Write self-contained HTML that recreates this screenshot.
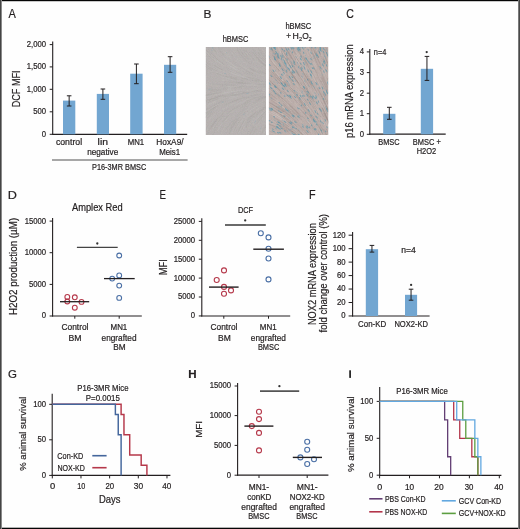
<!DOCTYPE html>
<html><head><meta charset="utf-8"><style>
html,body{margin:0;padding:0;background:#fff;}
body{width:520px;height:529px;overflow:hidden;position:relative;}
svg{position:absolute;left:0;top:0;will-change:transform;}
text{font-family:"Liberation Sans",sans-serif;stroke:#231f20;stroke-width:0.2px;}
</style></head><body>
<svg width="520" height="529" viewBox="0 0 520 529">
<defs><filter id="nz" x="0" y="0" width="100%" height="100%"><feTurbulence type="fractalNoise" baseFrequency="0.8" numOctaves="2" seed="4"/><feColorMatrix type="matrix" values="0.6 0.2 0.2 0 0.05  0.2 0.6 0.2 0 0.05  0.2 0.2 0.6 0 0.05  0 0 0 0 1"/></filter></defs>
<rect x="0" y="0" width="520" height="529" fill="#fefefe"/>
<text x="8.48" y="17.70" font-size="12.3" textLength="7.34" lengthAdjust="spacingAndGlyphs" fill="#231f20">A</text>
<line x1="52.7" y1="41.5" x2="52.7" y2="134.8" stroke="#231f20" stroke-width="1.1"/>
<line x1="49.7" y1="44.6" x2="52.7" y2="44.6" stroke="#231f20" stroke-width="1.0"/>
<text x="26.81" y="47.00" font-size="8.2" textLength="19.29" lengthAdjust="spacingAndGlyphs" fill="#231f20">2,000</text>
<line x1="49.7" y1="66.9" x2="52.7" y2="66.9" stroke="#231f20" stroke-width="1.0"/>
<text x="26.81" y="69.30" font-size="8.2" textLength="19.29" lengthAdjust="spacingAndGlyphs" fill="#231f20">1,500</text>
<line x1="49.7" y1="89.3" x2="52.7" y2="89.3" stroke="#231f20" stroke-width="1.0"/>
<text x="26.81" y="91.70" font-size="8.2" textLength="19.29" lengthAdjust="spacingAndGlyphs" fill="#231f20">1,000</text>
<line x1="49.7" y1="111.8" x2="52.7" y2="111.8" stroke="#231f20" stroke-width="1.0"/>
<text x="33.24" y="114.20" font-size="8.2" textLength="12.86" lengthAdjust="spacingAndGlyphs" fill="#231f20">500</text>
<line x1="49.7" y1="134.3" x2="52.7" y2="134.3" stroke="#231f20" stroke-width="1.0"/>
<text x="41.81" y="136.70" font-size="8.2" textLength="4.29" lengthAdjust="spacingAndGlyphs" fill="#231f20">0</text>
<line x1="52.2" y1="134.3" x2="187.2" y2="134.3" stroke="#231f20" stroke-width="1.2"/>
<rect x="63" y="100.6" width="12.299999999999997" height="33.70000000000002" fill="#72a6d1"/>
<line x1="69.15" y1="95.8" x2="69.15" y2="106" stroke="#231f20" stroke-width="1.0"/>
<line x1="66.85000000000001" y1="95.8" x2="71.45" y2="95.8" stroke="#231f20" stroke-width="1.0"/>
<line x1="66.85000000000001" y1="106" x2="71.45" y2="106" stroke="#231f20" stroke-width="1.0"/>
<rect x="96.8" y="93.9" width="12.200000000000003" height="40.400000000000006" fill="#72a6d1"/>
<line x1="102.9" y1="89" x2="102.9" y2="99.3" stroke="#231f20" stroke-width="1.0"/>
<line x1="100.60000000000001" y1="89" x2="105.2" y2="89" stroke="#231f20" stroke-width="1.0"/>
<line x1="100.60000000000001" y1="99.3" x2="105.2" y2="99.3" stroke="#231f20" stroke-width="1.0"/>
<rect x="130.2" y="73.7" width="12.400000000000006" height="60.60000000000001" fill="#72a6d1"/>
<line x1="136.39999999999998" y1="64" x2="136.39999999999998" y2="83.7" stroke="#231f20" stroke-width="1.0"/>
<line x1="134.09999999999997" y1="64" x2="138.7" y2="64" stroke="#231f20" stroke-width="1.0"/>
<line x1="134.09999999999997" y1="83.7" x2="138.7" y2="83.7" stroke="#231f20" stroke-width="1.0"/>
<rect x="164.0" y="64.8" width="12.199999999999989" height="69.50000000000001" fill="#72a6d1"/>
<line x1="170.1" y1="56.7" x2="170.1" y2="72.3" stroke="#231f20" stroke-width="1.0"/>
<line x1="167.79999999999998" y1="56.7" x2="172.4" y2="56.7" stroke="#231f20" stroke-width="1.0"/>
<line x1="167.79999999999998" y1="72.3" x2="172.4" y2="72.3" stroke="#231f20" stroke-width="1.0"/>
<text x="55.93" y="144.90" font-size="8.2" textLength="26.15" lengthAdjust="spacingAndGlyphs" fill="#231f20">control</text>
<text x="97.60" y="144.90" font-size="8.2" textLength="10.37" lengthAdjust="spacingAndGlyphs" fill="#231f20">lin</text>
<text x="87.15" y="155.10" font-size="8.2" textLength="31.11" lengthAdjust="spacingAndGlyphs" fill="#231f20">negative</text>
<text x="127.76" y="144.90" font-size="8.2" textLength="16.42" lengthAdjust="spacingAndGlyphs" fill="#231f20">MN1</text>
<text x="156.32" y="145.10" font-size="8.2" textLength="27.28" lengthAdjust="spacingAndGlyphs" fill="#231f20">HoxA9/</text>
<text x="159.15" y="155.10" font-size="8.2" textLength="21.03" lengthAdjust="spacingAndGlyphs" fill="#231f20">Meis1</text>
<line x1="52" y1="160" x2="187.6" y2="160" stroke="#8a8a8a" stroke-width="1.6"/>
<text x="92.10" y="170.10" font-size="8.2" textLength="54.08" lengthAdjust="spacingAndGlyphs" fill="#231f20">P16-3MR BMSC</text>
<text transform="translate(19.60,107.24) rotate(-90)" font-size="11" textLength="36.78" lengthAdjust="spacingAndGlyphs" fill="#231f20">DCF MFI</text>
<text x="203.53" y="17.60" font-size="11.6" textLength="7.90" lengthAdjust="spacingAndGlyphs" fill="#231f20">B</text>
<text x="222.68" y="42.40" font-size="8.2" textLength="25.60" lengthAdjust="spacingAndGlyphs" fill="#231f20">hBMSC</text>
<text x="285.38" y="29.20" font-size="8.2" textLength="25.91" lengthAdjust="spacingAndGlyphs" fill="#231f20">hBMSC</text>
<rect x="205.8" y="47" width="60.2" height="88" fill="#b4afad"/>
<clipPath id="cp205"><rect x="205.8" y="47" width="60.2" height="88"/></clipPath><g clip-path="url(#cp205)">
<path d="M223.9,57.5 L225.3,58.9 L226.8,60.2 L228.3,61.5 L229.9,62.7 L231.5,63.9 L233.2,65.1 L234.8,66.1 L236.5,67.2" fill="none" stroke="#c9c5c3" stroke-width="0.6" opacity="0.4"/>
<path d="M257.8,52.0 L258.9,53.7 L260.1,55.3 L261.4,56.8 L262.7,58.3 L264.1,59.8 L265.6,61.2 L267.0,62.5 L268.6,63.8" fill="none" stroke="#9e9896" stroke-width="0.6" opacity="0.4"/>
<path d="M204.4,84.6 L206.4,84.7 L208.4,84.8 L210.4,84.9 L212.3,85.0" fill="none" stroke="#c9c5c3" stroke-width="0.6" opacity="0.4"/>
<path d="M239.4,48.7 L240.4,50.4 L241.5,52.1 L242.7,53.7 L243.9,55.2 L245.3,56.7 L246.6,58.2 L248.0,59.6" fill="none" stroke="#9e9896" stroke-width="0.6" opacity="0.4"/>
<path d="M244.8,99.0 L246.7,98.3 L248.6,97.7 L250.5,97.1 L252.4,96.6" fill="none" stroke="#a7a2a0" stroke-width="0.6" opacity="0.4"/>
<path d="M205.2,64.2 L206.9,65.3 L208.6,66.3 L210.3,67.3 L212.1,68.3 L213.9,69.2 L215.7,70.0 L217.5,70.9" fill="none" stroke="#9e9896" stroke-width="0.6" opacity="0.4"/>
<path d="M221.6,56.8 L223.0,58.3 L224.4,59.6 L226.0,60.9 L227.5,62.2" fill="none" stroke="#c2bebc" stroke-width="0.6" opacity="0.4"/>
<path d="M240.0,108.5 L241.7,107.4 L243.4,106.3 L245.1,105.3 L246.9,104.4" fill="none" stroke="#9e9896" stroke-width="0.6" opacity="0.4"/>
<path d="M227.2,95.6 L229.1,95.1 L231.1,94.7 L233.1,94.3 L235.0,93.9" fill="none" stroke="#c9c5c3" stroke-width="0.6" opacity="0.4"/>
<path d="M244.0,90.7 L246.0,90.5 L248.0,90.3 L250.0,90.1 L252.0,89.9 L254.0,89.7 L256.0,89.6 L258.0,89.4" fill="none" stroke="#c2bebc" stroke-width="0.6" opacity="0.4"/>
<path d="M233.6,131.7 L234.4,129.8 L235.2,128.0 L236.2,126.2 L237.1,124.5 L238.2,122.8 L239.3,121.2" fill="none" stroke="#9e9896" stroke-width="0.6" opacity="0.4"/>
<path d="M256.0,110.1 L257.6,108.9 L259.2,107.8 L260.9,106.7 L262.6,105.6 L264.3,104.6" fill="none" stroke="#c2bebc" stroke-width="0.6" opacity="0.4"/>
<path d="M237.6,127.0 L238.6,125.3 L239.6,123.5 L240.7,121.9 L241.9,120.2 L243.1,118.7 L244.4,117.2 L245.8,115.7 L247.2,114.3 L248.7,112.9" fill="none" stroke="#c2bebc" stroke-width="0.6" opacity="0.4"/>
<path d="M243.3,50.0 L244.4,51.7 L245.6,53.3 L246.8,54.9 L248.1,56.5 L249.4,57.9 L250.8,59.4 L252.3,60.7" fill="none" stroke="#9e9896" stroke-width="0.6" opacity="0.4"/>
<path d="M253.4,57.6 L254.8,59.0 L256.2,60.4 L257.7,61.8 L259.3,63.1 L260.8,64.3 L262.4,65.5 L264.1,66.6" fill="none" stroke="#c9c5c3" stroke-width="0.6" opacity="0.4"/>
<path d="M267.4,50.5 L268.4,52.2 L269.5,53.8 L270.7,55.5 L271.9,57.0 L273.3,58.5 L274.6,60.0 L276.0,61.4" fill="none" stroke="#c2bebc" stroke-width="0.6" opacity="0.4"/>
<path d="M225.0,76.6 L226.9,77.1 L228.9,77.6 L230.8,78.1 L232.8,78.6 L234.7,79.0 L236.7,79.4 L238.6,79.8" fill="none" stroke="#a7a2a0" stroke-width="0.6" opacity="0.4"/>
<path d="M206.5,52.0 L207.8,53.5 L209.1,55.0 L210.5,56.4 L211.9,57.8 L213.4,59.2" fill="none" stroke="#c9c5c3" stroke-width="0.6" opacity="0.4"/>
<path d="M205.9,110.3 L207.6,109.2 L209.3,108.1 L211.0,107.1 L212.7,106.1 L214.5,105.1 L216.3,104.2 L218.0,103.4 L219.9,102.5" fill="none" stroke="#a7a2a0" stroke-width="0.6" opacity="0.4"/>
<path d="M221.2,80.0 L223.2,80.4 L225.2,80.7 L227.1,81.0 L229.1,81.3 L231.1,81.6 L233.1,81.9 L235.0,82.2 L237.0,82.4" fill="none" stroke="#c9c5c3" stroke-width="0.6" opacity="0.4"/>
<path d="M266.0,77.1 L267.9,77.7 L269.8,78.2 L271.7,78.7 L273.7,79.2 L275.6,79.6 L277.6,80.1 L279.5,80.5 L281.5,80.8" fill="none" stroke="#a7a2a0" stroke-width="0.6" opacity="0.4"/>
<path d="M205.8,116.8 L207.3,115.4 L208.8,114.0 L210.3,112.8 L211.9,111.5" fill="none" stroke="#9e9896" stroke-width="0.6" opacity="0.4"/>
<path d="M228.9,131.0 L229.8,129.2 L230.7,127.4 L231.6,125.6 L232.6,123.9 L233.7,122.3 L234.9,120.6 L236.2,119.1" fill="none" stroke="#9e9896" stroke-width="0.6" opacity="0.4"/>
<path d="M232.4,95.7 L234.4,95.3 L236.3,94.8 L238.3,94.4 L240.2,94.0 L242.2,93.6 L244.2,93.3 L246.1,92.9 L248.1,92.6 L250.1,92.3 L252.1,92.0" fill="none" stroke="#a7a2a0" stroke-width="0.6" opacity="0.4"/>
<path d="M260.7,69.7 L262.5,70.7 L264.3,71.5 L266.1,72.4 L267.9,73.2 L269.8,74.0 L271.6,74.7" fill="none" stroke="#c2bebc" stroke-width="0.6" opacity="0.4"/>
<path d="M248.4,79.5 L250.3,79.9 L252.3,80.3 L254.3,80.7 L256.2,81.0 L258.2,81.4" fill="none" stroke="#c9c5c3" stroke-width="0.6" opacity="0.4"/>
<path d="M213.8,65.3 L215.5,66.3 L217.3,67.3 L219.0,68.3 L220.8,69.2 L222.6,70.1" fill="none" stroke="#a7a2a0" stroke-width="0.6" opacity="0.4"/>
<path d="M258.5,60.5 L260.0,61.9 L261.5,63.1 L263.1,64.4 L264.7,65.6 L266.3,66.7" fill="none" stroke="#9e9896" stroke-width="0.6" opacity="0.4"/>
<path d="M230.4,78.4 L232.3,78.9 L234.3,79.3 L236.2,79.7 L238.2,80.1 L240.2,80.4 L242.1,80.8 L244.1,81.1" fill="none" stroke="#9e9896" stroke-width="0.6" opacity="0.4"/>
<path d="M248.9,92.5 L250.9,92.2 L252.8,91.9 L254.8,91.6 L256.8,91.4 L258.8,91.1 L260.8,90.9 L262.8,90.7 L264.8,90.5" fill="none" stroke="#c9c5c3" stroke-width="0.6" opacity="0.4"/>
<path d="M232.9,126.6 L233.9,124.9 L235.0,123.2 L236.1,121.5 L237.3,119.9 L238.6,118.4 L239.9,116.9 L241.3,115.4 L242.7,114.0 L244.2,112.7 L245.7,111.4" fill="none" stroke="#a7a2a0" stroke-width="0.6" opacity="0.4"/>
<path d="M228.9,80.8 L230.9,81.1 L232.9,81.4 L234.9,81.7 L236.9,82.0 L238.8,82.3 L240.8,82.5 L242.8,82.7" fill="none" stroke="#a7a2a0" stroke-width="0.6" opacity="0.4"/>
<path d="M206.0,49.5 L207.2,51.1 L208.5,52.6 L209.8,54.2 L211.1,55.6 L212.5,57.1" fill="none" stroke="#9e9896" stroke-width="0.6" opacity="0.4"/>
<path d="M209.3,100.7 L211.2,100.0 L213.1,99.3 L215.0,98.7 L216.9,98.1" fill="none" stroke="#9e9896" stroke-width="0.6" opacity="0.4"/>
<path d="M238.4,134.1 L239.2,132.3 L240.1,130.5 L240.9,128.7 L241.8,126.9 L242.7,125.1 L243.8,123.4 L244.9,121.7 L246.0,120.1" fill="none" stroke="#c9c5c3" stroke-width="0.6" opacity="0.4"/>
<path d="M261.4,102.0 L263.3,101.1 L265.1,100.4 L267.0,99.6 L268.8,98.9 L270.7,98.3" fill="none" stroke="#c2bebc" stroke-width="0.6" opacity="0.4"/>
<path d="M267.0,100.8 L268.8,100.1 L270.7,99.3 L272.6,98.7 L274.5,98.0 L276.4,97.4 L278.3,96.8 L280.2,96.3" fill="none" stroke="#c9c5c3" stroke-width="0.6" opacity="0.4"/>
<path d="M259.7,138.3 L260.5,136.5 L261.4,134.7 L262.2,132.9 L263.1,131.1 L263.9,129.3 L264.8,127.5 L265.6,125.6" fill="none" stroke="#a7a2a0" stroke-width="0.6" opacity="0.4"/>
<path d="M223.1,56.8 L224.5,58.2 L226.0,59.6 L227.5,60.9 L229.0,62.2 L230.6,63.4 L232.2,64.5 L233.9,65.7 L235.6,66.7 L237.3,67.7" fill="none" stroke="#c2bebc" stroke-width="0.6" opacity="0.4"/>
<path d="M234.4,109.4 L236.1,108.3 L237.8,107.2 L239.5,106.2 L241.2,105.2 L243.0,104.2 L244.8,103.3 L246.6,102.5" fill="none" stroke="#9e9896" stroke-width="0.6" opacity="0.4"/>
<path d="M266.7,93.7 L268.6,93.3 L270.6,93.0 L272.6,92.7 L274.5,92.3 L276.5,92.0" fill="none" stroke="#c9c5c3" stroke-width="0.6" opacity="0.4"/>
<path d="M253.5,71.6 L255.3,72.4 L257.2,73.2 L259.0,74.0 L260.9,74.7 L262.8,75.4 L264.7,76.0 L266.6,76.6 L268.5,77.2" fill="none" stroke="#c9c5c3" stroke-width="0.6" opacity="0.4"/>
<path d="M249.3,68.1 L251.0,69.1 L252.8,70.0 L254.6,70.9 L256.4,71.8 L258.2,72.6 L260.0,73.4" fill="none" stroke="#9e9896" stroke-width="0.6" opacity="0.4"/>
<path d="M226.1,64.4 L227.7,65.5 L229.4,66.6 L231.1,67.6 L232.9,68.6 L234.7,69.5 L236.4,70.4 L238.3,71.2" fill="none" stroke="#c2bebc" stroke-width="0.6" opacity="0.4"/>
<path d="M245.2,101.9 L247.0,101.1 L248.9,100.3 L250.8,99.6 L252.6,98.9 L254.5,98.3 L256.4,97.7 L258.4,97.1 L260.3,96.5 L262.2,96.0" fill="none" stroke="#9e9896" stroke-width="0.6" opacity="0.4"/>
<path d="M256.8,121.6 L257.9,119.9 L259.1,118.3 L260.4,116.8 L261.8,115.3 L263.2,113.9 L264.6,112.5 L266.1,111.2 L267.7,110.0 L269.3,108.8" fill="none" stroke="#9e9896" stroke-width="0.6" opacity="0.4"/>
<path d="M215.4,90.3 L217.4,90.1 L219.4,89.9 L221.4,89.8 L223.4,89.6 L225.4,89.5 L227.4,89.3 L229.4,89.2 L231.4,89.1 L233.4,88.9" fill="none" stroke="#c9c5c3" stroke-width="0.6" opacity="0.4"/>
<path d="M255.7,88.3 L257.7,88.3 L259.7,88.2 L261.7,88.1 L263.7,88.1 L265.7,88.0" fill="none" stroke="#c2bebc" stroke-width="0.6" opacity="0.4"/>
<path d="M232.3,133.0 L233.1,131.1 L234.0,129.3 L234.8,127.5 L235.8,125.7 L236.8,124.0 L237.9,122.3 L239.0,120.7 L240.3,119.1 L241.6,117.6 L242.9,116.1" fill="none" stroke="#c2bebc" stroke-width="0.6" opacity="0.4"/>
<path d="M207.3,52.8 L208.6,54.3 L210.0,55.8 L211.4,57.2 L212.8,58.6 L214.3,59.9 L215.9,61.1 L217.5,62.4" fill="none" stroke="#c2bebc" stroke-width="0.6" opacity="0.4"/>
<path d="M215.7,102.9 L217.6,102.1 L219.4,101.3 L221.3,100.6 L223.1,99.9 L225.0,99.2 L226.9,98.6 L228.8,98.0 L230.7,97.4 L232.7,96.8 L234.6,96.3" fill="none" stroke="#c9c5c3" stroke-width="0.6" opacity="0.4"/>
<path d="M234.5,105.7 L236.3,104.7 L238.0,103.8 L239.8,102.9 L241.6,102.1 L243.5,101.3 L245.3,100.5 L247.2,99.8 L249.1,99.1 L251.0,98.5" fill="none" stroke="#c9c5c3" stroke-width="0.6" opacity="0.4"/>
<path d="M258.7,54.5 L260.0,56.1 L261.3,57.6 L262.6,59.1 L264.0,60.5 L265.5,61.8 L267.0,63.1" fill="none" stroke="#9e9896" stroke-width="0.6" opacity="0.4"/>
<path d="M234.4,60.1 L235.9,61.4 L237.5,62.7 L239.1,63.9 L240.7,65.1 L242.4,66.2 L244.1,67.2 L245.8,68.3 L247.5,69.2 L249.3,70.2" fill="none" stroke="#c2bebc" stroke-width="0.6" opacity="0.4"/>
<path d="M207.7,133.8 L208.6,132.0 L209.4,130.2 L210.3,128.4 L211.3,126.7 L212.3,125.0 L213.4,123.3 L214.6,121.7 L215.9,120.1 L217.2,118.6" fill="none" stroke="#a7a2a0" stroke-width="0.6" opacity="0.4"/>
<path d="M229.2,133.9 L230.0,132.1 L230.9,130.3 L231.7,128.5 L232.6,126.7 L233.6,124.9 L234.6,123.2 L235.8,121.6 L237.0,120.0 L238.2,118.4" fill="none" stroke="#9e9896" stroke-width="0.6" opacity="0.4"/>
<path d="M269.5,45.6 L270.4,47.5 L271.2,49.3 L272.2,51.0 L273.2,52.7 L274.3,54.4 L275.5,56.0 L276.8,57.6 L278.1,59.1" fill="none" stroke="#a7a2a0" stroke-width="0.6" opacity="0.4"/>
<path d="M256.8,57.0 L258.2,58.5 L259.6,59.9 L261.0,61.3 L262.5,62.6 L264.1,63.9 L265.7,65.1 L267.3,66.3 L268.9,67.4 L270.6,68.4" fill="none" stroke="#a7a2a0" stroke-width="0.6" opacity="0.4"/>
<path d="M246.6,76.6 L248.5,77.2 L250.5,77.7 L252.4,78.2 L254.4,78.7 L256.3,79.2 L258.3,79.6 L260.2,80.0" fill="none" stroke="#9e9896" stroke-width="0.6" opacity="0.4"/>
<path d="M203.3,119.7 L204.6,118.3 L206.0,116.8 L207.4,115.4 L208.9,114.1 L210.5,112.8 L212.0,111.6 L213.6,110.4 L215.3,109.3 L217.0,108.2" fill="none" stroke="#c9c5c3" stroke-width="0.6" opacity="0.4"/>
<path d="M237.7,132.6 L238.6,130.8 L239.4,129.0 L240.3,127.2 L241.2,125.4 L242.2,123.7 L243.3,122.0 L244.4,120.4" fill="none" stroke="#9e9896" stroke-width="0.6" opacity="0.4"/>
<path d="M258.1,63.3 L259.7,64.5 L261.3,65.7 L263.0,66.8 L264.7,67.9 L266.4,68.9" fill="none" stroke="#c2bebc" stroke-width="0.6" opacity="0.4"/>
<path d="M236.0,116.3 L237.4,114.9 L238.9,113.5 L240.4,112.2 L241.9,111.0 L243.5,109.7 L245.1,108.6" fill="none" stroke="#a7a2a0" stroke-width="0.6" opacity="0.4"/>
<path d="M258.7,48.8 L259.7,50.6 L260.7,52.3 L261.8,53.9 L263.0,55.5 L264.3,57.1 L265.6,58.6 L267.0,60.0 L268.5,61.4 L270.0,62.7" fill="none" stroke="#a7a2a0" stroke-width="0.6" opacity="0.4"/>
<path d="M247.0,121.2 L248.2,119.6 L249.4,118.1 L250.7,116.6 L252.1,115.1 L253.5,113.7 L255.0,112.4 L256.5,111.1" fill="none" stroke="#9e9896" stroke-width="0.6" opacity="0.4"/>
<path d="M238.1,93.3 L240.0,92.9 L242.0,92.6 L244.0,92.3 L246.0,92.0" fill="none" stroke="#a7a2a0" stroke-width="0.6" opacity="0.4"/>
<path d="M254.8,101.4 L256.6,100.6 L258.5,99.9 L260.3,99.2 L262.2,98.5 L264.1,97.9 L266.0,97.3 L267.9,96.7 L269.9,96.2 L271.8,95.7" fill="none" stroke="#9e9896" stroke-width="0.6" opacity="0.4"/>
<path d="M213.6,88.5 L215.6,88.4 L217.6,88.3 L219.5,88.2 L221.5,88.1 L223.5,88.0 L225.5,88.0 L227.5,87.9 L229.5,87.9 L231.5,87.8" fill="none" stroke="#c9c5c3" stroke-width="0.6" opacity="0.4"/>
<path d="M224.0,92.8 L226.0,92.4 L228.0,92.2 L230.0,91.9 L231.9,91.6 L233.9,91.3 L235.9,91.1 L237.9,90.9" fill="none" stroke="#c9c5c3" stroke-width="0.6" opacity="0.4"/>
<path d="M262.0,48.5 L263.0,50.2 L264.0,51.9 L265.1,53.6 L266.3,55.2 L267.5,56.8" fill="none" stroke="#c9c5c3" stroke-width="0.6" opacity="0.4"/>
<path d="M254.5,91.7 L256.5,91.5 L258.4,91.2 L260.4,91.0 L262.4,90.8 L264.4,90.6 L266.4,90.4 L268.4,90.2" fill="none" stroke="#c9c5c3" stroke-width="0.6" opacity="0.4"/>
<path d="M232.0,101.8 L233.9,101.0 L235.7,100.3 L237.6,99.6 L239.5,98.9 L241.4,98.3 L243.3,97.7 L245.2,97.1" fill="none" stroke="#9e9896" stroke-width="0.6" opacity="0.4"/>
<path d="M249.0,86.4 L251.0,86.5 L253.0,86.5 L255.0,86.5 L257.0,86.5 L259.0,86.6 L261.0,86.6 L263.0,86.6" fill="none" stroke="#a7a2a0" stroke-width="0.6" opacity="0.4"/>
<path d="M236.4,66.8 L238.1,67.8 L239.9,68.8 L241.7,69.7 L243.4,70.6 L245.3,71.5 L247.1,72.3 L248.9,73.1" fill="none" stroke="#c2bebc" stroke-width="0.6" opacity="0.4"/>
<path d="M264.7,128.7 L265.6,126.9 L266.4,125.1 L267.4,123.3 L268.4,121.6 L269.6,120.0" fill="none" stroke="#a7a2a0" stroke-width="0.6" opacity="0.4"/>
<path d="M211.2,54.7 L212.5,56.1 L213.9,57.5 L215.4,58.9 L216.9,60.2 L218.5,61.5 L220.1,62.7 L221.7,63.9" fill="none" stroke="#c9c5c3" stroke-width="0.6" opacity="0.4"/>
<path d="M247.6,84.1 L249.6,84.3 L251.6,84.4 L253.6,84.6 L255.6,84.7 L257.5,84.8" fill="none" stroke="#c2bebc" stroke-width="0.6" opacity="0.4"/>
<path d="M255.3,129.1 L256.1,127.3 L257.0,125.5 L257.9,123.8 L259.0,122.0 L260.1,120.4" fill="none" stroke="#c2bebc" stroke-width="0.6" opacity="0.4"/>
<path d="M211.6,127.8 L212.5,126.0 L213.6,124.3 L214.8,122.7 L216.0,121.1 L217.2,119.5 L218.5,118.0 L219.9,116.6 L221.4,115.2 L222.8,113.8 L224.4,112.5" fill="none" stroke="#9e9896" stroke-width="0.6" opacity="0.4"/>
<path d="M252.7,52.0 L253.9,53.7 L255.1,55.3 L256.4,56.8 L257.7,58.3 L259.1,59.7 L260.5,61.1 L262.0,62.4 L263.6,63.7 L265.2,64.9 L266.8,66.1" fill="none" stroke="#9e9896" stroke-width="0.6" opacity="0.4"/>
<path d="M269.3,122.9 L270.4,121.2 L271.5,119.6 L272.7,118.0 L274.0,116.4 L275.3,114.9" fill="none" stroke="#a7a2a0" stroke-width="0.6" opacity="0.4"/>
<path d="M269.6,81.8 L271.6,82.1 L273.6,82.4 L275.5,82.6 L277.5,82.9 L279.5,83.1 L281.5,83.4" fill="none" stroke="#c2bebc" stroke-width="0.6" opacity="0.4"/>
<path d="M223.5,112.3 L225.1,111.1 L226.7,109.9 L228.3,108.8 L230.0,107.7" fill="none" stroke="#a7a2a0" stroke-width="0.6" opacity="0.4"/>
<path d="M231.8,44.7 L232.7,46.5 L233.7,48.3 L234.7,50.0 L235.8,51.7 L237.0,53.3 L238.2,54.8" fill="none" stroke="#c2bebc" stroke-width="0.6" opacity="0.4"/>
<path d="M236.7,49.2 L237.8,50.9 L238.9,52.5 L240.1,54.1 L241.4,55.6 L242.7,57.1 L244.1,58.6 L245.6,60.0 L247.1,61.3 L248.6,62.6 L250.2,63.8" fill="none" stroke="#9e9896" stroke-width="0.6" opacity="0.4"/>
<path d="M268.1,53.1 L269.2,54.7 L270.4,56.3 L271.7,57.8 L273.0,59.3 L274.5,60.7" fill="none" stroke="#c9c5c3" stroke-width="0.6" opacity="0.4"/>
<path d="M263.6,60.4 L265.0,61.8 L266.6,63.1 L268.1,64.3 L269.7,65.5 L271.4,66.7 L273.0,67.8 L274.7,68.8 L276.5,69.8 L278.2,70.8" fill="none" stroke="#a7a2a0" stroke-width="0.6" opacity="0.4"/>
<path d="M259.7,107.9 L261.4,106.8 L263.1,105.7 L264.8,104.7 L266.6,103.8 L268.4,102.9 L270.2,102.0 L272.0,101.2 L273.8,100.4 L275.7,99.7 L277.6,99.0" fill="none" stroke="#a7a2a0" stroke-width="0.6" opacity="0.4"/>
<path d="M212.0,131.2 L212.8,129.4 L213.7,127.7 L214.7,125.9 L215.8,124.2 L216.9,122.6 L218.2,121.0 L219.4,119.4" fill="none" stroke="#c2bebc" stroke-width="0.6" opacity="0.4"/>
<path d="M207.9,48.5 L209.0,50.2 L210.2,51.8 L211.5,53.3 L212.8,54.8 L214.2,56.3 L215.6,57.7 L217.1,59.0 L218.6,60.3" fill="none" stroke="#a7a2a0" stroke-width="0.6" opacity="0.4"/>
<path d="M262.9,68.8 L264.6,69.8 L266.4,70.7 L268.2,71.6 L270.0,72.5" fill="none" stroke="#c9c5c3" stroke-width="0.6" opacity="0.4"/>
<path d="M256.5,51.0 L257.6,52.7 L258.7,54.4 L259.9,55.9 L261.2,57.5 L262.6,58.9 L264.0,60.3 L265.5,61.7 L267.0,63.0 L268.5,64.3" fill="none" stroke="#c9c5c3" stroke-width="0.6" opacity="0.4"/>
<path d="M219.8,54.7 L221.2,56.2 L222.6,57.6 L224.0,59.0 L225.5,60.3" fill="none" stroke="#a7a2a0" stroke-width="0.6" opacity="0.4"/>
<path d="M265.0,68.7 L266.7,69.7 L268.5,70.6 L270.3,71.5 L272.1,72.4" fill="none" stroke="#9e9896" stroke-width="0.6" opacity="0.4"/>
<path d="M265.8,136.0 L266.6,134.2 L267.5,132.4 L268.3,130.6 L269.2,128.8 L270.0,127.0" fill="none" stroke="#9e9896" stroke-width="0.6" opacity="0.4"/>
<path d="M215.6,73.0 L217.4,73.6 L219.3,74.3 L221.2,74.9 L223.1,75.5 L225.0,76.1 L227.0,76.7" fill="none" stroke="#9e9896" stroke-width="0.6" opacity="0.4"/>
<path d="M221.6,91.0 L223.6,90.8 L225.6,90.6 L227.5,90.4 L229.5,90.2 L231.5,90.0" fill="none" stroke="#c2bebc" stroke-width="0.6" opacity="0.4"/>
<path d="M256.6,138.5 L257.5,136.7 L258.3,134.8 L259.1,133.0 L260.0,131.2" fill="none" stroke="#c9c5c3" stroke-width="0.6" opacity="0.4"/>
<path d="M251.8,95.9 L253.7,95.4 L255.7,95.0 L257.6,94.5 L259.6,94.1 L261.6,93.7" fill="none" stroke="#a7a2a0" stroke-width="0.6" opacity="0.4"/>
<path d="M218.6,85.9 L220.6,86.0 L222.6,86.0 L224.6,86.0 L226.6,86.1 L228.6,86.1 L230.6,86.1 L232.6,86.2 L234.6,86.2" fill="none" stroke="#a7a2a0" stroke-width="0.6" opacity="0.4"/>
<path d="M246.6,95.4 L248.5,94.9 L250.5,94.5 L252.4,94.1 L254.4,93.7 L256.4,93.3 L258.3,93.0 L260.3,92.7 L262.3,92.3 L264.3,92.0 L266.2,91.8" fill="none" stroke="#c2bebc" stroke-width="0.6" opacity="0.4"/>
<path d="M248.7,137.3 L249.5,135.5 L250.4,133.7 L251.2,131.9 L252.1,130.1 L252.9,128.3 L253.8,126.4" fill="none" stroke="#9e9896" stroke-width="0.6" opacity="0.4"/>
<path d="M229.4,76.4 L231.3,76.9 L233.3,77.4 L235.2,77.9 L237.1,78.4" fill="none" stroke="#9e9896" stroke-width="0.6" opacity="0.4"/>
<path d="M202.8,103.0 L204.6,102.2 L206.5,101.5 L208.3,100.7 L210.2,100.0 L212.1,99.4 L214.0,98.7 L215.9,98.1 L217.8,97.5 L219.7,97.0 L221.6,96.5" fill="none" stroke="#a7a2a0" stroke-width="0.6" opacity="0.4"/>
<path d="M212.9,51.1 L214.2,52.7 L215.4,54.2 L216.8,55.7 L218.2,57.1 L219.6,58.5 L221.1,59.9 L222.6,61.1 L224.2,62.4 L225.8,63.6" fill="none" stroke="#c2bebc" stroke-width="0.6" opacity="0.4"/>
<path d="M242.6,109.5 L244.3,108.3 L245.9,107.2 L247.6,106.2 L249.4,105.2" fill="none" stroke="#9e9896" stroke-width="0.6" opacity="0.4"/>
<path d="M212.5,85.8 L214.5,85.8 L216.5,85.9 L218.5,85.9 L220.5,86.0 L222.5,86.0" fill="none" stroke="#c2bebc" stroke-width="0.6" opacity="0.4"/>
<path d="M268.1,95.5 L270.1,95.0 L272.0,94.6 L274.0,94.2 L275.9,93.8 L277.9,93.4" fill="none" stroke="#c2bebc" stroke-width="0.6" opacity="0.4"/>
<path d="M216.7,60.6 L218.2,61.8 L219.8,63.0 L221.5,64.2 L223.1,65.3 L224.8,66.3 L226.5,67.4" fill="none" stroke="#c9c5c3" stroke-width="0.6" opacity="0.4"/>
<path d="M234.2,91.3 L236.2,91.0 L238.1,90.8 L240.1,90.6 L242.1,90.4 L244.1,90.2" fill="none" stroke="#c9c5c3" stroke-width="0.6" opacity="0.4"/>
<path d="M208.0,121.4 L209.3,119.9 L210.6,118.4 L212.0,116.9 L213.4,115.5 L214.9,114.2" fill="none" stroke="#c9c5c3" stroke-width="0.6" opacity="0.4"/>
<path d="M228.7,71.8 L230.5,72.5 L232.4,73.3 L234.2,74.0 L236.1,74.7 L238.0,75.3 L239.9,75.9 L241.8,76.5 L243.8,77.0" fill="none" stroke="#c9c5c3" stroke-width="0.6" opacity="0.4"/>
<path d="M241.7,93.8 L243.7,93.4 L245.7,93.1 L247.6,92.7 L249.6,92.4 L251.6,92.1 L253.6,91.8 L255.6,91.6 L257.5,91.3 L259.5,91.1" fill="none" stroke="#a7a2a0" stroke-width="0.6" opacity="0.4"/>
<path d="M253.9,112.2 L255.5,110.9 L257.0,109.7 L258.7,108.5 L260.3,107.4 L262.0,106.3 L263.7,105.3 L265.5,104.3" fill="none" stroke="#c2bebc" stroke-width="0.6" opacity="0.4"/>
<path d="M251.2,104.7 L253.0,103.8 L254.7,102.9 L256.6,102.1 L258.4,101.2" fill="none" stroke="#a7a2a0" stroke-width="0.6" opacity="0.4"/>
<path d="M251.8,121.0 L253.0,119.4 L254.3,117.8 L255.6,116.3 L257.0,114.8" fill="none" stroke="#c9c5c3" stroke-width="0.6" opacity="0.4"/>
<path d="M258.2,99.1 L260.0,98.4 L261.9,97.8 L263.9,97.2 L265.8,96.6 L267.7,96.1 L269.6,95.6 L271.6,95.1 L273.5,94.7 L275.5,94.2 L277.4,93.8" fill="none" stroke="#9e9896" stroke-width="0.6" opacity="0.4"/>
<path d="M207.6,47.0 L208.7,48.7 L209.8,50.3 L211.0,51.9 L212.3,53.5 L213.6,55.0 L215.0,56.4 L216.4,57.8 L217.9,59.2" fill="none" stroke="#c9c5c3" stroke-width="0.6" opacity="0.4"/>
<path d="M227.5,86.3 L229.5,86.4 L231.5,86.4 L233.5,86.4 L235.5,86.4" fill="none" stroke="#c9c5c3" stroke-width="0.6" opacity="0.4"/>
<path d="M244.5,108.3 L246.2,107.2 L247.9,106.2 L249.6,105.2 L251.4,104.2 L253.1,103.3 L254.9,102.4 L256.8,101.6" fill="none" stroke="#c9c5c3" stroke-width="0.6" opacity="0.4"/>
<path d="M233.0,49.7 L234.1,51.4 L235.2,53.0 L236.5,54.6 L237.8,56.1 L239.1,57.6 L240.5,59.0 L242.0,60.4 L243.5,61.7 L245.1,62.9 L246.7,64.2" fill="none" stroke="#c9c5c3" stroke-width="0.6" opacity="0.4"/>
<path d="M246.8,49.3 L247.8,51.1 L248.9,52.7 L250.1,54.3 L251.4,55.9 L252.7,57.4 L254.0,58.8 L255.5,60.3 L256.9,61.6 L258.5,62.9" fill="none" stroke="#c2bebc" stroke-width="0.6" opacity="0.4"/>
<path d="M257.0,124.2 L258.0,122.5 L259.1,120.8 L260.3,119.2 L261.5,117.7 L262.8,116.1" fill="none" stroke="#9e9896" stroke-width="0.6" opacity="0.4"/>
<path d="M217.5,105.4 L219.3,104.5 L221.1,103.6 L222.9,102.7 L224.7,101.9 L226.6,101.1 L228.4,100.4 L230.3,99.7" fill="none" stroke="#a7a2a0" stroke-width="0.6" opacity="0.4"/>
<path d="M207.0,130.4 L207.9,128.6 L208.9,126.9 L209.9,125.2 L211.1,123.5 L212.2,121.9 L213.5,120.3" fill="none" stroke="#c9c5c3" stroke-width="0.6" opacity="0.4"/>
<path d="M243.9,104.7 L245.6,103.8 L247.4,102.9 L249.3,102.0 L251.1,101.2" fill="none" stroke="#9e9896" stroke-width="0.6" opacity="0.4"/>
<path d="M224.4,105.5 L226.2,104.6 L228.0,103.7 L229.8,102.8 L231.6,102.0 L233.4,101.2 L235.3,100.5 L237.2,99.8 L239.0,99.1" fill="none" stroke="#9e9896" stroke-width="0.6" opacity="0.4"/>
<path d="M202.7,48.8 L203.8,50.4 L205.0,52.0 L206.3,53.6 L207.7,55.0 L209.1,56.5" fill="none" stroke="#c9c5c3" stroke-width="0.6" opacity="0.4"/>
<path d="M249.0,107.9 L250.7,106.8 L252.4,105.7 L254.1,104.8 L255.9,103.8 L257.7,102.9 L259.5,102.1" fill="none" stroke="#c2bebc" stroke-width="0.6" opacity="0.4"/>
<path d="M233.5,87.8 L235.5,87.7 L237.5,87.7 L239.5,87.6 L241.5,87.6" fill="none" stroke="#9e9896" stroke-width="0.6" opacity="0.4"/>
<path d="M223.1,51.2 L224.3,52.8 L225.5,54.4 L226.8,55.9 L228.2,57.3 L229.6,58.7 L231.1,60.1 L232.6,61.4" fill="none" stroke="#c2bebc" stroke-width="0.6" opacity="0.4"/>
<path d="M233.1,121.7 L234.3,120.1 L235.6,118.6 L236.9,117.1 L238.3,115.6 L239.7,114.2 L241.2,112.9 L242.7,111.6 L244.3,110.3 L245.9,109.2 L247.5,108.0" fill="none" stroke="#a7a2a0" stroke-width="0.6" opacity="0.4"/>
<path d="M269.6,80.1 L271.5,80.5 L273.5,80.9 L275.5,81.3 L277.5,81.6 L279.4,81.9 L281.4,82.2 L283.4,82.5 L285.4,82.8 L287.4,83.0 L289.3,83.3" fill="none" stroke="#9e9896" stroke-width="0.6" opacity="0.4"/>
<path d="M206.9,51.7 L208.2,53.2 L209.5,54.7 L210.9,56.2 L212.3,57.6 L213.8,58.9 L215.3,60.2 L216.8,61.5 L218.4,62.7 L220.0,63.9" fill="none" stroke="#c2bebc" stroke-width="0.6" opacity="0.4"/>
<path d="M266.8,55.7 L268.0,57.3 L269.4,58.8 L270.8,60.2 L272.2,61.6 L273.7,62.9 L275.2,64.2 L276.8,65.4 L278.4,66.6 L280.1,67.7" fill="none" stroke="#c2bebc" stroke-width="0.6" opacity="0.4"/>
<path d="M262.3,110.5 L263.9,109.3 L265.5,108.1 L267.1,107.0 L268.8,105.9 L270.6,104.9" fill="none" stroke="#a7a2a0" stroke-width="0.6" opacity="0.4"/>
<path d="M228.7,58.3 L230.1,59.6 L231.6,61.0 L233.2,62.2 L234.8,63.4 L236.4,64.6 L238.1,65.7 L239.7,66.8 L241.5,67.8 L243.2,68.8 L245.0,69.8" fill="none" stroke="#a7a2a0" stroke-width="0.6" opacity="0.4"/>
<path d="M229.4,112.8 L231.0,111.5 L232.6,110.3 L234.2,109.2 L235.9,108.0 L237.5,107.0 L239.3,105.9" fill="none" stroke="#a7a2a0" stroke-width="0.6" opacity="0.4"/>
<path d="M223.4,123.7 L224.5,122.0 L225.7,120.4 L227.0,118.9 L228.3,117.4" fill="none" stroke="#c2bebc" stroke-width="0.6" opacity="0.4"/>
<path d="M259.0,54.5 L260.3,56.1 L261.6,57.6 L262.9,59.1 L264.3,60.5 L265.8,61.9 L267.3,63.2 L268.9,64.4 L270.5,65.6 L272.1,66.8 L273.8,67.9" fill="none" stroke="#c9c5c3" stroke-width="0.6" opacity="0.4"/>
<path d="M263.3,70.8 L265.1,71.7 L266.9,72.5 L268.7,73.3 L270.6,74.1 L272.4,74.8 L274.3,75.5" fill="none" stroke="#a7a2a0" stroke-width="0.6" opacity="0.4"/>
<path d="M228.4,126.5 L229.4,124.8 L230.5,123.1 L231.6,121.5 L232.8,119.9" fill="none" stroke="#a7a2a0" stroke-width="0.6" opacity="0.4"/>
<path d="M253.3,125.0 L254.3,123.3 L255.4,121.6 L256.6,120.0 L257.8,118.4 L259.1,116.8" fill="none" stroke="#c9c5c3" stroke-width="0.6" opacity="0.4"/>
<path d="M258.7,70.4 L260.5,71.3 L262.3,72.2 L264.2,73.0 L266.0,73.7 L267.9,74.5 L269.7,75.2 L271.6,75.8 L273.5,76.5 L275.4,77.1 L277.3,77.6" fill="none" stroke="#9e9896" stroke-width="0.6" opacity="0.4"/>
<path d="M268.0,84.9 L270.0,85.0 L272.0,85.1 L274.0,85.2 L276.0,85.3 L278.0,85.4 L280.0,85.5" fill="none" stroke="#c2bebc" stroke-width="0.6" opacity="0.4"/>
<path d="M255.3,84.1 L257.3,84.2 L259.3,84.4 L261.3,84.5 L263.3,84.7" fill="none" stroke="#a7a2a0" stroke-width="0.6" opacity="0.4"/>
<path d="M264.1,133.3 L264.9,131.5 L265.8,129.7 L266.6,127.9 L267.5,126.1 L268.4,124.3 L269.4,122.5 L270.4,120.8" fill="none" stroke="#c9c5c3" stroke-width="0.6" opacity="0.4"/>
<path d="M205.2,113.3 L206.7,112.1 L208.3,110.9 L210.0,109.7 L211.6,108.6 L213.3,107.5 L215.1,106.5 L216.8,105.5" fill="none" stroke="#9e9896" stroke-width="0.6" opacity="0.4"/>
<path d="M245.8,70.5 L247.6,71.3 L249.4,72.2 L251.2,73.0 L253.1,73.7" fill="none" stroke="#9e9896" stroke-width="0.6" opacity="0.4"/>
<path d="M213.4,82.8 L215.4,83.0 L217.4,83.2 L219.4,83.4 L221.4,83.6 L223.4,83.7" fill="none" stroke="#c2bebc" stroke-width="0.6" opacity="0.4"/>
<path d="M252.2,136.7 L253.0,134.9 L253.9,133.1 L254.7,131.3 L255.6,129.5 L256.4,127.7" fill="none" stroke="#9e9896" stroke-width="0.6" opacity="0.4"/>
<path d="M222.3,96.5 L224.3,96.0 L226.2,95.5 L228.1,95.1 L230.1,94.6 L232.1,94.2 L234.0,93.8" fill="none" stroke="#9e9896" stroke-width="0.6" opacity="0.4"/>
<path d="M245.7,50.2 L246.7,51.9 L247.9,53.5 L249.1,55.1 L250.4,56.6 L251.8,58.1 L253.2,59.5 L254.6,60.9" fill="none" stroke="#a7a2a0" stroke-width="0.6" opacity="0.4"/>
<path d="M239.3,86.5 L241.3,86.5 L243.3,86.5 L245.3,86.5 L247.3,86.6 L249.3,86.6 L251.3,86.6" fill="none" stroke="#a7a2a0" stroke-width="0.6" opacity="0.4"/>
<path d="M231.0,95.6 L232.9,95.1 L234.8,94.7 L236.8,94.3 L238.8,93.9 L240.7,93.5" fill="none" stroke="#9e9896" stroke-width="0.6" opacity="0.4"/>
<path d="M225.1,51.7 L226.3,53.3 L227.6,54.9 L228.9,56.4 L230.3,57.8 L231.8,59.2" fill="none" stroke="#c2bebc" stroke-width="0.6" opacity="0.4"/>
<path d="M257.0,62.4 L258.5,63.7 L260.1,64.9 L261.8,66.0 L263.4,67.1" fill="none" stroke="#a7a2a0" stroke-width="0.6" opacity="0.4"/>
<path d="M227.9,114.6 L229.4,113.3 L230.9,112.0 L232.5,110.7 L234.1,109.6 L235.8,108.4" fill="none" stroke="#c2bebc" stroke-width="0.6" opacity="0.4"/>
<path d="M224.9,49.0 L226.0,50.6 L227.1,52.3 L228.4,53.8 L229.7,55.4 L231.0,56.8" fill="none" stroke="#c2bebc" stroke-width="0.6" opacity="0.4"/>
<path d="M210.4,91.3 L212.4,91.1 L214.4,90.9 L216.3,90.6 L218.3,90.4 L220.3,90.3 L222.3,90.1 L224.3,89.9 L226.3,89.7" fill="none" stroke="#9e9896" stroke-width="0.6" opacity="0.4"/>
<path d="M208.1,129.1 L209.1,127.3 L210.1,125.6 L211.2,123.9 L212.3,122.3 L213.6,120.7 L214.9,119.2" fill="none" stroke="#a7a2a0" stroke-width="0.6" opacity="0.4"/>
<path d="M231.3,73.0 L233.1,73.7 L235.0,74.4 L236.9,75.0 L238.8,75.6 L240.7,76.2 L242.6,76.8 L244.5,77.3 L246.5,77.8 L248.4,78.3" fill="none" stroke="#c9c5c3" stroke-width="0.6" opacity="0.4"/>
<path d="M210.5,83.8 L212.5,84.0 L214.5,84.1 L216.5,84.2 L218.5,84.4 L220.5,84.5 L222.5,84.6 L224.4,84.7 L226.4,84.8 L228.4,84.9" fill="none" stroke="#a7a2a0" stroke-width="0.6" opacity="0.4"/>
<path d="M267.8,90.0 L269.8,89.9 L271.8,89.7 L273.8,89.6 L275.8,89.4" fill="none" stroke="#a7a2a0" stroke-width="0.6" opacity="0.4"/>
<path d="M268.1,66.9 L269.8,67.9 L271.5,69.0 L273.2,70.0 L275.0,70.9" fill="none" stroke="#9e9896" stroke-width="0.6" opacity="0.4"/>
<path d="M212.2,136.3 L213.0,134.5 L213.9,132.7 L214.7,130.9 L215.6,129.1" fill="none" stroke="#a7a2a0" stroke-width="0.6" opacity="0.4"/>
<path d="M207.6,117.6 L209.0,116.2 L210.5,114.8 L212.0,113.5 L213.5,112.2" fill="none" stroke="#9e9896" stroke-width="0.6" opacity="0.4"/>
<path d="M217.7,131.3 L218.5,129.5 L219.4,127.7 L220.4,126.0 L221.4,124.3 L222.5,122.6 L223.7,121.0 L225.0,119.4 L226.3,117.9" fill="none" stroke="#c2bebc" stroke-width="0.6" opacity="0.4"/>
<path d="M267.4,103.1 L269.2,102.3 L271.1,101.4 L272.9,100.6 L274.7,99.9 L276.6,99.2 L278.5,98.5 L280.4,97.8" fill="none" stroke="#a7a2a0" stroke-width="0.6" opacity="0.4"/>
<path d="M249.4,53.8 L250.7,55.3 L252.0,56.9 L253.3,58.3 L254.7,59.8" fill="none" stroke="#9e9896" stroke-width="0.6" opacity="0.4"/>
<path d="M228.3,64.5 L229.9,65.6 L231.6,66.6 L233.3,67.7 L235.1,68.6 L236.9,69.6 L238.6,70.5 L240.5,71.3 L242.3,72.1" fill="none" stroke="#c9c5c3" stroke-width="0.6" opacity="0.4"/>
<path d="M238.5,138.7 L239.3,136.8 L240.1,135.0 L241.0,133.2 L241.8,131.4 L242.7,129.6" fill="none" stroke="#c2bebc" stroke-width="0.6" opacity="0.4"/>
<path d="M245.8,127.8 L246.6,126.0 L247.6,124.3 L248.7,122.6 L249.8,120.9 L251.0,119.3 L252.2,117.8 L253.6,116.3" fill="none" stroke="#9e9896" stroke-width="0.6" opacity="0.4"/>
<path d="M239.1,45.8 L240.0,47.6 L241.0,49.3 L242.0,51.0 L243.2,52.7 L244.4,54.3 L245.6,55.8" fill="none" stroke="#c2bebc" stroke-width="0.6" opacity="0.4"/>
<path d="M205.6,61.6 L207.2,62.8 L208.8,63.9 L210.5,65.0 L212.2,66.1 L213.9,67.1 L215.7,68.0 L217.5,69.0 L219.3,69.9 L221.1,70.7 L222.9,71.5" fill="none" stroke="#a7a2a0" stroke-width="0.6" opacity="0.4"/>
<path d="M207.3,64.9 L209.0,65.9 L210.8,66.9 L212.5,67.9 L214.3,68.8 L216.1,69.7 L217.9,70.5" fill="none" stroke="#c2bebc" stroke-width="0.6" opacity="0.4"/>
<path d="M217.3,46.3 L218.3,48.0 L219.4,49.7 L220.5,51.3 L221.7,52.9 L223.0,54.5 L224.3,55.9" fill="none" stroke="#a7a2a0" stroke-width="0.6" opacity="0.4"/>
<path d="M226.5,81.1 L228.5,81.3 L230.5,81.6 L232.4,81.9 L234.4,82.2" fill="none" stroke="#c2bebc" stroke-width="0.6" opacity="0.4"/>
<path d="M252.2,91.5 L254.2,91.2 L256.2,91.0 L258.2,90.8 L260.2,90.6 L262.1,90.4" fill="none" stroke="#9e9896" stroke-width="0.6" opacity="0.4"/>
<path d="M223.1,121.7 L224.3,120.1 L225.6,118.6 L226.9,117.1 L228.3,115.7 L229.8,114.3" fill="none" stroke="#9e9896" stroke-width="0.6" opacity="0.4"/>
<path d="M219.9,128.4 L220.8,126.6 L221.8,124.9 L222.9,123.2 L224.1,121.6" fill="none" stroke="#a7a2a0" stroke-width="0.6" opacity="0.4"/>
<path d="M243.4,129.1 L244.3,127.2 L245.2,125.5 L246.2,123.7 L247.2,122.1 L248.4,120.4 L249.6,118.8 L250.9,117.3" fill="none" stroke="#c9c5c3" stroke-width="0.6" opacity="0.4"/>
<path d="M266.5,57.1 L267.8,58.6 L269.2,60.0 L270.6,61.4 L272.1,62.7 L273.7,64.0 L275.3,65.2" fill="none" stroke="#9e9896" stroke-width="0.6" opacity="0.4"/>
<path d="M203.4,100.2 L205.3,99.6 L207.2,98.9 L209.1,98.3 L211.0,97.7 L212.9,97.2 L214.9,96.6" fill="none" stroke="#c9c5c3" stroke-width="0.6" opacity="0.4"/>
<path d="M214.4,86.2 L216.4,86.2 L218.4,86.2 L220.4,86.2 L222.4,86.3 L224.4,86.3 L226.4,86.3 L228.4,86.3 L230.4,86.4" fill="none" stroke="#c2bebc" stroke-width="0.6" opacity="0.4"/>
<path d="M251.8,138.8 L252.6,137.0 L253.5,135.1 L254.3,133.3 L255.2,131.5 L256.0,129.7 L256.8,127.9 L257.7,126.1 L258.6,124.3 L259.6,122.6 L260.7,120.9" fill="none" stroke="#c2bebc" stroke-width="0.6" opacity="0.4"/>
<path d="M214.8,105.6 L216.6,104.7 L218.4,103.8 L220.2,102.9 L222.0,102.1 L223.8,101.4 L225.7,100.6 L227.6,99.9" fill="none" stroke="#a7a2a0" stroke-width="0.6" opacity="0.4"/>
<path d="M204.0,106.8 L205.7,105.8 L207.5,104.9 L209.3,104.0 L211.1,103.1 L212.9,102.3 L214.8,101.5" fill="none" stroke="#c2bebc" stroke-width="0.6" opacity="0.4"/>
<path d="M269.0,85.5 L271.0,85.6 L273.0,85.7 L275.0,85.7 L277.0,85.8" fill="none" stroke="#c9c5c3" stroke-width="0.6" opacity="0.4"/>
<path d="M220.9,76.7 L222.8,77.3 L224.8,77.7 L226.7,78.2 L228.6,78.7 L230.6,79.1 L232.6,79.5 L234.5,79.9 L236.5,80.2 L238.5,80.6 L240.4,80.9" fill="none" stroke="#c9c5c3" stroke-width="0.6" opacity="0.4"/>
<path d="M240.1,115.8 L241.5,114.4 L243.0,113.1 L244.5,111.8 L246.0,110.5 L247.6,109.3 L249.3,108.2" fill="none" stroke="#c2bebc" stroke-width="0.6" opacity="0.4"/>
<path d="M257.9,84.5 L259.9,84.7 L261.9,84.8 L263.8,84.9 L265.8,85.0" fill="none" stroke="#a7a2a0" stroke-width="0.6" opacity="0.4"/>
<path d="M215.1,95.0 L217.1,94.6 L219.1,94.2 L221.0,93.8 L223.0,93.4 L225.0,93.1 L226.9,92.7 L228.9,92.4" fill="none" stroke="#c2bebc" stroke-width="0.6" opacity="0.4"/>
<path d="M226.6,129.1 L227.5,127.3 L228.5,125.6 L229.5,123.9 L230.7,122.2" fill="none" stroke="#a7a2a0" stroke-width="0.6" opacity="0.4"/>
<path d="M218.7,103.0 L220.5,102.2 L222.4,101.4 L224.2,100.7 L226.1,100.0 L228.0,99.3 L229.9,98.6" fill="none" stroke="#a7a2a0" stroke-width="0.6" opacity="0.4"/>
<path d="M204.2,49.0 L205.3,50.6 L206.6,52.2 L207.9,53.7 L209.2,55.2 L210.6,56.6 L212.1,58.0 L213.5,59.4 L215.1,60.7 L216.6,61.9 L218.2,63.1" fill="none" stroke="#c2bebc" stroke-width="0.6" opacity="0.4"/>
<path d="M215.1,49.0 L216.2,50.7 L217.4,52.3 L218.7,53.8 L220.0,55.3 L221.4,56.8 L222.8,58.2 L224.3,59.6 L225.8,60.9" fill="none" stroke="#c2bebc" stroke-width="0.6" opacity="0.4"/>
<path d="M220.4,134.9 L221.2,133.1 L222.1,131.3 L222.9,129.5 L223.8,127.7 L224.7,125.9 L225.8,124.2 L226.9,122.6 L228.1,121.0" fill="none" stroke="#c2bebc" stroke-width="0.6" opacity="0.4"/>
<path d="M252.7,109.2 L254.3,108.0 L256.0,106.9 L257.7,105.9 L259.4,104.9 L261.2,103.9 L263.0,103.0 L264.8,102.2 L266.6,101.3 L268.4,100.6 L270.3,99.8" fill="none" stroke="#c2bebc" stroke-width="0.6" opacity="0.4"/>
<path d="M202.1,115.5 L203.6,114.2 L205.1,112.9 L206.7,111.7 L208.3,110.5 L209.9,109.4 L211.6,108.3 L213.3,107.2 L215.0,106.2 L216.8,105.3 L218.6,104.3" fill="none" stroke="#c9c5c3" stroke-width="0.6" opacity="0.4"/>
<path d="M203.5,65.5 L205.2,66.5 L206.9,67.4 L208.7,68.4 L210.5,69.3 L212.3,70.1 L214.1,70.9 L216.0,71.7" fill="none" stroke="#a7a2a0" stroke-width="0.6" opacity="0.4"/>
<path d="M266.9,80.1 L268.8,80.5 L270.8,80.9 L272.8,81.2 L274.7,81.6 L276.7,81.9" fill="none" stroke="#a7a2a0" stroke-width="0.6" opacity="0.4"/>
<path d="M257.4,55.7 L258.7,57.3 L260.0,58.7 L261.4,60.2 L262.9,61.5 L264.4,62.8 L265.9,64.1 L267.5,65.3" fill="none" stroke="#c9c5c3" stroke-width="0.6" opacity="0.4"/>
<path d="M256.5,113.9 L258.0,112.5 L259.5,111.2 L261.1,110.0 L262.7,108.8 L264.3,107.6 L266.0,106.5 L267.7,105.5 L269.4,104.5 L271.2,103.6" fill="none" stroke="#9e9896" stroke-width="0.6" opacity="0.4"/>
<path d="M243.2,74.5 L245.1,75.1 L247.0,75.8 L248.9,76.4 L250.8,76.9 L252.7,77.5 L254.7,78.0" fill="none" stroke="#c2bebc" stroke-width="0.6" opacity="0.4"/>
<path d="M255.3,100.2 L257.1,99.5 L259.0,98.8 L260.9,98.1 L262.8,97.5 L264.7,97.0 L266.6,96.4 L268.6,95.9" fill="none" stroke="#a7a2a0" stroke-width="0.6" opacity="0.4"/>
<path d="M253.1,66.7 L254.8,67.8 L256.6,68.8 L258.3,69.8 L260.1,70.7" fill="none" stroke="#c9c5c3" stroke-width="0.6" opacity="0.4"/>
<path d="M234.7,95.3 L236.6,94.8 L238.6,94.4 L240.5,94.0 L242.5,93.6 L244.4,93.3" fill="none" stroke="#a7a2a0" stroke-width="0.6" opacity="0.4"/>
<path d="M262.1,137.8 L262.9,136.0 L263.7,134.2 L264.6,132.4 L265.4,130.6 L266.3,128.8" fill="none" stroke="#c9c5c3" stroke-width="0.6" opacity="0.4"/>
<path d="M216.0,83.4 L218.0,83.6 L220.0,83.8 L222.0,83.9 L224.0,84.1 L226.0,84.2 L228.0,84.3 L230.0,84.5 L232.0,84.6 L234.0,84.7 L236.0,84.8" fill="none" stroke="#a7a2a0" stroke-width="0.6" opacity="0.4"/>
<path d="M213.6,55.8 L215.0,57.2 L216.5,58.6 L218.0,59.9 L219.5,61.2 L221.1,62.4 L222.7,63.6 L224.3,64.7" fill="none" stroke="#9e9896" stroke-width="0.6" opacity="0.4"/>
<path d="M252.8,124.3 L253.8,122.6 L255.0,120.9 L256.1,119.3 L257.4,117.8 L258.7,116.2 L260.1,114.8 L261.5,113.4 L263.0,112.0" fill="none" stroke="#c9c5c3" stroke-width="0.6" opacity="0.4"/>
<path d="M255.0,71.2 L256.8,72.1 L258.6,72.9 L260.5,73.6 L262.3,74.4 L264.2,75.1" fill="none" stroke="#c2bebc" stroke-width="0.6" opacity="0.4"/>
<path d="M227.2,113.9 L228.8,112.5 L230.3,111.3 L231.9,110.1 L233.5,108.9 L235.2,107.8" fill="none" stroke="#9e9896" stroke-width="0.6" opacity="0.4"/>
<path d="M214.5,65.6 L216.2,66.6 L217.9,67.6 L219.7,68.6 L221.5,69.5 L223.3,70.3" fill="none" stroke="#9e9896" stroke-width="0.6" opacity="0.4"/>
<path d="M224.1,81.0 L226.0,81.3 L228.0,81.6 L230.0,81.9 L232.0,82.1 L234.0,82.4 L235.9,82.6 L237.9,82.8 L239.9,83.1 L241.9,83.3 L243.9,83.5" fill="none" stroke="#9e9896" stroke-width="0.6" opacity="0.4"/>
<path d="M246.1,52.7 L247.3,54.3 L248.6,55.8 L249.9,57.3 L251.2,58.8 L252.7,60.2 L254.2,61.5 L255.7,62.8" fill="none" stroke="#c9c5c3" stroke-width="0.6" opacity="0.4"/>
<path d="M208.8,88.6 L210.8,88.5 L212.8,88.4 L214.8,88.3 L216.8,88.2 L218.8,88.1 L220.8,88.1 L222.8,88.0 L224.8,87.9 L226.8,87.9" fill="none" stroke="#a7a2a0" stroke-width="0.6" opacity="0.4"/>
<path d="M264.2,46.9 L265.0,48.7 L266.0,50.4 L267.0,52.2 L268.1,53.8 L269.3,55.5 L270.5,57.0" fill="none" stroke="#c9c5c3" stroke-width="0.6" opacity="0.4"/>
<path d="M205.2,100.6 L207.1,100.0 L209.0,99.3 L210.9,98.7 L212.8,98.1 L214.7,97.5 L216.6,96.9 L218.6,96.4 L220.5,95.9 L222.5,95.4" fill="none" stroke="#9e9896" stroke-width="0.6" opacity="0.4"/>
<path d="M265.2,78.7 L267.2,79.2 L269.1,79.6 L271.1,80.1 L273.0,80.5 L275.0,80.8 L277.0,81.2 L279.0,81.5 L280.9,81.9 L282.9,82.2 L284.9,82.5" fill="none" stroke="#a7a2a0" stroke-width="0.6" opacity="0.4"/>
<path d="M242.9,117.4 L244.3,115.9 L245.7,114.5 L247.2,113.1 L248.7,111.8 L250.2,110.6 L251.8,109.4 L253.4,108.2 L255.1,107.1" fill="none" stroke="#c9c5c3" stroke-width="0.6" opacity="0.4"/>
<path d="M209.0,100.2 L210.9,99.6 L212.8,98.9 L214.7,98.3 L216.6,97.7 L218.5,97.1 L220.5,96.6 L222.4,96.1 L224.3,95.6" fill="none" stroke="#9e9896" stroke-width="0.6" opacity="0.4"/>
<path d="M204.4,75.6 L206.3,76.2 L208.2,76.7 L210.1,77.2 L212.1,77.7" fill="none" stroke="#c2bebc" stroke-width="0.6" opacity="0.4"/>
<path d="M204.4,113.3 L206.0,112.0 L207.6,110.8 L209.2,109.7 L210.9,108.6 L212.6,107.5 L214.3,106.5 L216.0,105.5 L217.8,104.6 L219.6,103.7 L221.4,102.9" fill="none" stroke="#c9c5c3" stroke-width="0.6" opacity="0.4"/>
<path d="M257.6,82.3 L259.6,82.5 L261.6,82.8 L263.6,83.0 L265.6,83.2 L267.6,83.5 L269.6,83.7" fill="none" stroke="#c2bebc" stroke-width="0.6" opacity="0.4"/>
<path d="M207.1,46.0 L208.1,47.7 L209.3,49.4 L210.4,51.0 L211.7,52.6 L212.9,54.1 L214.3,55.6 L215.7,57.0" fill="none" stroke="#a7a2a0" stroke-width="0.6" opacity="0.4"/>
<path d="M206.1,52.7 L207.4,54.2 L208.8,55.7 L210.2,57.1 L211.7,58.5 L213.2,59.8 L214.7,61.1" fill="none" stroke="#9e9896" stroke-width="0.6" opacity="0.4"/>
<path d="M245.4,51.8 L246.5,53.4 L247.8,55.0 L249.1,56.5 L250.4,58.0 L251.8,59.4" fill="none" stroke="#c2bebc" stroke-width="0.6" opacity="0.4"/>
<path d="M229.7,70.2 L231.6,71.0 L233.4,71.9 L235.2,72.6 L237.1,73.4 L239.0,74.1 L240.8,74.8" fill="none" stroke="#c9c5c3" stroke-width="0.6" opacity="0.4"/>
<path d="M223.1,97.4 L225.0,96.8 L227.0,96.3 L228.9,95.8 L230.8,95.3 L232.8,94.9 L234.7,94.5" fill="none" stroke="#a7a2a0" stroke-width="0.6" opacity="0.4"/>
<path d="M203.0,116.6 L204.5,115.2 L206.0,113.9 L207.5,112.6 L209.1,111.4 L210.7,110.2 L212.4,109.1 L214.1,108.0 L215.8,107.0 L217.5,106.0" fill="none" stroke="#9e9896" stroke-width="0.6" opacity="0.4"/>
<path d="M228.4,81.9 L230.4,82.1 L232.4,82.4 L234.4,82.6 L236.4,82.8 L238.4,83.1 L240.4,83.3 L242.4,83.5 L244.3,83.6 L246.3,83.8 L248.3,84.0" fill="none" stroke="#a7a2a0" stroke-width="0.6" opacity="0.4"/>
<path d="M263.3,83.7 L265.3,83.9 L267.3,84.0 L269.3,84.2 L271.3,84.4 L273.3,84.5 L275.2,84.7 L277.2,84.8 L279.2,85.0 L281.2,85.1" fill="none" stroke="#a7a2a0" stroke-width="0.6" opacity="0.4"/>
<path d="M241.2,78.0 L243.1,78.5 L245.1,78.9 L247.1,79.4 L249.0,79.8 L251.0,80.2 L252.9,80.5 L254.9,80.9 L256.9,81.2 L258.8,81.5" fill="none" stroke="#9e9896" stroke-width="0.6" opacity="0.4"/>
<path d="M202.8,95.9 L204.8,95.5 L206.7,95.0 L208.7,94.6 L210.6,94.2 L212.6,93.8 L214.5,93.5 L216.5,93.1 L218.5,92.8" fill="none" stroke="#a7a2a0" stroke-width="0.6" opacity="0.4"/>
<path d="M207.9,102.7 L209.7,101.9 L211.6,101.2 L213.4,100.5 L215.3,99.8 L217.2,99.1 L219.1,98.5" fill="none" stroke="#9e9896" stroke-width="0.6" opacity="0.4"/>
<path d="M211.7,70.2 L213.6,71.0 L215.4,71.8 L217.3,72.5 L219.1,73.3 L221.0,73.9 L222.9,74.6 L224.8,75.2" fill="none" stroke="#c9c5c3" stroke-width="0.6" opacity="0.4"/>
<path d="M209.2,90.1 L211.2,89.9 L213.2,89.7 L215.2,89.6 L217.2,89.4 L219.2,89.3 L221.2,89.2 L223.2,89.0 L225.2,88.9 L227.2,88.8" fill="none" stroke="#9e9896" stroke-width="0.6" opacity="0.4"/>
<path d="M222.4,123.4 L223.5,121.7 L224.7,120.2 L226.0,118.6 L227.4,117.1" fill="none" stroke="#a7a2a0" stroke-width="0.6" opacity="0.4"/>
<path d="M223.3,101.3 L225.1,100.6 L227.0,99.9 L228.9,99.2 L230.8,98.6 L232.7,98.0 L234.6,97.4 L236.5,96.8 L238.4,96.3" fill="none" stroke="#c9c5c3" stroke-width="0.6" opacity="0.4"/>
<path d="M263.5,102.6 L265.3,101.7 L267.1,100.9 L269.0,100.1 L270.8,99.4 L272.7,98.7 L274.6,98.1 L276.5,97.5 L278.4,96.9 L280.3,96.3" fill="none" stroke="#9e9896" stroke-width="0.6" opacity="0.4"/>
<path d="M245.5,125.2 L246.5,123.5 L247.6,121.8 L248.7,120.2 L250.0,118.6 L251.2,117.1 L252.6,115.6 L254.0,114.2 L255.5,112.8" fill="none" stroke="#9e9896" stroke-width="0.6" opacity="0.4"/>
<path d="M258.4,60.6 L259.8,61.9 L261.4,63.2 L262.9,64.4 L264.5,65.6 L266.2,66.8" fill="none" stroke="#a7a2a0" stroke-width="0.6" opacity="0.4"/>
<path d="M265.8,58.0 L267.2,59.5 L268.6,60.9 L270.1,62.2 L271.6,63.5 L273.2,64.8 L274.8,66.0" fill="none" stroke="#9e9896" stroke-width="0.6" opacity="0.4"/>
<path d="M218.6,112.6 L220.2,111.3 L221.8,110.2 L223.5,109.0 L225.1,107.9 L226.8,106.9 L228.6,105.9 L230.3,104.9 L232.1,104.0 L233.9,103.1 L235.7,102.2" fill="none" stroke="#c9c5c3" stroke-width="0.6" opacity="0.4"/>
<path d="M262.1,123.9 L263.1,122.2 L264.2,120.5 L265.4,118.9 L266.6,117.3 L267.9,115.8 L269.3,114.4 L270.8,113.0 L272.2,111.6" fill="none" stroke="#c2bebc" stroke-width="0.6" opacity="0.4"/>
<path d="M209.8,100.6 L211.7,99.9 L213.6,99.2 L215.5,98.6 L217.4,98.0 L219.3,97.4 L221.2,96.8 L223.2,96.3" fill="none" stroke="#c2bebc" stroke-width="0.6" opacity="0.4"/>
<path d="M246.1,72.6 L247.9,73.3 L249.8,74.1 L251.7,74.8 L253.5,75.4 L255.4,76.1" fill="none" stroke="#a7a2a0" stroke-width="0.6" opacity="0.4"/>
<path d="M246.7,85.9 L248.7,85.9 L250.7,86.0 L252.7,86.1 L254.7,86.1 L256.7,86.2 L258.7,86.2 L260.7,86.2" fill="none" stroke="#c9c5c3" stroke-width="0.6" opacity="0.4"/>
<path d="M202.0,137.7 L202.9,135.9 L203.7,134.0 L204.6,132.2 L205.4,130.4 L206.3,128.6 L207.3,126.9 L208.3,125.2" fill="none" stroke="#a7a2a0" stroke-width="0.6" opacity="0.4"/>
<path d="M253.9,117.9 L255.2,116.4 L256.6,114.9 L258.0,113.5 L259.5,112.2 L261.0,110.9 L262.6,109.6 L264.2,108.5" fill="none" stroke="#9e9896" stroke-width="0.6" opacity="0.4"/>
<path d="M257.1,81.4 L259.1,81.7 L261.0,82.0 L263.0,82.3 L265.0,82.6" fill="none" stroke="#c2bebc" stroke-width="0.6" opacity="0.4"/>
<path d="M231.2,51.8 L232.4,53.4 L233.6,55.0 L235.0,56.5 L236.3,57.9 L237.8,59.3 L239.2,60.7 L240.8,61.9" fill="none" stroke="#c9c5c3" stroke-width="0.6" opacity="0.4"/>
<path d="M204.6,55.5 L206.0,56.9 L207.5,58.3 L209.0,59.6 L210.5,60.9 L212.1,62.1 L213.7,63.3 L215.4,64.4 L217.0,65.5 L218.7,66.5 L220.5,67.5" fill="none" stroke="#c2bebc" stroke-width="0.6" opacity="0.4"/>
<path d="M254.8,92.1 L256.8,91.8 L258.8,91.6 L260.8,91.3 L262.8,91.1" fill="none" stroke="#a7a2a0" stroke-width="0.6" opacity="0.4"/>
<path d="M246.3,118.3 L247.6,116.8 L249.0,115.3 L250.4,113.9 L251.9,112.6" fill="none" stroke="#c9c5c3" stroke-width="0.6" opacity="0.4"/>
<path d="M269.7,113.3 L271.2,111.9 L272.7,110.6 L274.3,109.4 L275.9,108.2 L277.5,107.1 L279.2,106.0 L280.9,104.9 L282.7,104.0 L284.4,103.0" fill="none" stroke="#9e9896" stroke-width="0.6" opacity="0.4"/>
<path d="M210.8,128.0 L211.8,126.3 L212.8,124.6 L214.0,122.9 L215.1,121.3 L216.4,119.8 L217.7,118.3" fill="none" stroke="#9e9896" stroke-width="0.6" opacity="0.4"/>
<path d="M248.6,112.2 L250.1,110.9 L251.7,109.7 L253.3,108.6 L255.0,107.4 L256.7,106.4" fill="none" stroke="#c2bebc" stroke-width="0.6" opacity="0.4"/>
<path d="M243.4,67.2 L245.2,68.2 L246.9,69.2 L248.7,70.1 L250.5,71.0 L252.3,71.9 L254.1,72.7" fill="none" stroke="#c2bebc" stroke-width="0.6" opacity="0.4"/>
<path d="M263.5,86.8 L265.5,86.8 L267.5,86.8 L269.5,86.9 L271.5,86.9 L273.5,86.9" fill="none" stroke="#a7a2a0" stroke-width="0.6" opacity="0.4"/>
<path d="M216.0,68.2 L217.8,69.2 L219.6,70.0 L221.4,70.9 L223.2,71.7 L225.1,72.4 L226.9,73.2 L228.8,73.9" fill="none" stroke="#c2bebc" stroke-width="0.6" opacity="0.4"/>
<path d="M227.2,62.1 L228.8,63.3 L230.4,64.5 L232.1,65.6 L233.8,66.7 L235.5,67.7 L237.2,68.7" fill="none" stroke="#c2bebc" stroke-width="0.6" opacity="0.4"/>
<path d="M248.2,129.0 L249.0,127.1 L249.9,125.4 L250.9,123.6 L252.0,121.9 L253.1,120.3" fill="none" stroke="#c2bebc" stroke-width="0.6" opacity="0.4"/>
<path d="M209.6,93.9 L211.6,93.6 L213.6,93.2 L215.6,92.9 L217.5,92.6 L219.5,92.3 L221.5,92.0 L223.5,91.7 L225.4,91.5" fill="none" stroke="#c2bebc" stroke-width="0.6" opacity="0.4"/>
<path d="M267.7,86.5 L269.7,86.5 L271.7,86.6 L273.7,86.6 L275.7,86.6 L277.7,86.6 L279.7,86.7 L281.7,86.7" fill="none" stroke="#c9c5c3" stroke-width="0.6" opacity="0.4"/>
<path d="M219.0,94.4 L220.9,94.0 L222.9,93.7 L224.9,93.3 L226.9,93.0 L228.8,92.6 L230.8,92.3 L232.8,92.0 L234.8,91.8 L236.7,91.5" fill="none" stroke="#c2bebc" stroke-width="0.6" opacity="0.4"/>
<path d="M219.9,138.1 L220.7,136.3 L221.5,134.5 L222.4,132.6 L223.2,130.8 L224.1,129.0 L225.0,127.2 L226.0,125.5 L227.0,123.8" fill="none" stroke="#c2bebc" stroke-width="0.6" opacity="0.4"/>
<path d="M224.4,50.8 L225.5,52.4 L226.8,54.0 L228.1,55.5 L229.4,57.0 L230.9,58.4" fill="none" stroke="#c9c5c3" stroke-width="0.6" opacity="0.4"/>
<path d="M222.0,92.5 L224.0,92.2 L226.0,92.0 L228.0,91.7 L229.9,91.4 L231.9,91.2 L233.9,91.0" fill="none" stroke="#c2bebc" stroke-width="0.6" opacity="0.4"/>
<path d="M251.8,114.7 L253.2,113.3 L254.7,112.0 L256.3,110.7 L257.9,109.5 L259.5,108.3" fill="none" stroke="#c2bebc" stroke-width="0.6" opacity="0.4"/>
<path d="M243.8,84.5 L245.8,84.6 L247.8,84.7 L249.8,84.9 L251.8,85.0 L253.8,85.1 L255.8,85.2 L257.8,85.3" fill="none" stroke="#c9c5c3" stroke-width="0.6" opacity="0.4"/>
<path d="M210.8,64.8 L212.5,65.9 L214.2,66.9 L216.0,67.9 L217.7,68.8 L219.5,69.7 L221.3,70.5 L223.2,71.4 L225.0,72.1" fill="none" stroke="#c9c5c3" stroke-width="0.6" opacity="0.4"/>
<path d="M205.5,97.4 L207.4,96.9 L209.4,96.4 L211.3,95.9 L213.3,95.4 L215.2,95.0 L217.2,94.6" fill="none" stroke="#c2bebc" stroke-width="0.6" opacity="0.4"/>
<path d="M238.2,82.7 L240.2,82.9 L242.2,83.1 L244.2,83.3 L246.2,83.5 L248.2,83.7 L250.2,83.9" fill="none" stroke="#9e9896" stroke-width="0.6" opacity="0.4"/>
<path d="M215.7,102.9 L217.6,102.1 L219.4,101.3 L221.3,100.6 L223.1,99.9 L225.0,99.2 L226.9,98.6 L228.8,97.9" fill="none" stroke="#9e9896" stroke-width="0.6" opacity="0.4"/>
<path d="M202.8,119.9 L204.1,118.5 L205.5,117.0 L206.9,115.6 L208.4,114.3 L209.9,113.0 L211.5,111.8 L213.1,110.6 L214.7,109.4" fill="none" stroke="#a7a2a0" stroke-width="0.6" opacity="0.4"/>
<path d="M208.3,104.3 L210.1,103.4 L212.0,102.6 L213.8,101.8 L215.6,101.0 L217.5,100.3 L219.4,99.6 L221.3,99.0 L223.2,98.3 L225.1,97.7 L227.0,97.2" fill="none" stroke="#c2bebc" stroke-width="0.6" opacity="0.4"/>
<path d="M229.2,68.4 L231.0,69.3 L232.8,70.2 L234.6,71.1 L236.4,71.9" fill="none" stroke="#c2bebc" stroke-width="0.6" opacity="0.4"/>
<path d="M242.4,98.5 L244.3,97.9 L246.2,97.3 L248.1,96.8 L250.0,96.2 L252.0,95.7 L253.9,95.3 L255.8,94.8 L257.8,94.4" fill="none" stroke="#a7a2a0" stroke-width="0.6" opacity="0.4"/>
<path d="M218.7,129.7 L219.6,127.9 L220.6,126.2 L221.6,124.5 L222.7,122.8" fill="none" stroke="#c9c5c3" stroke-width="0.6" opacity="0.4"/>
<path d="M229.5,65.8 L231.2,66.9 L232.9,67.9 L234.7,68.8 L236.4,69.8" fill="none" stroke="#c9c5c3" stroke-width="0.6" opacity="0.4"/>
<path d="M202.6,95.9 L204.6,95.4 L206.5,95.0 L208.5,94.6 L210.5,94.2 L212.4,93.8 L214.4,93.4 L216.4,93.1 L218.3,92.7 L220.3,92.4 L222.3,92.1" fill="none" stroke="#9e9896" stroke-width="0.6" opacity="0.4"/>
<path d="M230.0,92.8 L232.0,92.4 L233.9,92.1 L235.9,91.9 L237.9,91.6 L239.9,91.3 L241.9,91.1 L243.9,90.9 L245.8,90.7" fill="none" stroke="#a7a2a0" stroke-width="0.6" opacity="0.4"/>
<path d="M257.3,59.8 L258.7,61.1 L260.2,62.5 L261.8,63.7 L263.4,64.9 L265.0,66.1 L266.7,67.2" fill="none" stroke="#c2bebc" stroke-width="0.6" opacity="0.4"/>
<path d="M244.5,138.4 L245.3,136.6 L246.2,134.8 L247.0,133.0 L247.9,131.2 L248.7,129.4 L249.6,127.6 L250.4,125.8 L251.4,124.0 L252.5,122.3" fill="none" stroke="#a7a2a0" stroke-width="0.6" opacity="0.4"/>
<path d="M250.6,43.6 L251.4,45.4 L252.3,47.2 L253.2,49.0 L254.2,50.7 L255.3,52.4 L256.4,54.1 L257.7,55.6 L258.9,57.2 L260.3,58.7" fill="none" stroke="#a7a2a0" stroke-width="0.6" opacity="0.4"/>
<path d="M207.3,105.9 L209.1,105.0 L210.8,104.1 L212.6,103.2 L214.5,102.4 L216.3,101.6" fill="none" stroke="#c9c5c3" stroke-width="0.6" opacity="0.4"/>
<path d="M219.6,104.8 L221.4,103.9 L223.2,103.1 L225.0,102.2 L226.9,101.4" fill="none" stroke="#c2bebc" stroke-width="0.6" opacity="0.4"/>
<path d="M250.3,68.5 L252.1,69.5 L253.9,70.4 L255.7,71.3 L257.5,72.2 L259.3,73.0 L261.1,73.7 L263.0,74.4" fill="none" stroke="#a7a2a0" stroke-width="0.6" opacity="0.4"/>
<path d="M248.6,131.1 L249.4,129.2 L250.3,127.4 L251.1,125.6 L252.1,123.9 L253.2,122.2 L254.3,120.5 L255.5,118.9 L256.8,117.4 L258.1,115.9 L259.5,114.5" fill="none" stroke="#c2bebc" stroke-width="0.6" opacity="0.4"/>
<path d="M245.6,135.7 L246.4,133.8 L247.3,132.0 L248.1,130.2 L249.0,128.4 L249.8,126.6" fill="none" stroke="#c9c5c3" stroke-width="0.6" opacity="0.4"/>
<path d="M213.4,129.9 L214.3,128.1 L215.2,126.3 L216.3,124.6 L217.4,123.0 L218.6,121.3 L219.9,119.8 L221.2,118.3 L222.5,116.8 L223.9,115.4" fill="none" stroke="#9e9896" stroke-width="0.6" opacity="0.4"/>
<path d="M266.2,114.6 L267.7,113.2 L269.1,111.9 L270.7,110.6 L272.2,109.3 L273.8,108.2 L275.5,107.0" fill="none" stroke="#a7a2a0" stroke-width="0.6" opacity="0.4"/>
<path d="M224.2,66.0 L225.9,67.0 L227.7,68.0 L229.4,68.9 L231.2,69.8 L233.0,70.7 L234.8,71.5 L236.7,72.3 L238.5,73.1 L240.4,73.8 L242.2,74.5" fill="none" stroke="#a7a2a0" stroke-width="0.6" opacity="0.4"/>
<path d="M234.0,93.9 L236.0,93.6 L237.9,93.2 L239.9,92.9 L241.9,92.5" fill="none" stroke="#c9c5c3" stroke-width="0.6" opacity="0.4"/>
<path d="M231.6,112.6 L233.2,111.3 L234.8,110.1 L236.4,108.9 L238.0,107.8 L239.7,106.7 L241.5,105.7 L243.2,104.8" fill="none" stroke="#c2bebc" stroke-width="0.6" opacity="0.4"/>
<path d="M255.6,80.6 L257.6,80.9 L259.6,81.3 L261.5,81.6 L263.5,81.9 L265.5,82.2 L267.5,82.5 L269.5,82.7 L271.4,83.0" fill="none" stroke="#9e9896" stroke-width="0.6" opacity="0.4"/>
<path d="M211.7,45.6 L212.7,47.3 L213.7,49.0 L214.9,50.7 L216.1,52.2" fill="none" stroke="#9e9896" stroke-width="0.6" opacity="0.4"/>
<ellipse cx="226.6" cy="52.7" rx="0.9" ry="0.4" transform="rotate(42 226.6 52.7)" fill="#8ea7b0" opacity="0.6"/>
<ellipse cx="247.5" cy="93.5" rx="1.6" ry="0.4" transform="rotate(-6 247.5 93.5)" fill="#8ea7b0" opacity="0.6"/>
<ellipse cx="209.8" cy="89.1" rx="1.6" ry="0.4" transform="rotate(-6 209.8 89.1)" fill="#8ea7b0" opacity="0.6"/>
<ellipse cx="255.1" cy="121.9" rx="1.7" ry="0.4" transform="rotate(-64 255.1 121.9)" fill="#8ea7b0" opacity="0.6"/>
<ellipse cx="260.8" cy="128.2" rx="1.1" ry="0.4" transform="rotate(-73 260.8 128.2)" fill="#8ea7b0" opacity="0.6"/>
<ellipse cx="212.5" cy="47.8" rx="1.6" ry="0.4" transform="rotate(64 212.5 47.8)" fill="#8ea7b0" opacity="0.6"/>
<ellipse cx="244.0" cy="114.2" rx="1.2" ry="0.4" transform="rotate(-40 244.0 114.2)" fill="#8ea7b0" opacity="0.6"/>
<ellipse cx="211.8" cy="50.4" rx="1.1" ry="0.4" transform="rotate(58 211.8 50.4)" fill="#8ea7b0" opacity="0.6"/>
<ellipse cx="225.0" cy="73.5" rx="1.1" ry="0.4" transform="rotate(10 225.0 73.5)" fill="#8ea7b0" opacity="0.6"/>
<ellipse cx="222.8" cy="102.1" rx="1.2" ry="0.4" transform="rotate(-26 222.8 102.1)" fill="#8ea7b0" opacity="0.6"/>
<rect x="205.8" y="47" width="60.2" height="88" filter="url(#nz)" opacity="0.12"/>
</g><rect x="268.9" y="47" width="59.3" height="88" fill="#b9aaa6"/>
<clipPath id="cp268"><rect x="268.9" y="47" width="59.3" height="88"/></clipPath><g clip-path="url(#cp268)">
<path d="M329.8,91.4 L330.5,93.2 L331.2,95.1 L331.9,97.0 L332.6,98.8 L333.3,100.7 L333.9,102.6 L334.5,104.5 L335.2,106.4 L335.8,108.3" fill="none" stroke="#d2c5c0" stroke-width="0.7" opacity="0.5"/>
<path d="M318.0,46.0 L318.8,47.8 L319.6,49.7 L320.4,51.5 L321.2,53.3 L322.0,55.2 L322.8,57.0 L323.5,58.9" fill="none" stroke="#d2c5c0" stroke-width="0.7" opacity="0.5"/>
<path d="M288.2,110.6 L289.8,112.0 L291.3,113.3 L292.7,114.6 L294.2,116.0 L295.7,117.3 L297.1,118.7 L298.5,120.1" fill="none" stroke="#8e807c" stroke-width="0.7" opacity="0.5"/>
<path d="M313.0,122.5 L314.1,124.1 L315.2,125.8 L316.3,127.5 L317.3,129.2 L318.4,130.9 L319.4,132.6 L320.4,134.4 L321.3,136.1" fill="none" stroke="#cabdb8" stroke-width="0.7" opacity="0.5"/>
<path d="M276.4,43.1 L277.3,44.9 L278.2,46.7 L279.2,48.4 L280.2,50.2 L281.1,51.9" fill="none" stroke="#d2c5c0" stroke-width="0.7" opacity="0.5"/>
<path d="M265.2,90.1 L266.8,91.3 L268.4,92.5 L270.0,93.7 L271.6,94.9 L273.2,96.1 L274.8,97.3 L276.4,98.5" fill="none" stroke="#8e807c" stroke-width="0.7" opacity="0.5"/>
<path d="M330.0,99.9 L330.7,101.8 L331.4,103.6 L332.1,105.5 L332.8,107.4 L333.4,109.3 L334.0,111.2 L334.7,113.1 L335.3,115.0 L335.8,116.9 L336.4,118.8" fill="none" stroke="#cabdb8" stroke-width="0.7" opacity="0.5"/>
<path d="M303.8,58.3 L304.7,60.0 L305.7,61.8 L306.6,63.6 L307.5,65.3 L308.5,67.1 L309.4,68.9 L310.4,70.6 L311.3,72.4 L312.2,74.2" fill="none" stroke="#8e807c" stroke-width="0.7" opacity="0.5"/>
<path d="M298.4,53.6 L299.4,55.3 L300.3,57.1 L301.2,58.9 L302.2,60.6 L303.2,62.4 L304.1,64.1 L305.1,65.9 L306.0,67.6" fill="none" stroke="#d2c5c0" stroke-width="0.7" opacity="0.5"/>
<path d="M297.9,138.1 L299.4,139.4 L300.9,140.8 L302.4,142.1 L303.9,143.5 L305.3,144.9 L306.7,146.3 L308.1,147.8" fill="none" stroke="#d2c5c0" stroke-width="0.7" opacity="0.5"/>
<path d="M307.2,77.1 L308.2,78.9 L309.2,80.6 L310.2,82.3 L311.2,84.1 L312.2,85.8 L313.2,87.5" fill="none" stroke="#9a8985" stroke-width="0.7" opacity="0.5"/>
<path d="M324.9,114.5 L325.7,116.4 L326.6,118.2 L327.3,120.0 L328.1,121.9 L328.9,123.7 L329.6,125.6" fill="none" stroke="#d2c5c0" stroke-width="0.7" opacity="0.5"/>
<path d="M289.9,72.1 L291.1,73.7 L292.3,75.4 L293.4,77.0 L294.6,78.6 L295.8,80.2 L296.9,81.9" fill="none" stroke="#8e807c" stroke-width="0.7" opacity="0.5"/>
<path d="M290.4,127.9 L292.0,129.1 L293.6,130.3 L295.2,131.5 L296.7,132.8 L298.2,134.1" fill="none" stroke="#9a8985" stroke-width="0.7" opacity="0.5"/>
<path d="M273.4,100.0 L275.1,101.2 L276.7,102.4 L278.3,103.6 L279.9,104.8 L281.5,106.0 L283.1,107.2 L284.6,108.5 L286.2,109.7" fill="none" stroke="#d2c5c0" stroke-width="0.7" opacity="0.5"/>
<path d="M288.4,74.4 L289.6,76.0 L290.8,77.6 L292.0,79.2 L293.2,80.8 L294.4,82.4" fill="none" stroke="#9a8985" stroke-width="0.7" opacity="0.5"/>
<path d="M309.5,114.2 L310.6,115.9 L311.8,117.5 L312.9,119.2 L314.0,120.8 L315.1,122.5" fill="none" stroke="#9a8985" stroke-width="0.7" opacity="0.5"/>
<path d="M311.3,67.7 L312.2,69.5 L313.1,71.2 L314.0,73.0 L314.9,74.8 L315.8,76.6" fill="none" stroke="#cabdb8" stroke-width="0.7" opacity="0.5"/>
<path d="M296.0,128.0 L297.5,129.3 L299.0,130.6 L300.4,132.0 L301.9,133.4 L303.3,134.8" fill="none" stroke="#8e807c" stroke-width="0.7" opacity="0.5"/>
<path d="M282.9,115.5 L284.5,116.6 L286.2,117.8 L287.8,119.0 L289.3,120.2 L290.9,121.4 L292.5,122.7 L294.0,124.0 L295.5,125.3 L297.0,126.6" fill="none" stroke="#8e807c" stroke-width="0.7" opacity="0.5"/>
<path d="M313.6,136.6 L314.7,138.2 L315.9,139.9 L317.0,141.5 L318.1,143.2 L319.1,144.9 L320.1,146.6 L321.1,148.4 L322.1,150.1 L323.1,151.9" fill="none" stroke="#cabdb8" stroke-width="0.7" opacity="0.5"/>
<path d="M275.7,74.5 L277.1,76.0 L278.4,77.5 L279.7,79.0 L281.1,80.5 L282.4,82.0" fill="none" stroke="#d2c5c0" stroke-width="0.7" opacity="0.5"/>
<path d="M276.0,106.2 L277.6,107.3 L279.3,108.4 L280.9,109.6 L282.5,110.8 L284.1,112.0" fill="none" stroke="#8e807c" stroke-width="0.7" opacity="0.5"/>
<path d="M331.1,119.3 L331.8,121.2 L332.4,123.1 L333.1,125.0 L333.7,126.9 L334.3,128.8 L334.9,130.7 L335.4,132.6 L336.0,134.5 L336.5,136.5" fill="none" stroke="#9a8985" stroke-width="0.7" opacity="0.5"/>
<path d="M283.3,53.5 L284.3,55.2 L285.4,56.9 L286.4,58.6 L287.5,60.3 L288.5,62.0 L289.6,63.7 L290.7,65.4 L291.8,67.1 L292.9,68.7 L294.0,70.4" fill="none" stroke="#cabdb8" stroke-width="0.7" opacity="0.5"/>
<path d="M278.8,80.3 L280.2,81.7 L281.5,83.2 L282.9,84.7 L284.2,86.1" fill="none" stroke="#9a8985" stroke-width="0.7" opacity="0.5"/>
<path d="M322.4,84.9 L323.2,86.7 L324.1,88.5 L324.9,90.4 L325.7,92.2 L326.5,94.0" fill="none" stroke="#cabdb8" stroke-width="0.7" opacity="0.5"/>
<path d="M296.1,56.6 L297.0,58.4 L298.0,60.1 L299.0,61.8 L300.0,63.6 L301.0,65.3 L302.0,67.1 L303.0,68.8 L304.0,70.5" fill="none" stroke="#9a8985" stroke-width="0.7" opacity="0.5"/>
<path d="M265.3,66.3 L266.6,67.8 L267.9,69.3 L269.2,70.8 L270.6,72.2 L271.9,73.7 L273.3,75.2 L274.6,76.7 L276.0,78.1 L277.4,79.6" fill="none" stroke="#9a8985" stroke-width="0.7" opacity="0.5"/>
<path d="M321.8,107.1 L322.7,108.9 L323.6,110.7 L324.4,112.5 L325.3,114.3 L326.1,116.2 L326.9,118.0 L327.7,119.8 L328.4,121.7" fill="none" stroke="#8e807c" stroke-width="0.7" opacity="0.5"/>
<path d="M310.6,104.6 L311.7,106.3 L312.8,107.9 L313.9,109.6 L314.9,111.3 L316.0,113.1 L317.0,114.8 L318.0,116.5" fill="none" stroke="#cabdb8" stroke-width="0.7" opacity="0.5"/>
<path d="M282.4,110.3 L284.0,111.5 L285.6,112.7 L287.1,113.9 L288.7,115.2 L290.3,116.4 L291.8,117.7 L293.3,119.0 L294.8,120.4 L296.3,121.7 L297.7,123.1" fill="none" stroke="#8e807c" stroke-width="0.7" opacity="0.5"/>
<path d="M317.6,111.5 L318.5,113.2 L319.5,115.0 L320.4,116.7 L321.4,118.5 L322.3,120.3 L323.2,122.1 L324.1,123.9 L324.9,125.7" fill="none" stroke="#cabdb8" stroke-width="0.7" opacity="0.5"/>
<path d="M322.1,89.3 L322.9,91.2 L323.8,93.0 L324.6,94.8 L325.4,96.6" fill="none" stroke="#9a8985" stroke-width="0.7" opacity="0.5"/>
<path d="M299.8,106.5 L301.1,108.0 L302.4,109.5 L303.6,111.1 L304.9,112.6 L306.1,114.2 L307.3,115.8 L308.6,117.4 L309.7,119.0 L310.9,120.6 L312.1,122.2" fill="none" stroke="#cabdb8" stroke-width="0.7" opacity="0.5"/>
<path d="M317.3,80.3 L318.2,82.1 L319.1,83.9 L319.9,85.7 L320.8,87.5 L321.7,89.3 L322.5,91.1 L323.4,92.9" fill="none" stroke="#d2c5c0" stroke-width="0.7" opacity="0.5"/>
<path d="M267.5,95.2 L269.1,96.3 L270.8,97.4 L272.4,98.6 L274.0,99.8 L275.6,100.9" fill="none" stroke="#8e807c" stroke-width="0.7" opacity="0.5"/>
<path d="M299.8,52.7 L300.8,54.5 L301.7,56.3 L302.6,58.0 L303.5,59.8 L304.5,61.6 L305.4,63.3 L306.4,65.1 L307.3,66.8" fill="none" stroke="#8e807c" stroke-width="0.7" opacity="0.5"/>
<path d="M313.2,92.2 L314.2,93.9 L315.2,95.6 L316.1,97.4 L317.1,99.1 L318.1,100.9 L319.0,102.7 L319.9,104.4 L320.8,106.2" fill="none" stroke="#cabdb8" stroke-width="0.7" opacity="0.5"/>
<path d="M300.0,82.4 L301.1,84.0 L302.3,85.7 L303.4,87.4 L304.5,89.0 L305.6,90.7 L306.7,92.3 L307.8,94.0 L308.9,95.7 L310.0,97.4 L311.1,99.1" fill="none" stroke="#8e807c" stroke-width="0.7" opacity="0.5"/>
<path d="M331.5,60.6 L332.3,62.5 L333.0,64.4 L333.7,66.3 L334.4,68.1 L335.1,70.0 L335.7,71.9 L336.4,73.8" fill="none" stroke="#d2c5c0" stroke-width="0.7" opacity="0.5"/>
<path d="M314.0,101.9 L315.0,103.7 L316.0,105.4 L317.0,107.1 L318.0,108.9 L318.9,110.6 L319.9,112.4 L320.8,114.2 L321.7,115.9" fill="none" stroke="#cabdb8" stroke-width="0.7" opacity="0.5"/>
<path d="M283.4,81.4 L284.7,82.9 L286.0,84.4 L287.3,85.9 L288.6,87.4" fill="none" stroke="#9a8985" stroke-width="0.7" opacity="0.5"/>
<path d="M326.5,103.3 L327.3,105.2 L328.1,107.0 L328.8,108.9 L329.5,110.7 L330.3,112.6 L331.0,114.5 L331.7,116.4 L332.3,118.2" fill="none" stroke="#cabdb8" stroke-width="0.7" opacity="0.5"/>
<path d="M272.3,72.1 L273.6,73.6 L274.9,75.1 L276.3,76.6 L277.6,78.1 L279.0,79.6 L280.3,81.0" fill="none" stroke="#8e807c" stroke-width="0.7" opacity="0.5"/>
<path d="M331.8,135.2 L332.5,137.1 L333.1,139.0 L333.7,140.9 L334.3,142.9 L334.8,144.8 L335.3,146.7 L335.9,148.6" fill="none" stroke="#8e807c" stroke-width="0.7" opacity="0.5"/>
<path d="M273.6,117.6 L275.4,118.5 L277.1,119.4 L278.9,120.4 L280.6,121.4 L282.3,122.4 L284.0,123.5 L285.7,124.6 L287.4,125.7 L289.0,126.8" fill="none" stroke="#8e807c" stroke-width="0.7" opacity="0.5"/>
<path d="M296.5,97.0 L297.8,98.5 L299.0,100.0 L300.3,101.6 L301.6,103.1 L302.8,104.7" fill="none" stroke="#8e807c" stroke-width="0.7" opacity="0.5"/>
<path d="M288.7,104.3 L290.1,105.7 L291.6,107.1 L293.0,108.5 L294.4,109.9 L295.8,111.3 L297.2,112.7 L298.6,114.2 L300.0,115.6 L301.3,117.1" fill="none" stroke="#9a8985" stroke-width="0.7" opacity="0.5"/>
<path d="M296.4,71.3 L297.5,72.9 L298.6,74.6 L299.7,76.3 L300.8,78.0 L301.9,79.6 L302.9,81.3 L304.0,83.0" fill="none" stroke="#8e807c" stroke-width="0.7" opacity="0.5"/>
<path d="M317.4,88.1 L318.3,89.8 L319.2,91.6 L320.1,93.4 L321.0,95.2 L321.9,97.0 L322.7,98.8 L323.6,100.6 L324.4,102.4 L325.2,104.3" fill="none" stroke="#8e807c" stroke-width="0.7" opacity="0.5"/>
<path d="M282.9,79.1 L284.2,80.6 L285.5,82.1 L286.8,83.7 L288.1,85.2 L289.4,86.7" fill="none" stroke="#9a8985" stroke-width="0.7" opacity="0.5"/>
<path d="M310.6,89.2 L311.6,90.9 L312.6,92.7 L313.6,94.4 L314.6,96.1 L315.6,97.9 L316.6,99.6 L317.6,101.4 L318.5,103.1 L319.4,104.9" fill="none" stroke="#cabdb8" stroke-width="0.7" opacity="0.5"/>
<path d="M289.0,105.8 L290.5,107.2 L291.9,108.6 L293.4,109.9 L294.8,111.3 L296.2,112.8 L297.6,114.2" fill="none" stroke="#9a8985" stroke-width="0.7" opacity="0.5"/>
<path d="M293.7,104.2 L295.1,105.6 L296.5,107.1 L297.8,108.6 L299.2,110.0 L300.5,111.5 L301.8,113.0 L303.1,114.6 L304.4,116.1" fill="none" stroke="#cabdb8" stroke-width="0.7" opacity="0.5"/>
<path d="M275.2,72.1 L276.5,73.6 L277.8,75.1 L279.1,76.6 L280.4,78.1 L281.7,79.7 L283.1,81.2" fill="none" stroke="#d2c5c0" stroke-width="0.7" opacity="0.5"/>
<path d="M320.6,130.0 L321.6,131.7 L322.5,133.5 L323.4,135.3 L324.3,137.1 L325.2,138.9 L326.0,140.7 L326.8,142.5 L327.6,144.3 L328.4,146.2" fill="none" stroke="#8e807c" stroke-width="0.7" opacity="0.5"/>
<path d="M300.6,76.1 L301.7,77.8 L302.8,79.5 L303.8,81.2 L304.9,82.9 L306.0,84.6 L307.1,86.3 L308.1,88.0 L309.2,89.7" fill="none" stroke="#d2c5c0" stroke-width="0.7" opacity="0.5"/>
<path d="M279.0,49.9 L280.0,51.6 L281.0,53.4 L282.1,55.1 L283.1,56.8 L284.2,58.5 L285.2,60.2" fill="none" stroke="#d2c5c0" stroke-width="0.7" opacity="0.5"/>
<path d="M303.8,125.0 L305.2,126.5 L306.5,128.0 L307.8,129.5 L309.0,131.1 L310.3,132.6" fill="none" stroke="#9a8985" stroke-width="0.7" opacity="0.5"/>
<path d="M288.2,57.7 L289.2,59.4 L290.3,61.1 L291.3,62.8 L292.4,64.5 L293.5,66.2 L294.5,67.9 L295.6,69.5 L296.7,71.2 L297.8,72.9 L298.9,74.6" fill="none" stroke="#8e807c" stroke-width="0.7" opacity="0.5"/>
<path d="M305.9,109.1 L307.1,110.6 L308.3,112.3 L309.5,113.9 L310.6,115.5 L311.8,117.2 L312.9,118.8 L314.0,120.5 L315.1,122.2 L316.2,123.8 L317.2,125.6" fill="none" stroke="#d2c5c0" stroke-width="0.7" opacity="0.5"/>
<path d="M309.9,128.8 L311.1,130.4 L312.3,132.0 L313.5,133.6 L314.6,135.3 L315.7,136.9 L316.8,138.6 L317.9,140.3 L319.0,142.0 L320.0,143.7" fill="none" stroke="#cabdb8" stroke-width="0.7" opacity="0.5"/>
<path d="M278.2,109.5 L279.8,110.6 L281.5,111.8 L283.1,112.9 L284.7,114.1 L286.3,115.3 L287.9,116.6 L289.5,117.8" fill="none" stroke="#9a8985" stroke-width="0.7" opacity="0.5"/>
<path d="M310.1,54.2 L310.9,56.0 L311.8,57.8 L312.7,59.6 L313.5,61.4" fill="none" stroke="#9a8985" stroke-width="0.7" opacity="0.5"/>
<path d="M280.7,56.4 L281.7,58.1 L282.8,59.8 L283.9,61.4 L285.0,63.1 L286.1,64.8 L287.2,66.4 L288.4,68.1" fill="none" stroke="#d2c5c0" stroke-width="0.7" opacity="0.5"/>
<path d="M297.5,129.9 L299.0,131.3 L300.5,132.6 L301.9,134.0 L303.3,135.4 L304.7,136.8 L306.1,138.3 L307.4,139.8 L308.8,141.3" fill="none" stroke="#8e807c" stroke-width="0.7" opacity="0.5"/>
<path d="M298.4,94.8 L299.7,96.4 L300.9,97.9 L302.1,99.5 L303.3,101.1 L304.5,102.7 L305.7,104.3 L306.9,105.9 L308.1,107.6 L309.2,109.2 L310.4,110.8" fill="none" stroke="#d2c5c0" stroke-width="0.7" opacity="0.5"/>
<path d="M275.7,73.8 L277.0,75.3 L278.3,76.8 L279.7,78.3 L281.0,79.8 L282.3,81.3 L283.7,82.8 L285.0,84.3 L286.3,85.8" fill="none" stroke="#9a8985" stroke-width="0.7" opacity="0.5"/>
<path d="M309.7,123.7 L310.9,125.3 L312.0,126.9 L313.2,128.5 L314.3,130.2 L315.5,131.9 L316.5,133.5" fill="none" stroke="#9a8985" stroke-width="0.7" opacity="0.5"/>
<path d="M332.2,107.9 L332.9,109.8 L333.5,111.7 L334.1,113.6 L334.7,115.5 L335.3,117.4" fill="none" stroke="#cabdb8" stroke-width="0.7" opacity="0.5"/>
<path d="M307.7,45.7 L308.5,47.6 L309.4,49.4 L310.2,51.2 L311.1,53.0 L311.9,54.8 L312.8,56.6 L313.6,58.4 L314.5,60.2" fill="none" stroke="#cabdb8" stroke-width="0.7" opacity="0.5"/>
<path d="M319.3,52.0 L320.1,53.9 L320.9,55.7 L321.7,57.5 L322.5,59.4 L323.3,61.2 L324.1,63.0 L324.9,64.9" fill="none" stroke="#8e807c" stroke-width="0.7" opacity="0.5"/>
<path d="M267.2,111.9 L269.0,112.8 L270.8,113.7 L272.6,114.6 L274.3,115.6 L276.1,116.5 L277.8,117.5 L279.5,118.5 L281.2,119.6" fill="none" stroke="#cabdb8" stroke-width="0.7" opacity="0.5"/>
<path d="M271.3,106.3 L273.0,107.3 L274.7,108.4 L276.4,109.4 L278.0,110.5 L279.7,111.6 L281.3,112.8" fill="none" stroke="#8e807c" stroke-width="0.7" opacity="0.5"/>
<path d="M284.0,75.8 L285.3,77.4 L286.5,78.9 L287.8,80.5 L289.1,82.0 L290.3,83.6" fill="none" stroke="#d2c5c0" stroke-width="0.7" opacity="0.5"/>
<path d="M320.5,71.1 L321.4,72.9 L322.2,74.8 L323.0,76.6 L323.8,78.4 L324.6,80.2 L325.4,82.1 L326.2,83.9 L327.0,85.8 L327.8,87.6" fill="none" stroke="#9a8985" stroke-width="0.7" opacity="0.5"/>
<path d="M287.4,137.5 L289.1,138.5 L290.8,139.6 L292.5,140.7 L294.1,141.8 L295.7,142.9 L297.3,144.1 L298.9,145.4 L300.5,146.6 L302.0,147.9 L303.5,149.3" fill="none" stroke="#cabdb8" stroke-width="0.7" opacity="0.5"/>
<path d="M330.5,105.8 L331.2,107.7 L331.9,109.6 L332.6,111.5 L333.2,113.4 L333.9,115.3 L334.5,117.2 L335.1,119.1 L335.6,121.0 L336.2,122.9" fill="none" stroke="#cabdb8" stroke-width="0.7" opacity="0.5"/>
<path d="M277.8,111.5 L279.5,112.6 L281.2,113.7 L282.8,114.8 L284.5,116.0" fill="none" stroke="#d2c5c0" stroke-width="0.7" opacity="0.5"/>
<path d="M317.7,46.8 L318.5,48.7 L319.3,50.5 L320.1,52.3 L320.9,54.2 L321.7,56.0 L322.5,57.9 L323.2,59.7 L324.0,61.5 L324.8,63.4" fill="none" stroke="#9a8985" stroke-width="0.7" opacity="0.5"/>
<path d="M301.6,47.8 L302.5,49.6 L303.4,51.4 L304.2,53.2 L305.1,55.0 L306.0,56.7 L306.9,58.5" fill="none" stroke="#d2c5c0" stroke-width="0.7" opacity="0.5"/>
<path d="M268.0,121.9 L269.9,122.6 L271.7,123.4 L273.6,124.2 L275.4,125.0 L277.2,125.8 L279.0,126.7 L280.8,127.7" fill="none" stroke="#d2c5c0" stroke-width="0.7" opacity="0.5"/>
<path d="M318.0,130.3 L319.0,132.1 L320.0,133.8 L321.0,135.5 L322.0,137.3 L322.9,139.1 L323.8,140.9 L324.7,142.6 L325.5,144.5" fill="none" stroke="#8e807c" stroke-width="0.7" opacity="0.5"/>
<path d="M307.1,109.9 L308.3,111.5 L309.4,113.1 L310.6,114.7 L311.7,116.4 L312.8,118.0 L314.0,119.7 L315.0,121.4 L316.1,123.1" fill="none" stroke="#d2c5c0" stroke-width="0.7" opacity="0.5"/>
<path d="M279.2,107.0 L280.8,108.2 L282.4,109.4 L284.0,110.6 L285.6,111.8 L287.2,113.1 L288.7,114.3 L290.3,115.6" fill="none" stroke="#8e807c" stroke-width="0.7" opacity="0.5"/>
<path d="M271.7,60.4 L272.9,62.0 L274.1,63.6 L275.3,65.2 L276.5,66.8" fill="none" stroke="#d2c5c0" stroke-width="0.7" opacity="0.5"/>
<path d="M326.4,105.9 L327.2,107.8 L328.0,109.6 L328.7,111.5 L329.5,113.3 L330.2,115.2 L330.9,117.1" fill="none" stroke="#8e807c" stroke-width="0.7" opacity="0.5"/>
<path d="M317.8,97.0 L318.8,98.7 L319.7,100.5 L320.6,102.3 L321.5,104.1 L322.4,105.9" fill="none" stroke="#cabdb8" stroke-width="0.7" opacity="0.5"/>
<path d="M277.3,46.3 L278.3,48.0 L279.3,49.8 L280.3,51.5 L281.3,53.3" fill="none" stroke="#d2c5c0" stroke-width="0.7" opacity="0.5"/>
<path d="M298.4,93.1 L299.6,94.7 L300.8,96.3 L302.1,97.9 L303.3,99.5 L304.5,101.1 L305.6,102.7 L306.8,104.3 L308.0,105.9 L309.1,107.6" fill="none" stroke="#9a8985" stroke-width="0.7" opacity="0.5"/>
<path d="M303.6,131.2 L305.0,132.6 L306.3,134.1 L307.7,135.6 L309.0,137.1 L310.2,138.7 L311.5,140.3 L312.7,141.8" fill="none" stroke="#d2c5c0" stroke-width="0.7" opacity="0.5"/>
<path d="M310.7,100.0 L311.7,101.7 L312.8,103.4 L313.8,105.1 L314.9,106.8 L315.9,108.5 L316.9,110.3 L317.9,112.0 L318.9,113.7 L319.8,115.5 L320.8,117.3" fill="none" stroke="#8e807c" stroke-width="0.7" opacity="0.5"/>
<path d="M296.9,82.6 L298.1,84.2 L299.2,85.8 L300.4,87.5 L301.6,89.1" fill="none" stroke="#9a8985" stroke-width="0.7" opacity="0.5"/>
<path d="M279.2,57.6 L280.3,59.2 L281.4,60.9 L282.5,62.6 L283.6,64.2" fill="none" stroke="#d2c5c0" stroke-width="0.7" opacity="0.5"/>
<path d="M265.5,107.3 L267.3,108.2 L269.1,109.1 L270.8,110.0 L272.6,111.0 L274.3,112.0 L276.0,113.0 L277.8,114.1 L279.5,115.1 L281.1,116.2 L282.8,117.3" fill="none" stroke="#d2c5c0" stroke-width="0.7" opacity="0.5"/>
<path d="M279.6,54.6 L280.6,56.3 L281.7,58.0 L282.8,59.7 L283.9,61.4 L285.0,63.1 L286.1,64.7 L287.2,66.4" fill="none" stroke="#cabdb8" stroke-width="0.7" opacity="0.5"/>
<path d="M313.3,66.3 L314.2,68.0 L315.1,69.8 L316.0,71.6 L316.9,73.4 L317.7,75.2 L318.6,77.0 L319.5,78.8 L320.4,80.6 L321.2,82.4" fill="none" stroke="#8e807c" stroke-width="0.7" opacity="0.5"/>
<path d="M327.0,78.1 L327.8,80.0 L328.5,81.8 L329.3,83.7 L330.0,85.5 L330.7,87.4 L331.4,89.3 L332.1,91.2 L332.8,93.0 L333.5,94.9" fill="none" stroke="#8e807c" stroke-width="0.7" opacity="0.5"/>
<path d="M314.0,51.1 L314.8,52.9 L315.7,54.7 L316.5,56.6 L317.3,58.4 L318.2,60.2 L319.0,62.0 L319.8,63.8 L320.6,65.7" fill="none" stroke="#9a8985" stroke-width="0.7" opacity="0.5"/>
<path d="M295.9,132.5 L297.4,133.8 L298.9,135.1 L300.4,136.4 L301.9,137.8 L303.3,139.2" fill="none" stroke="#d2c5c0" stroke-width="0.7" opacity="0.5"/>
<path d="M313.2,44.1 L314.0,45.9 L314.8,47.8 L315.6,49.6 L316.4,51.4" fill="none" stroke="#d2c5c0" stroke-width="0.7" opacity="0.5"/>
<path d="M291.1,73.0 L292.2,74.6 L293.4,76.3 L294.6,77.9 L295.7,79.5 L296.9,81.1 L298.0,82.8 L299.2,84.4 L300.3,86.0" fill="none" stroke="#9a8985" stroke-width="0.7" opacity="0.5"/>
<path d="M305.9,73.4 L306.9,75.1 L307.9,76.8 L308.9,78.6 L309.9,80.3 L310.9,82.0 L311.9,83.8 L312.8,85.5 L313.8,87.3 L314.8,89.0 L315.7,90.8" fill="none" stroke="#9a8985" stroke-width="0.7" opacity="0.5"/>
<path d="M296.5,59.0 L297.5,60.7 L298.5,62.5 L299.5,64.2 L300.5,65.9 L301.5,67.6 L302.5,69.4 L303.5,71.1 L304.5,72.8 L305.6,74.5 L306.6,76.3" fill="none" stroke="#d2c5c0" stroke-width="0.7" opacity="0.5"/>
<path d="M289.3,104.9 L290.8,106.3 L292.2,107.7 L293.7,109.1 L295.1,110.5 L296.5,111.9 L297.9,113.3 L299.3,114.8 L300.6,116.3" fill="none" stroke="#9a8985" stroke-width="0.7" opacity="0.5"/>
<path d="M297.0,117.7 L298.4,119.1 L299.8,120.5 L301.2,122.0 L302.6,123.4 L303.9,124.9 L305.2,126.4 L306.6,127.9" fill="none" stroke="#cabdb8" stroke-width="0.7" opacity="0.5"/>
<path d="M317.7,97.4 L318.6,99.2 L319.6,101.0 L320.5,102.7 L321.4,104.5 L322.3,106.3 L323.1,108.1" fill="none" stroke="#d2c5c0" stroke-width="0.7" opacity="0.5"/>
<path d="M306.8,105.5 L307.9,107.1 L309.1,108.7 L310.2,110.4 L311.3,112.0 L312.4,113.7 L313.5,115.4 L314.6,117.1 L315.7,118.8 L316.7,120.5" fill="none" stroke="#cabdb8" stroke-width="0.7" opacity="0.5"/>
<path d="M323.4,112.7 L324.3,114.5 L325.1,116.3 L325.9,118.1 L326.7,119.9" fill="none" stroke="#8e807c" stroke-width="0.7" opacity="0.5"/>
<path d="M305.4,72.6 L306.4,74.4 L307.4,76.1 L308.4,77.8 L309.4,79.5 L310.4,81.3 L311.3,83.0" fill="none" stroke="#8e807c" stroke-width="0.7" opacity="0.5"/>
<path d="M290.3,108.7 L291.7,110.1 L293.2,111.5 L294.6,112.9 L296.1,114.3 L297.5,115.7 L298.9,117.1 L300.2,118.5 L301.6,120.0" fill="none" stroke="#8e807c" stroke-width="0.7" opacity="0.5"/>
<path d="M319.2,70.2 L320.1,72.0 L320.9,73.8 L321.8,75.6 L322.6,77.5" fill="none" stroke="#cabdb8" stroke-width="0.7" opacity="0.5"/>
<path d="M282.9,58.1 L284.0,59.8 L285.1,61.5 L286.2,63.1 L287.3,64.8 L288.4,66.5 L289.5,68.1 L290.7,69.8 L291.8,71.4 L292.9,73.1 L294.1,74.7" fill="none" stroke="#d2c5c0" stroke-width="0.7" opacity="0.5"/>
<path d="M284.3,56.5 L285.4,58.2 L286.4,59.9 L287.5,61.6 L288.6,63.3 L289.7,65.0 L290.7,66.6 L291.8,68.3 L293.0,70.0 L294.1,71.6 L295.2,73.3" fill="none" stroke="#8e807c" stroke-width="0.7" opacity="0.5"/>
<path d="M283.3,124.7 L285.0,125.8 L286.7,126.9 L288.4,128.0 L290.0,129.1 L291.6,130.3 L293.2,131.5 L294.8,132.7 L296.4,134.0 L297.9,135.2" fill="none" stroke="#9a8985" stroke-width="0.7" opacity="0.5"/>
<path d="M288.2,51.2 L289.2,52.9 L290.2,54.7 L291.2,56.4 L292.2,58.1 L293.2,59.9 L294.2,61.6 L295.2,63.3" fill="none" stroke="#9a8985" stroke-width="0.7" opacity="0.5"/>
<path d="M278.4,115.0 L280.1,116.1 L281.8,117.2 L283.4,118.3 L285.1,119.4 L286.7,120.6 L288.3,121.7 L289.9,122.9 L291.5,124.2 L293.1,125.4 L294.6,126.7" fill="none" stroke="#8e807c" stroke-width="0.7" opacity="0.5"/>
<path d="M285.7,48.5 L286.7,50.3 L287.6,52.0 L288.6,53.8 L289.6,55.5 L290.6,57.3 L291.6,59.0" fill="none" stroke="#8e807c" stroke-width="0.7" opacity="0.5"/>
<path d="M327.2,99.3 L328.0,101.1 L328.7,103.0 L329.5,104.9 L330.2,106.7" fill="none" stroke="#9a8985" stroke-width="0.7" opacity="0.5"/>
<path d="M295.8,51.4 L296.8,53.2 L297.7,55.0 L298.6,56.7 L299.6,58.5 L300.6,60.2 L301.5,62.0 L302.5,63.7 L303.5,65.5 L304.5,67.2" fill="none" stroke="#d2c5c0" stroke-width="0.7" opacity="0.5"/>
<path d="M280.6,98.6 L282.1,99.9 L283.6,101.2 L285.1,102.6 L286.6,103.9 L288.1,105.2 L289.6,106.6 L291.0,107.9 L292.5,109.3 L293.9,110.7 L295.4,112.1" fill="none" stroke="#cabdb8" stroke-width="0.7" opacity="0.5"/>
<path d="M297.0,99.6 L298.3,101.1 L299.6,102.6 L300.8,104.2 L302.1,105.7 L303.3,107.3" fill="none" stroke="#8e807c" stroke-width="0.7" opacity="0.5"/>
<path d="M271.1,120.4 L272.9,121.2 L274.7,122.0 L276.5,122.9 L278.3,123.8 L280.1,124.8 L281.8,125.8" fill="none" stroke="#cabdb8" stroke-width="0.7" opacity="0.5"/>
<path d="M292.0,92.7 L293.3,94.2 L294.6,95.7 L295.9,97.2 L297.2,98.7 L298.5,100.2" fill="none" stroke="#d2c5c0" stroke-width="0.7" opacity="0.5"/>
<path d="M327.0,90.4 L327.8,92.2 L328.5,94.1 L329.3,95.9 L330.0,97.8 L330.7,99.6 L331.4,101.5 L332.1,103.4 L332.8,105.3 L333.4,107.2 L334.1,109.1" fill="none" stroke="#cabdb8" stroke-width="0.7" opacity="0.5"/>
<path d="M307.5,118.6 L308.7,120.2 L309.9,121.8 L311.1,123.4 L312.3,125.0 L313.4,126.6" fill="none" stroke="#d2c5c0" stroke-width="0.7" opacity="0.5"/>
<path d="M288.1,92.9 L289.5,94.3 L290.8,95.8 L292.2,97.3 L293.6,98.7" fill="none" stroke="#d2c5c0" stroke-width="0.7" opacity="0.5"/>
<path d="M278.7,126.6 L280.4,127.5 L282.2,128.5 L283.9,129.4 L285.7,130.5 L287.4,131.5 L289.1,132.6 L290.7,133.7" fill="none" stroke="#8e807c" stroke-width="0.7" opacity="0.5"/>
<path d="M282.5,117.8 L284.2,118.9 L285.8,120.1 L287.4,121.2 L289.0,122.4 L290.6,123.6 L292.2,124.9" fill="none" stroke="#9a8985" stroke-width="0.7" opacity="0.5"/>
<path d="M316.5,121.6 L317.6,123.3 L318.6,125.0 L319.6,126.8 L320.5,128.5 L321.5,130.3 L322.4,132.1 L323.3,133.8 L324.2,135.6 L325.1,137.4 L325.9,139.3" fill="none" stroke="#cabdb8" stroke-width="0.7" opacity="0.5"/>
<path d="M321.7,75.5 L322.5,77.3 L323.3,79.2 L324.1,81.0 L325.0,82.8 L325.7,84.7 L326.5,86.5 L327.3,88.3 L328.1,90.2 L328.8,92.1 L329.6,93.9" fill="none" stroke="#9a8985" stroke-width="0.7" opacity="0.5"/>
<path d="M270.5,47.9 L271.5,49.6 L272.6,51.3 L273.6,53.0 L274.7,54.7 L275.8,56.4 L276.9,58.1 L278.0,59.7" fill="none" stroke="#9a8985" stroke-width="0.7" opacity="0.5"/>
<path d="M297.7,124.2 L299.1,125.6 L300.5,127.0 L302.0,128.4 L303.3,129.8 L304.7,131.3 L306.1,132.8 L307.4,134.3 L308.7,135.8 L309.9,137.3 L311.2,138.9" fill="none" stroke="#9a8985" stroke-width="0.7" opacity="0.5"/>
<path d="M327.0,110.8 L327.7,112.7 L328.5,114.5 L329.2,116.4 L330.0,118.2" fill="none" stroke="#cabdb8" stroke-width="0.7" opacity="0.5"/>
<path d="M302.9,104.5 L304.1,106.1 L305.3,107.7 L306.5,109.3 L307.7,110.9 L308.9,112.5 L310.1,114.1 L311.2,115.8 L312.3,117.4 L313.5,119.1 L314.6,120.7" fill="none" stroke="#9a8985" stroke-width="0.7" opacity="0.5"/>
<path d="M277.2,124.6 L279.0,125.5 L280.7,126.4 L282.5,127.4 L284.2,128.4 L285.9,129.4 L287.6,130.5" fill="none" stroke="#8e807c" stroke-width="0.7" opacity="0.5"/>
<path d="M331.6,64.3 L332.4,66.2 L333.1,68.0 L333.8,69.9 L334.5,71.8" fill="none" stroke="#cabdb8" stroke-width="0.7" opacity="0.5"/>
<path d="M328.2,48.7 L329.0,50.5 L329.7,52.4 L330.5,54.3 L331.2,56.1 L331.9,58.0 L332.7,59.8 L333.4,61.7" fill="none" stroke="#d2c5c0" stroke-width="0.7" opacity="0.5"/>
<path d="M321.2,47.5 L322.0,49.4 L322.8,51.2 L323.6,53.0 L324.4,54.9 L325.1,56.7 L325.9,58.6 L326.7,60.4 L327.4,62.3 L328.2,64.1" fill="none" stroke="#9a8985" stroke-width="0.7" opacity="0.5"/>
<path d="M268.7,56.9 L269.8,58.5 L271.0,60.2 L272.2,61.8 L273.3,63.4 L274.6,65.0 L275.8,66.6 L277.0,68.1 L278.2,69.7 L279.5,71.3" fill="none" stroke="#8e807c" stroke-width="0.7" opacity="0.5"/>
<path d="M310.5,71.7 L311.4,73.4 L312.3,75.2 L313.3,77.0 L314.2,78.7 L315.1,80.5 L316.1,82.3 L317.0,84.1 L317.9,85.8" fill="none" stroke="#d2c5c0" stroke-width="0.7" opacity="0.5"/>
<path d="M296.6,78.7 L297.7,80.3 L298.9,82.0 L300.0,83.6 L301.1,85.2 L302.3,86.9 L303.4,88.5" fill="none" stroke="#cabdb8" stroke-width="0.7" opacity="0.5"/>
<path d="M297.3,59.2 L298.3,60.9 L299.3,62.7 L300.3,64.4 L301.3,66.1 L302.3,67.9" fill="none" stroke="#8e807c" stroke-width="0.7" opacity="0.5"/>
<path d="M326.4,128.6 L327.2,130.5 L328.0,132.3 L328.8,134.2 L329.5,136.0 L330.2,137.9 L330.9,139.8 L331.6,141.7" fill="none" stroke="#8e807c" stroke-width="0.7" opacity="0.5"/>
<path d="M318.7,58.1 L319.5,59.9 L320.3,61.7 L321.1,63.5 L321.9,65.4 L322.7,67.2 L323.5,69.0 L324.3,70.9 L325.1,72.7 L325.9,74.5" fill="none" stroke="#d2c5c0" stroke-width="0.7" opacity="0.5"/>
<path d="M327.8,126.2 L328.5,128.1 L329.3,129.9 L330.0,131.8 L330.7,133.7 L331.4,135.5 L332.0,137.4 L332.6,139.3 L333.3,141.2 L333.9,143.1 L334.4,145.1" fill="none" stroke="#8e807c" stroke-width="0.7" opacity="0.5"/>
<path d="M317.3,135.0 L318.3,136.7 L319.4,138.4 L320.4,140.1 L321.3,141.9 L322.3,143.6 L323.2,145.4 L324.1,147.2 L325.0,149.0 L325.9,150.8 L326.7,152.6" fill="none" stroke="#9a8985" stroke-width="0.7" opacity="0.5"/>
<path d="M321.6,103.3 L322.5,105.1 L323.3,106.9 L324.2,108.7 L325.0,110.5 L325.8,112.4 L326.6,114.2 L327.4,116.0" fill="none" stroke="#cabdb8" stroke-width="0.7" opacity="0.5"/>
<path d="M286.6,65.5 L287.7,67.1 L288.9,68.8 L290.0,70.4 L291.1,72.0" fill="none" stroke="#cabdb8" stroke-width="0.7" opacity="0.5"/>
<path d="M274.5,64.3 L275.7,65.9 L276.9,67.5 L278.2,69.0 L279.4,70.6" fill="none" stroke="#9a8985" stroke-width="0.7" opacity="0.5"/>
<path d="M302.1,56.9 L303.1,58.7 L304.0,60.4 L305.0,62.2 L305.9,64.0 L306.8,65.7 L307.8,67.5 L308.7,69.2 L309.7,71.0 L310.6,72.8 L311.6,74.5" fill="none" stroke="#cabdb8" stroke-width="0.7" opacity="0.5"/>
<path d="M293.0,66.7 L294.1,68.4 L295.2,70.1 L296.3,71.7 L297.4,73.4" fill="none" stroke="#cabdb8" stroke-width="0.7" opacity="0.5"/>
<path d="M287.4,59.1 L288.5,60.8 L289.5,62.5 L290.6,64.2 L291.7,65.9 L292.8,67.6 L293.9,69.2 L295.0,70.9" fill="none" stroke="#cabdb8" stroke-width="0.7" opacity="0.5"/>
<path d="M295.6,89.3 L296.8,90.9 L298.1,92.5 L299.3,94.0 L300.5,95.6 L301.7,97.2" fill="none" stroke="#d2c5c0" stroke-width="0.7" opacity="0.5"/>
<path d="M307.4,118.6 L308.6,120.2 L309.8,121.8 L311.0,123.4 L312.1,125.0 L313.3,126.7 L314.4,128.3 L315.5,130.0 L316.6,131.7 L317.7,133.4 L318.7,135.1" fill="none" stroke="#9a8985" stroke-width="0.7" opacity="0.5"/>
<path d="M321.1,54.4 L321.9,56.3 L322.7,58.1 L323.5,60.0 L324.3,61.8 L325.1,63.6 L325.8,65.5 L326.6,67.3 L327.4,69.2 L328.1,71.0" fill="none" stroke="#cabdb8" stroke-width="0.7" opacity="0.5"/>
<path d="M294.0,68.1 L295.1,69.8 L296.2,71.5 L297.2,73.1 L298.3,74.8 L299.4,76.5" fill="none" stroke="#8e807c" stroke-width="0.7" opacity="0.5"/>
<path d="M271.5,70.8 L272.8,72.3 L274.1,73.8 L275.4,75.3 L276.8,76.8 L278.1,78.2 L279.5,79.7 L280.8,81.2 L282.2,82.7 L283.5,84.2 L284.9,85.6" fill="none" stroke="#d2c5c0" stroke-width="0.7" opacity="0.5"/>
<path d="M320.9,136.9 L321.9,138.7 L322.8,140.5 L323.7,142.2 L324.6,144.0 L325.5,145.8" fill="none" stroke="#d2c5c0" stroke-width="0.7" opacity="0.5"/>
<path d="M294.7,91.7 L295.9,93.3 L297.2,94.8 L298.4,96.4 L299.7,98.0 L300.9,99.5 L302.2,101.1 L303.4,102.7" fill="none" stroke="#9a8985" stroke-width="0.7" opacity="0.5"/>
<path d="M265.0,122.9 L266.9,123.5 L268.8,124.2 L270.7,124.9 L272.6,125.6 L274.4,126.4 L276.2,127.2 L278.0,128.0" fill="none" stroke="#8e807c" stroke-width="0.7" opacity="0.5"/>
<path d="M289.1,46.9 L290.0,48.7 L291.0,50.4 L291.9,52.2 L292.9,54.0 L293.8,55.7 L294.8,57.5" fill="none" stroke="#cabdb8" stroke-width="0.7" opacity="0.5"/>
<path d="M303.4,56.3 L304.3,58.0 L305.2,59.8 L306.1,61.6 L307.1,63.3 L308.0,65.1" fill="none" stroke="#8e807c" stroke-width="0.7" opacity="0.5"/>
<path d="M312.8,61.9 L313.7,63.7 L314.5,65.5 L315.4,67.3 L316.3,69.1" fill="none" stroke="#d2c5c0" stroke-width="0.7" opacity="0.5"/>
<path d="M324.8,113.2 L325.6,115.0 L326.4,116.8 L327.2,118.6 L328.0,120.5 L328.7,122.3 L329.4,124.2 L330.2,126.1 L330.9,127.9 L331.5,129.8" fill="none" stroke="#8e807c" stroke-width="0.7" opacity="0.5"/>
<path d="M278.8,101.8 L280.3,103.0 L281.9,104.3 L283.5,105.5 L285.0,106.8 L286.5,108.1 L288.1,109.4 L289.6,110.7 L291.1,112.0" fill="none" stroke="#8e807c" stroke-width="0.7" opacity="0.5"/>
<path d="M304.1,62.4 L305.1,64.2 L306.0,65.9 L307.0,67.7 L308.0,69.4" fill="none" stroke="#9a8985" stroke-width="0.7" opacity="0.5"/>
<path d="M321.5,131.0 L322.4,132.7 L323.3,134.5 L324.2,136.3 L325.1,138.1 L325.9,139.9 L326.8,141.7 L327.5,143.6" fill="none" stroke="#cabdb8" stroke-width="0.7" opacity="0.5"/>
<path d="M287.5,123.8 L289.1,125.0 L290.7,126.2 L292.3,127.4 L293.9,128.6 L295.4,129.9 L296.9,131.2 L298.4,132.5 L299.9,133.8 L301.4,135.2 L302.8,136.6" fill="none" stroke="#9a8985" stroke-width="0.7" opacity="0.5"/>
<path d="M271.0,82.3 L272.4,83.7 L273.9,85.0 L275.4,86.4 L276.8,87.8 L278.3,89.1 L279.8,90.5 L281.2,91.9 L282.7,93.2 L284.1,94.6" fill="none" stroke="#8e807c" stroke-width="0.7" opacity="0.5"/>
<path d="M323.6,68.6 L324.4,70.4 L325.2,72.2 L326.0,74.1 L326.7,75.9 L327.5,77.8" fill="none" stroke="#cabdb8" stroke-width="0.7" opacity="0.5"/>
<path d="M267.4,110.4 L269.2,111.3 L270.9,112.2 L272.7,113.2 L274.5,114.1 L276.2,115.1 L277.9,116.1 L279.6,117.2 L281.3,118.2" fill="none" stroke="#d2c5c0" stroke-width="0.7" opacity="0.5"/>
<path d="M288.9,132.5 L290.5,133.6 L292.2,134.7 L293.8,135.9 L295.4,137.1 L297.0,138.3 L298.5,139.6 L300.0,140.9 L301.5,142.2 L303.0,143.6 L304.5,145.0" fill="none" stroke="#d2c5c0" stroke-width="0.7" opacity="0.5"/>
<path d="M273.0,111.6 L274.8,112.6 L276.5,113.6 L278.2,114.7 L279.9,115.7 L281.6,116.8 L283.2,117.9 L284.9,119.0 L286.5,120.2 L288.1,121.4" fill="none" stroke="#cabdb8" stroke-width="0.7" opacity="0.5"/>
<path d="M317.3,126.3 L318.4,128.1 L319.4,129.8 L320.4,131.5 L321.3,133.3 L322.3,135.0 L323.2,136.8 L324.1,138.6 L324.9,140.4" fill="none" stroke="#d2c5c0" stroke-width="0.7" opacity="0.5"/>
<path d="M284.5,53.3 L285.5,55.1 L286.6,56.8 L287.6,58.5 L288.6,60.2 L289.7,61.9 L290.7,63.6 L291.8,65.3 L292.9,67.0 L294.0,68.6" fill="none" stroke="#9a8985" stroke-width="0.7" opacity="0.5"/>
<path d="M299.4,93.9 L300.7,95.5 L301.9,97.1 L303.1,98.7 L304.3,100.3 L305.5,101.9 L306.6,103.5 L307.8,105.2" fill="none" stroke="#d2c5c0" stroke-width="0.7" opacity="0.5"/>
<path d="M281.3,51.5 L282.3,53.2 L283.3,55.0 L284.3,56.7 L285.4,58.4 L286.5,60.1 L287.5,61.8 L288.6,63.4 L289.7,65.1" fill="none" stroke="#8e807c" stroke-width="0.7" opacity="0.5"/>
<path d="M271.8,67.0 L273.1,68.6 L274.4,70.1 L275.6,71.7 L276.9,73.2 L278.2,74.7 L279.5,76.2 L280.8,77.7 L282.2,79.2 L283.5,80.8" fill="none" stroke="#d2c5c0" stroke-width="0.7" opacity="0.5"/>
<path d="M266.2,131.9 L268.1,132.4 L270.1,133.0 L272.0,133.5 L273.9,134.2 L275.8,134.9 L277.6,135.6 L279.5,136.3 L281.3,137.2 L283.1,138.0" fill="none" stroke="#cabdb8" stroke-width="0.7" opacity="0.5"/>
<path d="M266.1,100.5 L267.8,101.6 L269.5,102.6 L271.2,103.7 L272.9,104.7 L274.6,105.8 L276.2,106.9 L277.9,108.1 L279.5,109.2" fill="none" stroke="#8e807c" stroke-width="0.7" opacity="0.5"/>
<path d="M312.2,52.9 L313.0,54.7 L313.9,56.5 L314.7,58.3 L315.6,60.1 L316.4,61.9 L317.3,63.7 L318.1,65.6 L319.0,67.4 L319.8,69.2 L320.6,71.0" fill="none" stroke="#8e807c" stroke-width="0.7" opacity="0.5"/>
<path d="M267.9,54.8 L269.1,56.5 L270.2,58.1 L271.4,59.7 L272.5,61.4 L273.7,63.0 L274.9,64.6 L276.1,66.2" fill="none" stroke="#cabdb8" stroke-width="0.7" opacity="0.5"/>
<path d="M272.3,54.7 L273.4,56.3 L274.5,58.0 L275.6,59.7 L276.8,61.3 L277.9,62.9 L279.1,64.6 L280.3,66.2 L281.5,67.8 L282.7,69.4 L283.9,71.0" fill="none" stroke="#8e807c" stroke-width="0.7" opacity="0.5"/>
<path d="M322.9,57.1 L323.6,59.0 L324.4,60.8 L325.2,62.7 L326.0,64.5 L326.7,66.3 L327.5,68.2 L328.3,70.0 L329.0,71.9" fill="none" stroke="#9a8985" stroke-width="0.7" opacity="0.5"/>
<path d="M276.0,122.3 L277.7,123.2 L279.5,124.1 L281.3,125.1 L283.0,126.1 L284.7,127.1 L286.4,128.2 L288.1,129.3 L289.7,130.4 L291.4,131.6 L293.0,132.8" fill="none" stroke="#9a8985" stroke-width="0.7" opacity="0.5"/>
<path d="M311.6,100.3 L312.7,102.0 L313.7,103.7 L314.7,105.4 L315.7,107.2 L316.8,108.9 L317.7,110.6 L318.7,112.4 L319.7,114.1" fill="none" stroke="#d2c5c0" stroke-width="0.7" opacity="0.5"/>
<path d="M291.5,133.4 L293.1,134.5 L294.8,135.7 L296.3,137.0 L297.9,138.2 L299.4,139.5 L300.9,140.8 L302.4,142.2 L303.9,143.5 L305.3,144.9" fill="none" stroke="#cabdb8" stroke-width="0.7" opacity="0.5"/>
<path d="M291.9,123.5 L293.4,124.8 L295.0,126.0 L296.5,127.4 L298.0,128.7 L299.4,130.0 L300.9,131.4 L302.3,132.8 L303.7,134.2 L305.1,135.7" fill="none" stroke="#cabdb8" stroke-width="0.7" opacity="0.5"/>
<path d="M319.8,124.4 L320.7,126.1 L321.7,127.9 L322.6,129.7 L323.5,131.5" fill="none" stroke="#8e807c" stroke-width="0.7" opacity="0.5"/>
<path d="M329.4,132.7 L330.1,134.6 L330.8,136.4 L331.4,138.3 L332.1,140.2 L332.7,142.1" fill="none" stroke="#9a8985" stroke-width="0.7" opacity="0.5"/>
<path d="M309.5,44.1 L310.3,45.9 L311.2,47.8 L312.0,49.6 L312.8,51.4" fill="none" stroke="#8e807c" stroke-width="0.7" opacity="0.5"/>
<path d="M269.6,84.6 L271.1,85.9 L272.6,87.2 L274.1,88.5 L275.6,89.8 L277.1,91.2 L278.6,92.5 L280.1,93.8" fill="none" stroke="#d2c5c0" stroke-width="0.7" opacity="0.5"/>
<path d="M280.1,83.4 L281.5,84.8 L282.8,86.3 L284.2,87.7 L285.6,89.2 L287.0,90.6 L288.3,92.1" fill="none" stroke="#9a8985" stroke-width="0.7" opacity="0.5"/>
<path d="M307.5,120.7 L308.7,122.3 L310.0,123.9 L311.1,125.5 L312.3,127.1 L313.5,128.7 L314.6,130.4 L315.7,132.0 L316.8,133.7 L317.9,135.4 L318.9,137.1" fill="none" stroke="#d2c5c0" stroke-width="0.7" opacity="0.5"/>
<path d="M267.2,104.6 L269.0,105.6 L270.7,106.6 L272.4,107.6 L274.1,108.6 L275.8,109.7" fill="none" stroke="#cabdb8" stroke-width="0.7" opacity="0.5"/>
<path d="M307.2,120.4 L308.4,122.0 L309.6,123.6 L310.8,125.2 L312.0,126.8" fill="none" stroke="#d2c5c0" stroke-width="0.7" opacity="0.5"/>
<path d="M281.8,92.9 L283.2,94.3 L284.7,95.7 L286.1,97.1 L287.5,98.5 L289.0,99.9 L290.4,101.3 L291.8,102.7" fill="none" stroke="#d2c5c0" stroke-width="0.7" opacity="0.5"/>
<path d="M284.3,72.3 L285.5,73.9 L286.7,75.5 L287.9,77.1 L289.1,78.6 L290.4,80.2 L291.6,81.8 L292.8,83.4 L294.1,85.0" fill="none" stroke="#d2c5c0" stroke-width="0.7" opacity="0.5"/>
<path d="M269.0,135.1 L270.9,135.6 L272.8,136.2 L274.7,136.8 L276.6,137.4 L278.5,138.1 L280.3,138.9 L282.2,139.7 L284.0,140.5 L285.8,141.4 L287.5,142.4" fill="none" stroke="#cabdb8" stroke-width="0.7" opacity="0.5"/>
<path d="M270.6,99.7 L272.2,100.8 L273.9,101.9 L275.5,103.1 L277.2,104.2 L278.8,105.4 L280.4,106.6 L282.0,107.8 L283.6,109.0 L285.1,110.2 L286.7,111.5" fill="none" stroke="#9a8985" stroke-width="0.7" opacity="0.5"/>
<path d="M273.2,55.6 L274.3,57.3 L275.5,58.9 L276.6,60.6 L277.7,62.2 L278.9,63.9 L280.1,65.5" fill="none" stroke="#9a8985" stroke-width="0.7" opacity="0.5"/>
<path d="M303.8,69.3 L304.8,71.0 L305.8,72.8 L306.8,74.5 L307.8,76.2 L308.8,78.0 L309.7,79.7 L310.7,81.4 L311.7,83.2 L312.7,84.9" fill="none" stroke="#cabdb8" stroke-width="0.7" opacity="0.5"/>
<path d="M321.4,101.6 L322.3,103.4 L323.2,105.2 L324.0,107.0 L324.8,108.8 L325.7,110.6 L326.5,112.4 L327.3,114.3" fill="none" stroke="#9a8985" stroke-width="0.7" opacity="0.5"/>
<path d="M278.4,111.2 L280.1,112.3 L281.8,113.4 L283.4,114.6 L285.0,115.8 L286.6,116.9 L288.2,118.2 L289.8,119.4" fill="none" stroke="#cabdb8" stroke-width="0.7" opacity="0.5"/>
<path d="M306.1,88.0 L307.2,89.7 L308.3,91.4 L309.4,93.1 L310.4,94.8 L311.5,96.5 L312.5,98.2" fill="none" stroke="#8e807c" stroke-width="0.7" opacity="0.5"/>
<path d="M287.4,61.1 L288.4,62.8 L289.5,64.5 L290.6,66.2 L291.7,67.8 L292.8,69.5 L293.9,71.2 L295.0,72.8" fill="none" stroke="#9a8985" stroke-width="0.7" opacity="0.5"/>
<path d="M265.7,76.9 L267.2,78.2 L268.6,79.6 L270.1,81.0 L271.5,82.3 L273.0,83.7 L274.4,85.1 L275.9,86.4 L277.4,87.8 L278.8,89.2 L280.3,90.6" fill="none" stroke="#8e807c" stroke-width="0.7" opacity="0.5"/>
<path d="M286.7,74.2 L287.9,75.8 L289.1,77.4 L290.3,79.0 L291.6,80.6 L292.8,82.2" fill="none" stroke="#8e807c" stroke-width="0.7" opacity="0.5"/>
<path d="M284.8,117.1 L286.4,118.3 L288.0,119.5 L289.6,120.7 L291.2,121.9 L292.7,123.2" fill="none" stroke="#d2c5c0" stroke-width="0.7" opacity="0.5"/>
<path d="M305.7,76.4 L306.7,78.1 L307.7,79.8 L308.7,81.6 L309.8,83.3 L310.8,85.0 L311.8,86.8 L312.8,88.5 L313.7,90.2" fill="none" stroke="#9a8985" stroke-width="0.7" opacity="0.5"/>
<path d="M321.1,77.0 L321.9,78.8 L322.7,80.6 L323.5,82.5 L324.4,84.3 L325.2,86.1 L326.0,87.9 L326.7,89.8 L327.5,91.6 L328.3,93.5" fill="none" stroke="#8e807c" stroke-width="0.7" opacity="0.5"/>
<path d="M331.5,108.1 L332.2,109.9 L332.8,111.8 L333.5,113.7 L334.1,115.6 L334.7,117.5 L335.3,119.4 L335.9,121.3 L336.4,123.3 L336.9,125.2 L337.5,127.1" fill="none" stroke="#9a8985" stroke-width="0.7" opacity="0.5"/>
<path d="M287.6,76.8 L288.8,78.4 L290.0,80.0 L291.3,81.6 L292.5,83.1 L293.7,84.7 L295.0,86.3 L296.2,87.9 L297.4,89.5" fill="none" stroke="#cabdb8" stroke-width="0.7" opacity="0.5"/>
<path d="M320.2,92.7 L321.1,94.5 L321.9,96.3 L322.8,98.1 L323.6,99.9 L324.5,101.7 L325.3,103.6 L326.1,105.4 L326.9,107.2 L327.7,109.1" fill="none" stroke="#9a8985" stroke-width="0.7" opacity="0.5"/>
<path d="M283.0,103.5 L284.5,104.8 L286.0,106.1 L287.6,107.4 L289.1,108.7 L290.5,110.1 L292.0,111.4 L293.5,112.8 L294.9,114.2" fill="none" stroke="#8e807c" stroke-width="0.7" opacity="0.5"/>
<path d="M292.7,52.9 L293.7,54.7 L294.6,56.4 L295.6,58.2 L296.6,59.9 L297.6,61.6 L298.6,63.4" fill="none" stroke="#d2c5c0" stroke-width="0.7" opacity="0.5"/>
<path d="M298.4,135.4 L299.9,136.7 L301.4,138.1 L302.8,139.5 L304.3,140.9 L305.7,142.3 L307.1,143.7 L308.4,145.2 L309.7,146.7" fill="none" stroke="#9a8985" stroke-width="0.7" opacity="0.5"/>
<path d="M322.1,69.8 L322.9,71.6 L323.7,73.5 L324.5,75.3 L325.3,77.1 L326.1,79.0 L326.9,80.8 L327.6,82.7 L328.4,84.5" fill="none" stroke="#d2c5c0" stroke-width="0.7" opacity="0.5"/>
<path d="M290.4,86.4 L291.7,88.0 L293.0,89.5 L294.3,91.0 L295.6,92.6 L296.8,94.1 L298.1,95.7 L299.3,97.2" fill="none" stroke="#cabdb8" stroke-width="0.7" opacity="0.5"/>
<path d="M284.6,80.5 L285.9,82.0 L287.2,83.5 L288.5,85.1 L289.8,86.6 L291.1,88.1 L292.4,89.6 L293.7,91.2" fill="none" stroke="#9a8985" stroke-width="0.7" opacity="0.5"/>
<path d="M308.5,43.6 L309.3,45.5 L310.2,47.3 L311.0,49.1 L311.8,50.9 L312.7,52.8 L313.5,54.6 L314.3,56.4 L315.2,58.2 L316.0,60.0" fill="none" stroke="#9a8985" stroke-width="0.7" opacity="0.5"/>
<path d="M290.5,71.8 L291.7,73.4 L292.8,75.1 L294.0,76.7 L295.1,78.3 L296.3,80.0 L297.5,81.6 L298.6,83.2" fill="none" stroke="#8e807c" stroke-width="0.7" opacity="0.5"/>
<path d="M294.2,79.2 L295.4,80.8 L296.6,82.4 L297.7,84.0 L298.9,85.7 L300.1,87.3" fill="none" stroke="#cabdb8" stroke-width="0.7" opacity="0.5"/>
<path d="M286.7,124.0 L288.3,125.1 L290.0,126.3 L291.6,127.5 L293.1,128.7 L294.7,129.9 L296.3,131.2 L297.8,132.5 L299.3,133.8 L300.7,135.2" fill="none" stroke="#cabdb8" stroke-width="0.7" opacity="0.5"/>
<path d="M278.7,83.9 L280.1,85.4 L281.5,86.8 L282.8,88.2 L284.2,89.7 L285.6,91.1 L287.0,92.5 L288.4,94.0 L289.8,95.4 L291.2,96.9 L292.5,98.4" fill="none" stroke="#d2c5c0" stroke-width="0.7" opacity="0.5"/>
<path d="M266.6,67.6 L267.9,69.1 L269.3,70.6 L270.6,72.1 L272.0,73.6 L273.3,75.1 L274.7,76.5 L276.0,78.0 L277.4,79.5 L278.7,80.9 L280.1,82.4" fill="none" stroke="#cabdb8" stroke-width="0.7" opacity="0.5"/>
<path d="M326.8,117.3 L327.6,119.1 L328.4,120.9 L329.1,122.8 L329.9,124.7 L330.6,126.5 L331.2,128.4 L331.9,130.3" fill="none" stroke="#9a8985" stroke-width="0.7" opacity="0.5"/>
<path d="M299.7,92.7 L300.9,94.3 L302.1,95.9 L303.3,97.5 L304.5,99.1 L305.7,100.7 L306.8,102.3 L308.0,104.0 L309.1,105.6" fill="none" stroke="#9a8985" stroke-width="0.7" opacity="0.5"/>
<path d="M296.1,46.9 L297.0,48.7 L297.9,50.5 L298.8,52.3 L299.8,54.0 L300.7,55.8 L301.6,57.6 L302.6,59.4 L303.5,61.1" fill="none" stroke="#9a8985" stroke-width="0.7" opacity="0.5"/>
<path d="M328.7,107.9 L329.4,109.8 L330.2,111.7 L330.9,113.5 L331.5,115.4 L332.2,117.3 L332.9,119.2 L333.5,121.1" fill="none" stroke="#d2c5c0" stroke-width="0.7" opacity="0.5"/>
<path d="M292.5,91.1 L293.8,92.6 L295.0,94.1 L296.3,95.7 L297.6,97.2 L298.9,98.8 L300.1,100.3 L301.4,101.9 L302.6,103.4" fill="none" stroke="#8e807c" stroke-width="0.7" opacity="0.5"/>
<path d="M324.1,135.6 L325.0,137.4 L325.8,139.2 L326.6,141.0 L327.4,142.9 L328.2,144.7 L329.0,146.6 L329.7,148.4" fill="none" stroke="#9a8985" stroke-width="0.7" opacity="0.5"/>
<path d="M316.5,129.3 L317.6,131.0 L318.6,132.7 L319.6,134.5 L320.6,136.2 L321.6,137.9 L322.5,139.7 L323.5,141.5 L324.3,143.3" fill="none" stroke="#d2c5c0" stroke-width="0.7" opacity="0.5"/>
<path d="M276.4,73.5 L277.7,75.0 L279.0,76.6 L280.3,78.1 L281.6,79.6 L283.0,81.1 L284.3,82.6 L285.6,84.1 L286.9,85.6 L288.3,87.1 L289.6,88.6" fill="none" stroke="#cabdb8" stroke-width="0.7" opacity="0.5"/>
<path d="M299.4,53.6 L300.3,55.4 L301.3,57.2 L302.2,58.9 L303.1,60.7 L304.1,62.4 L305.0,64.2 L306.0,66.0 L307.0,67.7 L307.9,69.5 L308.9,71.2" fill="none" stroke="#cabdb8" stroke-width="0.7" opacity="0.5"/>
<path d="M320.1,138.1 L321.1,139.8 L322.1,141.6 L323.0,143.3 L323.9,145.1 L324.8,146.9 L325.6,148.7 L326.5,150.5 L327.3,152.4 L328.1,154.2 L328.8,156.1" fill="none" stroke="#9a8985" stroke-width="0.7" opacity="0.5"/>
<path d="M307.4,93.3 L308.5,95.0 L309.6,96.7 L310.6,98.4 L311.7,100.0 L312.7,101.7 L313.8,103.5 L314.8,105.2 L315.8,106.9 L316.8,108.6" fill="none" stroke="#8e807c" stroke-width="0.7" opacity="0.5"/>
<path d="M298.9,61.1 L299.9,62.8 L300.9,64.5 L301.8,66.3 L302.8,68.0 L303.8,69.7" fill="none" stroke="#d2c5c0" stroke-width="0.7" opacity="0.5"/>
<path d="M288.7,138.4 L290.4,139.4 L292.1,140.5 L293.7,141.6 L295.3,142.8 L297.0,144.0 L298.5,145.2 L300.1,146.5 L301.6,147.8" fill="none" stroke="#d2c5c0" stroke-width="0.7" opacity="0.5"/>
<path d="M311.5,44.0 L312.3,45.9 L313.1,47.7 L313.9,49.5 L314.7,51.3" fill="none" stroke="#d2c5c0" stroke-width="0.7" opacity="0.5"/>
<path d="M326.6,81.2 L327.4,83.0 L328.1,84.9 L328.9,86.7 L329.6,88.6" fill="none" stroke="#d2c5c0" stroke-width="0.7" opacity="0.5"/>
<path d="M309.9,61.9 L310.8,63.7 L311.7,65.4 L312.6,67.2 L313.5,69.0 L314.4,70.8 L315.3,72.6 L316.2,74.4" fill="none" stroke="#cabdb8" stroke-width="0.7" opacity="0.5"/>
<path d="M323.5,129.0 L324.4,130.8 L325.3,132.6 L326.1,134.4 L326.9,136.2 L327.7,138.1 L328.4,139.9 L329.2,141.8" fill="none" stroke="#8e807c" stroke-width="0.7" opacity="0.5"/>
<path d="M303.6,82.5 L304.6,84.1 L305.7,85.8 L306.8,87.5 L307.9,89.2" fill="none" stroke="#8e807c" stroke-width="0.7" opacity="0.5"/>
<path d="M299.8,91.9 L301.0,93.5 L302.2,95.1 L303.4,96.7 L304.5,98.3" fill="none" stroke="#d2c5c0" stroke-width="0.7" opacity="0.5"/>
<path d="M276.4,93.2 L277.9,94.5 L279.4,95.8 L280.9,97.1 L282.4,98.4 L283.9,99.7 L285.4,101.0 L286.9,102.4 L288.4,103.7 L289.8,105.1" fill="none" stroke="#9a8985" stroke-width="0.7" opacity="0.5"/>
<path d="M319.2,49.0 L320.0,50.8 L320.8,52.6 L321.6,54.5 L322.4,56.3" fill="none" stroke="#cabdb8" stroke-width="0.7" opacity="0.5"/>
<path d="M274.6,65.9 L275.8,67.5 L277.1,69.0 L278.3,70.6 L279.6,72.1 L280.8,73.7" fill="none" stroke="#d2c5c0" stroke-width="0.7" opacity="0.5"/>
<path d="M282.8,52.5 L283.9,54.3 L284.9,56.0 L285.9,57.7 L287.0,59.4 L288.0,61.1 L289.1,62.8 L290.2,64.5 L291.3,66.2 L292.3,67.8 L293.4,69.5" fill="none" stroke="#d2c5c0" stroke-width="0.7" opacity="0.5"/>
<path d="M288.4,86.2 L289.7,87.7 L291.0,89.2 L292.3,90.7 L293.6,92.3 L294.9,93.8 L296.2,95.3" fill="none" stroke="#d2c5c0" stroke-width="0.7" opacity="0.5"/>
<path d="M279.7,81.0 L281.1,82.5 L282.4,84.0 L283.8,85.4 L285.1,86.9 L286.5,88.4 L287.8,89.8 L289.2,91.3 L290.5,92.8 L291.9,94.3" fill="none" stroke="#d2c5c0" stroke-width="0.7" opacity="0.5"/>
<path d="M294.5,102.5 L295.8,104.0 L297.2,105.5 L298.5,107.0 L299.8,108.5 L301.2,110.0" fill="none" stroke="#d2c5c0" stroke-width="0.7" opacity="0.5"/>
<path d="M275.6,99.4 L277.2,100.6 L278.8,101.8 L280.4,103.0 L281.9,104.3 L283.5,105.5" fill="none" stroke="#d2c5c0" stroke-width="0.7" opacity="0.5"/>
<path d="M325.4,121.3 L326.2,123.2 L327.0,125.0 L327.8,126.8 L328.6,128.7 L329.3,130.5 L330.0,132.4" fill="none" stroke="#cabdb8" stroke-width="0.7" opacity="0.5"/>
<path d="M329.5,90.6 L330.2,92.4 L331.0,94.3 L331.7,96.2 L332.3,98.1 L333.0,99.9 L333.7,101.8 L334.3,103.7 L334.9,105.6 L335.5,107.5 L336.1,109.4" fill="none" stroke="#8e807c" stroke-width="0.7" opacity="0.5"/>
<path d="M310.5,107.8 L311.6,109.5 L312.7,111.1 L313.8,112.8 L314.8,114.5 L315.9,116.2 L316.9,117.9 L317.9,119.6 L318.9,121.4" fill="none" stroke="#9a8985" stroke-width="0.7" opacity="0.5"/>
<path d="M285.7,127.0 L287.4,128.1 L289.0,129.2 L290.7,130.4 L292.3,131.6 L293.9,132.8 L295.5,134.0 L297.0,135.2" fill="none" stroke="#8e807c" stroke-width="0.7" opacity="0.5"/>
<path d="M270.8,59.3 L272.0,60.9 L273.1,62.5 L274.3,64.1 L275.6,65.7 L276.8,67.3 L278.0,68.9" fill="none" stroke="#d2c5c0" stroke-width="0.7" opacity="0.5"/>
<path d="M330.3,70.9 L331.0,72.8 L331.7,74.6 L332.4,76.5 L333.1,78.4 L333.8,80.3 L334.5,82.1 L335.1,84.0" fill="none" stroke="#d2c5c0" stroke-width="0.7" opacity="0.5"/>
<path d="M287.4,126.7 L289.1,127.8 L290.7,129.0 L292.3,130.1 L293.9,131.4 L295.5,132.6 L297.0,133.9" fill="none" stroke="#d2c5c0" stroke-width="0.7" opacity="0.5"/>
<path d="M329.6,83.5 L330.3,85.4 L331.0,87.3 L331.7,89.1 L332.4,91.0 L333.1,92.9 L333.8,94.8 L334.4,96.7 L335.1,98.6 L335.7,100.5 L336.3,102.4" fill="none" stroke="#8e807c" stroke-width="0.7" opacity="0.5"/>
<path d="M291.0,87.8 L292.3,89.4 L293.5,90.9 L294.8,92.4 L296.1,94.0 L297.4,95.5 L298.6,97.1" fill="none" stroke="#9a8985" stroke-width="0.7" opacity="0.5"/>
<path d="M267.2,106.8 L269.0,107.7 L270.8,108.7 L272.5,109.7 L274.2,110.7 L275.9,111.7 L277.6,112.8" fill="none" stroke="#8e807c" stroke-width="0.7" opacity="0.5"/>
<path d="M281.2,55.5 L282.2,57.2 L283.3,58.9 L284.4,60.5 L285.5,62.2 L286.6,63.9" fill="none" stroke="#8e807c" stroke-width="0.7" opacity="0.5"/>
<path d="M302.2,87.8 L303.4,89.5 L304.5,91.1 L305.6,92.8 L306.8,94.4 L307.9,96.1 L309.0,97.8 L310.1,99.5 L311.1,101.1 L312.2,102.8" fill="none" stroke="#8e807c" stroke-width="0.7" opacity="0.5"/>
<path d="M275.6,76.9 L277.0,78.4 L278.3,79.8 L279.7,81.3 L281.0,82.8 L282.4,84.2 L283.8,85.7 L285.1,87.1 L286.5,88.6 L287.8,90.1" fill="none" stroke="#9a8985" stroke-width="0.7" opacity="0.5"/>
<path d="M307.3,98.8 L308.4,100.4 L309.5,102.1 L310.6,103.7 L311.7,105.4 L312.8,107.1 L313.8,108.8" fill="none" stroke="#9a8985" stroke-width="0.7" opacity="0.5"/>
<path d="M298.9,64.8 L299.9,66.5 L300.9,68.3 L301.9,70.0 L303.0,71.7 L304.0,73.4 L305.0,75.1 L306.0,76.9" fill="none" stroke="#8e807c" stroke-width="0.7" opacity="0.5"/>
<path d="M328.3,138.8 L329.0,140.7 L329.8,142.5 L330.5,144.4 L331.1,146.3 L331.8,148.2 L332.4,150.1 L333.0,152.0 L333.6,153.9" fill="none" stroke="#9a8985" stroke-width="0.7" opacity="0.5"/>
<path d="M304.4,78.3 L305.5,80.0 L306.5,81.7 L307.6,83.4 L308.6,85.2 L309.7,86.9" fill="none" stroke="#8e807c" stroke-width="0.7" opacity="0.5"/>
<path d="M273.3,115.1 L275.1,116.0 L276.9,117.0 L278.6,118.0 L280.3,119.0 L282.0,120.1 L283.7,121.2 L285.3,122.3 L287.0,123.4" fill="none" stroke="#d2c5c0" stroke-width="0.7" opacity="0.5"/>
<path d="M301.4,69.0 L302.4,70.7 L303.5,72.4 L304.5,74.1 L305.5,75.8 L306.5,77.6 L307.5,79.3 L308.6,81.0 L309.6,82.7 L310.6,84.5" fill="none" stroke="#9a8985" stroke-width="0.7" opacity="0.5"/>
<path d="M266.8,111.9 L268.6,112.8 L270.4,113.7 L272.2,114.6 L274.0,115.5 L275.7,116.5" fill="none" stroke="#d2c5c0" stroke-width="0.7" opacity="0.5"/>
<path d="M291.1,51.3 L292.1,53.0 L293.1,54.8 L294.0,56.5 L295.0,58.3 L296.0,60.0" fill="none" stroke="#8e807c" stroke-width="0.7" opacity="0.5"/>
<path d="M286.5,106.6 L288.0,107.9 L289.5,109.3 L291.0,110.6 L292.5,112.0" fill="none" stroke="#cabdb8" stroke-width="0.7" opacity="0.5"/>
<path d="M319.1,115.8 L320.0,117.6 L321.0,119.3 L321.9,121.1 L322.8,122.9 L323.7,124.7" fill="none" stroke="#cabdb8" stroke-width="0.7" opacity="0.5"/>
<path d="M270.8,70.7 L272.1,72.2 L273.5,73.7 L274.8,75.2 L276.2,76.7 L277.5,78.1 L278.9,79.6 L280.2,81.1 L281.6,82.6 L282.9,84.0" fill="none" stroke="#9a8985" stroke-width="0.7" opacity="0.5"/>
<path d="M283.9,81.7 L285.2,83.2 L286.5,84.7 L287.9,86.2 L289.2,87.7 L290.5,89.3 L291.8,90.8 L293.1,92.3 L294.4,93.8 L295.7,95.3 L297.0,96.9" fill="none" stroke="#8e807c" stroke-width="0.7" opacity="0.5"/>
<path d="M327.9,59.9 L328.7,61.8 L329.4,63.6 L330.2,65.5 L330.9,67.4 L331.6,69.2 L332.3,71.1" fill="none" stroke="#cabdb8" stroke-width="0.7" opacity="0.5"/>
<path d="M325.3,45.4 L326.0,47.3 L326.8,49.1 L327.5,51.0 L328.3,52.8 L329.0,54.7 L329.8,56.5 L330.5,58.4 L331.3,60.3" fill="none" stroke="#9a8985" stroke-width="0.7" opacity="0.5"/>
<path d="M281.6,124.3 L283.3,125.3 L285.0,126.4 L286.7,127.4 L288.4,128.5 L290.0,129.7 L291.7,130.8" fill="none" stroke="#d2c5c0" stroke-width="0.7" opacity="0.5"/>
<path d="M277.1,54.1 L278.2,55.8 L279.3,57.4 L280.4,59.1 L281.5,60.8 L282.6,62.5 L283.7,64.1 L284.8,65.8 L286.0,67.4 L287.1,69.0 L288.3,70.7" fill="none" stroke="#8e807c" stroke-width="0.7" opacity="0.5"/>
<path d="M312.9,46.9 L313.7,48.7 L314.5,50.5 L315.3,52.4 L316.1,54.2" fill="none" stroke="#8e807c" stroke-width="0.7" opacity="0.5"/>
<path d="M293.9,115.7 L295.3,117.0 L296.8,118.4 L298.2,119.8 L299.6,121.2 L301.0,122.7" fill="none" stroke="#d2c5c0" stroke-width="0.7" opacity="0.5"/>
<path d="M302.1,103.4 L303.3,105.0 L304.5,106.6 L305.7,108.2 L306.9,109.8 L308.1,111.4 L309.3,113.0 L310.5,114.6 L311.6,116.3 L312.7,117.9 L313.8,119.6" fill="none" stroke="#8e807c" stroke-width="0.7" opacity="0.5"/>
<path d="M303.3,111.8 L304.5,113.3 L305.8,114.9 L307.0,116.5 L308.2,118.1 L309.4,119.7" fill="none" stroke="#9a8985" stroke-width="0.7" opacity="0.5"/>
<path d="M310.0,98.2 L311.1,99.9 L312.1,101.6 L313.2,103.3 L314.2,105.0 L315.3,106.7 L316.3,108.5 L317.3,110.2 L318.2,111.9 L319.2,113.7 L320.2,115.4" fill="none" stroke="#d2c5c0" stroke-width="0.7" opacity="0.5"/>
<path d="M321.0,117.5 L322.0,119.3 L322.9,121.1 L323.7,122.9 L324.6,124.7 L325.4,126.5 L326.3,128.3" fill="none" stroke="#d2c5c0" stroke-width="0.7" opacity="0.5"/>
<path d="M323.8,99.2 L324.6,101.0 L325.4,102.8 L326.2,104.6 L327.0,106.5 L327.8,108.3 L328.6,110.2 L329.3,112.0 L330.0,113.9" fill="none" stroke="#8e807c" stroke-width="0.7" opacity="0.5"/>
<path d="M310.7,46.6 L311.6,48.4 L312.4,50.2 L313.2,52.0 L314.1,53.8 L314.9,55.7 L315.7,57.5" fill="none" stroke="#cabdb8" stroke-width="0.7" opacity="0.5"/>
<path d="M315.3,51.3 L316.2,53.1 L317.0,54.9 L317.8,56.7 L318.6,58.6 L319.5,60.4 L320.3,62.2 L321.1,64.0 L321.9,65.9" fill="none" stroke="#9a8985" stroke-width="0.7" opacity="0.5"/>
<path d="M332.1,102.1 L332.7,104.0 L333.4,105.8 L334.0,107.7 L334.7,109.6 L335.3,111.5" fill="none" stroke="#d2c5c0" stroke-width="0.7" opacity="0.5"/>
<path d="M288.4,134.2 L290.1,135.2 L291.7,136.4 L293.4,137.5 L295.0,138.7 L296.6,139.9 L298.1,141.1 L299.7,142.4" fill="none" stroke="#cabdb8" stroke-width="0.7" opacity="0.5"/>
<path d="M311.4,113.9 L312.6,115.6 L313.7,117.2 L314.7,118.9 L315.8,120.6 L316.9,122.3 L317.9,124.0 L318.9,125.8 L319.9,127.5 L320.8,129.3" fill="none" stroke="#9a8985" stroke-width="0.7" opacity="0.5"/>
<path d="M299.1,108.0 L300.5,109.5 L301.8,111.0 L303.0,112.5 L304.3,114.0 L305.6,115.6" fill="none" stroke="#8e807c" stroke-width="0.7" opacity="0.5"/>
<path d="M297.8,61.2 L298.8,62.9 L299.8,64.6 L300.8,66.4 L301.8,68.1 L302.9,69.8 L303.9,71.5 L304.9,73.3 L305.9,75.0 L306.9,76.7 L307.9,78.4" fill="none" stroke="#cabdb8" stroke-width="0.7" opacity="0.5"/>
<path d="M276.6,58.7 L277.8,60.4 L278.9,62.0 L280.1,63.7 L281.2,65.3 L282.4,66.9 L283.6,68.5 L284.7,70.1 L285.9,71.7 L287.1,73.3" fill="none" stroke="#8e807c" stroke-width="0.7" opacity="0.5"/>
<path d="M301.5,67.0 L302.5,68.7 L303.5,70.4 L304.5,72.2 L305.5,73.9" fill="none" stroke="#cabdb8" stroke-width="0.7" opacity="0.5"/>
<path d="M288.3,51.9 L289.2,53.6 L290.2,55.4 L291.2,57.1 L292.2,58.8 L293.2,60.6 L294.3,62.3 L295.3,64.0 L296.3,65.7" fill="none" stroke="#8e807c" stroke-width="0.7" opacity="0.5"/>
<path d="M274.1,110.9 L275.8,111.9 L277.5,112.9 L279.2,114.0 L280.9,115.1 L282.5,116.2 L284.2,117.4 L285.8,118.5 L287.4,119.7" fill="none" stroke="#8e807c" stroke-width="0.7" opacity="0.5"/>
<path d="M312.4,43.6 L313.2,45.4 L314.0,47.2 L314.8,49.1 L315.6,50.9 L316.4,52.7 L317.3,54.5 L318.1,56.4 L318.9,58.2" fill="none" stroke="#8e807c" stroke-width="0.7" opacity="0.5"/>
<path d="M327.9,76.7 L328.6,78.6 L329.4,80.4 L330.1,82.3 L330.8,84.2 L331.5,86.0 L332.2,87.9" fill="none" stroke="#8e807c" stroke-width="0.7" opacity="0.5"/>
<path d="M304.4,66.1 L305.4,67.9 L306.4,69.6 L307.4,71.4 L308.3,73.1 L309.3,74.8 L310.3,76.6 L311.3,78.3 L312.2,80.1" fill="none" stroke="#d2c5c0" stroke-width="0.7" opacity="0.5"/>
<path d="M301.8,116.0 L303.1,117.5 L304.4,119.0 L305.7,120.6 L307.0,122.1 L308.2,123.7" fill="none" stroke="#8e807c" stroke-width="0.7" opacity="0.5"/>
<path d="M305.2,87.3 L306.3,88.9 L307.4,90.6 L308.4,92.3 L309.5,94.0 L310.6,95.7 L311.6,97.4 L312.7,99.1 L313.7,100.8 L314.7,102.5" fill="none" stroke="#8e807c" stroke-width="0.7" opacity="0.5"/>
<path d="M272.6,70.8 L273.9,72.3 L275.2,73.8 L276.6,75.3 L277.9,76.8 L279.2,78.3 L280.5,79.8" fill="none" stroke="#8e807c" stroke-width="0.7" opacity="0.5"/>
<path d="M267.8,129.0 L269.7,129.6 L271.6,130.2 L273.5,130.9 L275.4,131.6 L277.2,132.4 L279.1,133.2" fill="none" stroke="#d2c5c0" stroke-width="0.7" opacity="0.5"/>
<path d="M312.1,86.0 L313.1,87.7 L314.1,89.5 L315.1,91.2 L316.0,93.0" fill="none" stroke="#cabdb8" stroke-width="0.7" opacity="0.5"/>
<path d="M294.9,97.6 L296.2,99.1 L297.5,100.7 L298.8,102.2 L300.1,103.7 L301.3,105.3 L302.6,106.8" fill="none" stroke="#d2c5c0" stroke-width="0.7" opacity="0.5"/>
<path d="M268.0,88.0 L269.5,89.2 L271.1,90.5 L272.6,91.7 L274.2,93.0 L275.7,94.3 L277.3,95.5 L278.8,96.8 L280.4,98.1 L281.9,99.4 L283.4,100.7" fill="none" stroke="#9a8985" stroke-width="0.7" opacity="0.5"/>
<path d="M270.6,111.8 L272.3,112.8 L274.1,113.7 L275.8,114.7 L277.5,115.7 L279.2,116.8 L280.9,117.8 L282.6,118.9 L284.3,120.0 L285.9,121.2 L287.6,122.3" fill="none" stroke="#cabdb8" stroke-width="0.7" opacity="0.5"/>
<path d="M272.2,89.9 L273.8,91.2 L275.3,92.5 L276.8,93.8 L278.3,95.1 L279.9,96.4 L281.4,97.7 L282.9,99.0" fill="none" stroke="#8e807c" stroke-width="0.7" opacity="0.5"/>
<path d="M317.7,73.9 L318.5,75.7 L319.4,77.5 L320.3,79.3 L321.1,81.1 L322.0,82.9 L322.8,84.7" fill="none" stroke="#d2c5c0" stroke-width="0.7" opacity="0.5"/>
<path d="M308.3,103.3 L309.4,104.9 L310.5,106.6 L311.6,108.2 L312.7,109.9 L313.8,111.6 L314.8,113.3 L315.9,115.0 L316.9,116.7 L317.9,118.5 L318.9,120.2" fill="none" stroke="#cabdb8" stroke-width="0.7" opacity="0.5"/>
<path d="M308.9,50.5 L309.7,52.3 L310.6,54.1 L311.4,55.9 L312.3,57.7 L313.1,59.5 L314.0,61.3 L314.9,63.1 L315.7,64.9 L316.6,66.7" fill="none" stroke="#d2c5c0" stroke-width="0.7" opacity="0.5"/>
<path d="M317.0,123.6 L318.0,125.3 L319.1,127.0 L320.0,128.8 L321.0,130.5 L321.9,132.3 L322.9,134.1" fill="none" stroke="#8e807c" stroke-width="0.7" opacity="0.5"/>
<path d="M329.6,93.4 L330.4,95.3 L331.1,97.2 L331.8,99.1 L332.5,100.9 L333.1,102.8 L333.8,104.7 L334.4,106.6 L335.0,108.5 L335.6,110.4 L336.2,112.3" fill="none" stroke="#8e807c" stroke-width="0.7" opacity="0.5"/>
<path d="M271.8,112.0 L273.5,113.0 L275.3,114.0 L277.0,115.0 L278.7,116.0 L280.4,117.1 L282.1,118.1" fill="none" stroke="#cabdb8" stroke-width="0.7" opacity="0.5"/>
<path d="M290.4,105.1 L291.9,106.5 L293.3,107.9 L294.7,109.3 L296.1,110.8 L297.5,112.2 L298.9,113.7" fill="none" stroke="#8e807c" stroke-width="0.7" opacity="0.5"/>
<path d="M289.7,95.9 L291.1,97.4 L292.4,98.8 L293.8,100.3 L295.2,101.8 L296.5,103.2 L297.8,104.7" fill="none" stroke="#cabdb8" stroke-width="0.7" opacity="0.5"/>
<path d="M281.0,47.0 L282.0,48.7 L282.9,50.5 L283.9,52.2 L284.9,53.9 L285.9,55.7 L286.9,57.4 L288.0,59.1" fill="none" stroke="#9a8985" stroke-width="0.7" opacity="0.5"/>
<path d="M325.8,133.7 L326.6,135.5 L327.4,137.4 L328.2,139.2 L329.0,141.1 L329.7,142.9 L330.4,144.8 L331.1,146.7" fill="none" stroke="#9a8985" stroke-width="0.7" opacity="0.5"/>
<path d="M314.1,138.6 L315.2,140.2 L316.4,141.9 L317.5,143.5 L318.5,145.2 L319.6,146.9 L320.6,148.7 L321.6,150.4 L322.5,152.1" fill="none" stroke="#d2c5c0" stroke-width="0.7" opacity="0.5"/>
<path d="M274.4,64.8 L275.7,66.4 L276.9,68.0 L278.1,69.6 L279.4,71.1" fill="none" stroke="#9a8985" stroke-width="0.7" opacity="0.5"/>
<path d="M270.9,46.8 L271.9,48.6 L272.9,50.3 L274.0,52.0 L275.0,53.7 L276.1,55.4 L277.2,57.1 L278.3,58.8" fill="none" stroke="#8e807c" stroke-width="0.7" opacity="0.5"/>
<path d="M279.6,78.8 L280.9,80.2 L282.3,81.7 L283.6,83.2 L284.9,84.7" fill="none" stroke="#9a8985" stroke-width="0.7" opacity="0.5"/>
<path d="M274.5,49.9 L275.6,51.6 L276.6,53.3 L277.6,55.0 L278.7,56.7" fill="none" stroke="#9a8985" stroke-width="0.7" opacity="0.5"/>
<path d="M324.8,49.0 L325.6,50.9 L326.4,52.7 L327.1,54.6 L327.9,56.4" fill="none" stroke="#8e807c" stroke-width="0.7" opacity="0.5"/>
<path d="M325.7,58.8 L326.5,60.6 L327.3,62.5 L328.0,64.3 L328.8,66.2 L329.5,68.0 L330.3,69.9" fill="none" stroke="#9a8985" stroke-width="0.7" opacity="0.5"/>
<path d="M319.0,107.8 L320.0,109.6 L320.9,111.4 L321.8,113.1 L322.7,114.9 L323.6,116.7 L324.4,118.5 L325.3,120.4" fill="none" stroke="#9a8985" stroke-width="0.7" opacity="0.5"/>
<path d="M270.6,74.1 L272.0,75.5 L273.4,77.0 L274.7,78.4 L276.1,79.9 L277.5,81.3 L278.9,82.8 L280.3,84.2" fill="none" stroke="#8e807c" stroke-width="0.7" opacity="0.5"/>
<path d="M330.5,135.3 L331.2,137.2 L331.8,139.1 L332.5,141.0 L333.1,142.9 L333.7,144.8 L334.2,146.7 L334.8,148.6 L335.3,150.6" fill="none" stroke="#d2c5c0" stroke-width="0.7" opacity="0.5"/>
<path d="M313.5,74.8 L314.5,76.6 L315.4,78.4 L316.3,80.2 L317.2,81.9 L318.1,83.7 L319.0,85.5 L319.9,87.3 L320.8,89.1" fill="none" stroke="#9a8985" stroke-width="0.7" opacity="0.5"/>
<path d="M329.0,89.2 L329.8,91.0 L330.5,92.9 L331.2,94.7 L331.9,96.6 L332.6,98.5 L333.2,100.4 L333.9,102.3 L334.5,104.2" fill="none" stroke="#cabdb8" stroke-width="0.7" opacity="0.5"/>
<path d="M323.1,93.9 L324.0,95.7 L324.8,97.6 L325.6,99.4 L326.4,101.2 L327.2,103.1 L328.0,104.9 L328.7,106.8 L329.4,108.6" fill="none" stroke="#8e807c" stroke-width="0.7" opacity="0.5"/>
<path d="M279.9,114.0 L281.5,115.1 L283.2,116.2 L284.8,117.4 L286.5,118.6 L288.1,119.8 L289.6,121.0 L291.2,122.2 L292.8,123.5" fill="none" stroke="#8e807c" stroke-width="0.7" opacity="0.5"/>
<path d="M309.4,78.7 L310.3,80.5 L311.3,82.2 L312.3,83.9 L313.3,85.7 L314.3,87.4 L315.2,89.2 L316.2,90.9 L317.1,92.7" fill="none" stroke="#9a8985" stroke-width="0.7" opacity="0.5"/>
<path d="M289.1,66.1 L290.2,67.7 L291.4,69.4 L292.5,71.0 L293.6,72.7 L294.7,74.3 L295.9,76.0 L297.0,77.6" fill="none" stroke="#cabdb8" stroke-width="0.7" opacity="0.5"/>
<path d="M272.6,60.3 L273.8,61.9 L274.9,63.6 L276.1,65.2 L277.4,66.8 L278.6,68.3 L279.8,69.9 L281.0,71.5 L282.3,73.1 L283.5,74.6 L284.8,76.2" fill="none" stroke="#d2c5c0" stroke-width="0.7" opacity="0.5"/>
<path d="M279.8,123.4 L281.5,124.4 L283.3,125.4 L285.0,126.4 L286.6,127.5 L288.3,128.6 L290.0,129.7 L291.6,130.9 L293.2,132.1" fill="none" stroke="#8e807c" stroke-width="0.7" opacity="0.5"/>
<path d="M300.6,67.1 L301.6,68.9 L302.7,70.6 L303.7,72.3 L304.7,74.0 L305.7,75.8 L306.7,77.5 L307.7,79.2" fill="none" stroke="#9a8985" stroke-width="0.7" opacity="0.5"/>
<path d="M280.1,98.0 L281.7,99.3 L283.2,100.6 L284.7,101.9 L286.2,103.2" fill="none" stroke="#d2c5c0" stroke-width="0.7" opacity="0.5"/>
<path d="M322.2,108.2 L323.1,110.0 L323.9,111.8 L324.8,113.6 L325.6,115.5 L326.4,117.3 L327.2,119.1 L328.0,121.0 L328.7,122.8 L329.5,124.7" fill="none" stroke="#8e807c" stroke-width="0.7" opacity="0.5"/>
<path d="M323.0,95.9 L323.9,97.7 L324.7,99.5 L325.5,101.3 L326.3,103.1 L327.1,105.0 L327.9,106.8 L328.6,108.7 L329.4,110.5 L330.1,112.4" fill="none" stroke="#d2c5c0" stroke-width="0.7" opacity="0.5"/>
<path d="M307.1,135.2 L308.4,136.7 L309.7,138.2 L310.9,139.8 L312.2,141.4 L313.4,143.0 L314.6,144.6 L315.7,146.2" fill="none" stroke="#9a8985" stroke-width="0.7" opacity="0.5"/>
<path d="M320.8,80.6 L321.6,82.4 L322.5,84.3 L323.3,86.1 L324.1,87.9 L324.9,89.7" fill="none" stroke="#8e807c" stroke-width="0.7" opacity="0.5"/>
<path d="M302.8,117.4 L304.1,118.9 L305.4,120.4 L306.7,122.0 L307.9,123.5" fill="none" stroke="#d2c5c0" stroke-width="0.7" opacity="0.5"/>
<path d="M292.1,47.5 L293.0,49.3 L293.9,51.1 L294.9,52.9 L295.8,54.6" fill="none" stroke="#8e807c" stroke-width="0.7" opacity="0.5"/>
<path d="M295.8,54.6 L296.8,56.3 L297.8,58.1 L298.7,59.8 L299.7,61.6" fill="none" stroke="#d2c5c0" stroke-width="0.7" opacity="0.5"/>
<path d="M306.7,126.7 L308.0,128.3 L309.2,129.8 L310.5,131.4 L311.7,133.0 L312.9,134.6 L314.0,136.2 L315.2,137.9" fill="none" stroke="#cabdb8" stroke-width="0.7" opacity="0.5"/>
<path d="M276.2,114.6 L277.9,115.6 L279.6,116.6 L281.3,117.7 L283.0,118.8 L284.7,119.9 L286.3,121.0" fill="none" stroke="#d2c5c0" stroke-width="0.7" opacity="0.5"/>
<path d="M320.5,54.8 L321.3,56.6 L322.1,58.4 L322.9,60.3 L323.6,62.1 L324.4,64.0 L325.2,65.8" fill="none" stroke="#cabdb8" stroke-width="0.7" opacity="0.5"/>
<path d="M313.5,47.2 L314.3,49.0 L315.1,50.8 L315.9,52.7 L316.7,54.5 L317.6,56.3 L318.4,58.1 L319.2,59.9 L320.0,61.8" fill="none" stroke="#d2c5c0" stroke-width="0.7" opacity="0.5"/>
<path d="M288.8,74.4 L290.0,76.0 L291.2,77.6 L292.4,79.2 L293.6,80.8 L294.8,82.4 L296.0,84.0 L297.2,85.7 L298.4,87.3" fill="none" stroke="#d2c5c0" stroke-width="0.7" opacity="0.5"/>
<path d="M327.2,107.8 L327.9,109.7 L328.7,111.5 L329.4,113.4 L330.2,115.2 L330.9,117.1" fill="none" stroke="#8e807c" stroke-width="0.7" opacity="0.5"/>
<path d="M311.6,45.0 L312.4,46.9 L313.2,48.7 L314.1,50.5 L314.9,52.3 L315.7,54.2 L316.5,56.0 L317.4,57.8 L318.2,59.6 L319.0,61.4 L319.8,63.3" fill="none" stroke="#9a8985" stroke-width="0.7" opacity="0.5"/>
<path d="M272.5,45.0 L273.5,46.8 L274.5,48.5 L275.5,50.2 L276.5,52.0" fill="none" stroke="#cabdb8" stroke-width="0.7" opacity="0.5"/>
<path d="M277.4,96.2 L278.9,97.5 L280.4,98.8 L282.0,100.1 L283.5,101.4 L285.0,102.7 L286.5,104.0" fill="none" stroke="#9a8985" stroke-width="0.7" opacity="0.5"/>
<path d="M321.2,99.5 L322.1,101.3 L322.9,103.1 L323.8,104.9 L324.6,106.7 L325.4,108.5" fill="none" stroke="#cabdb8" stroke-width="0.7" opacity="0.5"/>
<path d="M328.8,44.3 L329.5,46.2 L330.2,48.0 L331.0,49.9 L331.7,51.8 L332.4,53.6 L333.2,55.5" fill="none" stroke="#8e807c" stroke-width="0.7" opacity="0.5"/>
<path d="M297.7,89.5 L298.9,91.1 L300.1,92.6 L301.3,94.2 L302.5,95.9" fill="none" stroke="#d2c5c0" stroke-width="0.7" opacity="0.5"/>
<path d="M269.9,102.6 L271.6,103.6 L273.3,104.7 L275.0,105.8 L276.6,106.9 L278.3,108.0 L279.9,109.2 L281.5,110.4 L283.2,111.5" fill="none" stroke="#9a8985" stroke-width="0.7" opacity="0.5"/>
<path d="M321.6,135.9 L322.6,137.7 L323.5,139.4 L324.4,141.2 L325.2,143.0 L326.1,144.8 L326.9,146.7 L327.7,148.5 L328.4,150.3" fill="none" stroke="#9a8985" stroke-width="0.7" opacity="0.5"/>
<path d="M291.4,126.8 L293.0,128.0 L294.5,129.3 L296.1,130.6 L297.6,131.9 L299.1,133.2 L300.6,134.5 L302.0,135.9 L303.4,137.3" fill="none" stroke="#d2c5c0" stroke-width="0.7" opacity="0.5"/>
<path d="M289.2,93.7 L290.6,95.2 L291.9,96.6 L293.3,98.1 L294.6,99.6 L295.9,101.1 L297.3,102.6" fill="none" stroke="#8e807c" stroke-width="0.7" opacity="0.5"/>
<path d="M304.6,47.2 L305.4,49.0 L306.3,50.8 L307.1,52.6 L308.0,54.4 L308.9,56.2" fill="none" stroke="#cabdb8" stroke-width="0.7" opacity="0.5"/>
<path d="M313.8,74.8 L314.8,76.6 L315.7,78.4 L316.6,80.1 L317.5,81.9 L318.4,83.7 L319.3,85.5 L320.2,87.3" fill="none" stroke="#cabdb8" stroke-width="0.7" opacity="0.5"/>
<path d="M286.1,75.2 L287.3,76.8 L288.5,78.4 L289.8,79.9 L291.0,81.5 L292.2,83.1 L293.5,84.7 L294.7,86.2" fill="none" stroke="#8e807c" stroke-width="0.7" opacity="0.5"/>
<path d="M266.3,87.1 L267.9,88.3 L269.4,89.6 L271.0,90.8 L272.5,92.1 L274.1,93.3 L275.7,94.6 L277.2,95.9 L278.7,97.1 L280.3,98.4 L281.8,99.7" fill="none" stroke="#d2c5c0" stroke-width="0.7" opacity="0.5"/>
<path d="M307.4,112.8 L308.6,114.4 L309.7,116.0 L310.9,117.6 L312.0,119.3 L313.2,120.9" fill="none" stroke="#9a8985" stroke-width="0.7" opacity="0.5"/>
<path d="M283.3,91.0 L284.7,92.4 L286.1,93.8 L287.5,95.3 L288.9,96.7 L290.3,98.1" fill="none" stroke="#8e807c" stroke-width="0.7" opacity="0.5"/>
<path d="M331.7,46.3 L332.4,48.1 L333.1,50.0 L333.9,51.9 L334.6,53.7 L335.3,55.6 L336.0,57.5 L336.7,59.3" fill="none" stroke="#d2c5c0" stroke-width="0.7" opacity="0.5"/>
<path d="M323.6,117.3 L324.5,119.1 L325.3,121.0 L326.1,122.8 L326.9,124.6 L327.7,126.5 L328.5,128.3 L329.2,130.2 L329.9,132.0" fill="none" stroke="#d2c5c0" stroke-width="0.7" opacity="0.5"/>
<path d="M289.3,70.0 L290.5,71.7 L291.6,73.3 L292.8,74.9 L293.9,76.6 L295.1,78.2 L296.2,79.8 L297.4,81.5 L298.6,83.1 L299.7,84.7" fill="none" stroke="#8e807c" stroke-width="0.7" opacity="0.5"/>
<path d="M310.8,72.2 L311.7,73.9 L312.6,75.7 L313.6,77.5 L314.5,79.2 L315.4,81.0 L316.4,82.8 L317.3,84.6 L318.2,86.4 L319.1,88.1" fill="none" stroke="#cabdb8" stroke-width="0.7" opacity="0.5"/>
<path d="M299.1,104.0 L300.4,105.5 L301.7,107.0 L303.0,108.6 L304.2,110.2 L305.5,111.7 L306.7,113.3" fill="none" stroke="#9a8985" stroke-width="0.7" opacity="0.5"/>
<path d="M287.4,110.6 L288.9,111.9 L290.5,113.2 L292.0,114.5 L293.4,115.9 L294.9,117.2 L296.4,118.6 L297.8,120.0 L299.2,121.4" fill="none" stroke="#9a8985" stroke-width="0.7" opacity="0.5"/>
<path d="M298.8,128.8 L300.3,130.2 L301.7,131.6 L303.1,133.0 L304.5,134.5 L305.9,135.9 L307.2,137.4 L308.5,138.9 L309.8,140.4 L311.1,142.0" fill="none" stroke="#cabdb8" stroke-width="0.7" opacity="0.5"/>
<ellipse cx="277.8" cy="56.6" rx="1.7" ry="0.5" transform="rotate(65 277.8 56.6)" fill="#4b90a6" opacity="0.72"/>
<ellipse cx="292.9" cy="71.1" rx="1.9" ry="0.5" transform="rotate(61 292.9 71.1)" fill="#4b90a6" opacity="0.72"/>
<ellipse cx="303.7" cy="52.8" rx="1.3" ry="0.5" transform="rotate(68 303.7 52.8)" fill="#4b90a6" opacity="0.72"/>
<ellipse cx="302.8" cy="96.1" rx="1.1" ry="0.5" transform="rotate(63 302.8 96.1)" fill="#4b90a6" opacity="0.72"/>
<ellipse cx="280.2" cy="125.9" rx="1.3" ry="0.5" transform="rotate(31 280.2 125.9)" fill="#4b90a6" opacity="0.72"/>
<ellipse cx="289.9" cy="77.4" rx="1.7" ry="0.5" transform="rotate(62 289.9 77.4)" fill="#4b90a6" opacity="0.72"/>
<ellipse cx="311.7" cy="125.5" rx="1.3" ry="0.5" transform="rotate(61 311.7 125.5)" fill="#4b90a6" opacity="0.72"/>
<ellipse cx="279.3" cy="122.7" rx="1.8" ry="0.5" transform="rotate(30 279.3 122.7)" fill="#4b90a6" opacity="0.72"/>
<ellipse cx="306.0" cy="58.7" rx="1.0" ry="0.5" transform="rotate(53 306.0 58.7)" fill="#4b90a6" opacity="0.72"/>
<ellipse cx="295.5" cy="122.1" rx="1.5" ry="0.5" transform="rotate(38 295.5 122.1)" fill="#4b90a6" opacity="0.72"/>
<ellipse cx="274.8" cy="59.1" rx="1.1" ry="0.5" transform="rotate(46 274.8 59.1)" fill="#4b90a6" opacity="0.72"/>
<ellipse cx="271.8" cy="49.3" rx="1.6" ry="0.5" transform="rotate(66 271.8 49.3)" fill="#4b90a6" opacity="0.72"/>
<ellipse cx="311.5" cy="47.1" rx="1.6" ry="0.5" transform="rotate(61 311.5 47.1)" fill="#4b90a6" opacity="0.72"/>
<ellipse cx="269.8" cy="65.1" rx="1.3" ry="0.5" transform="rotate(42 269.8 65.1)" fill="#4b90a6" opacity="0.72"/>
<ellipse cx="320.4" cy="47.6" rx="1.6" ry="0.5" transform="rotate(67 320.4 47.6)" fill="#4b90a6" opacity="0.72"/>
<ellipse cx="316.4" cy="54.6" rx="1.8" ry="0.5" transform="rotate(73 316.4 54.6)" fill="#4b90a6" opacity="0.72"/>
<ellipse cx="274.1" cy="91.3" rx="2.0" ry="0.5" transform="rotate(46 274.1 91.3)" fill="#4b90a6" opacity="0.72"/>
<ellipse cx="292.6" cy="127.7" rx="1.0" ry="0.5" transform="rotate(46 292.6 127.7)" fill="#4b90a6" opacity="0.72"/>
<ellipse cx="287.7" cy="95.6" rx="1.4" ry="0.5" transform="rotate(42 287.7 95.6)" fill="#4b90a6" opacity="0.72"/>
<ellipse cx="311.0" cy="115.4" rx="1.0" ry="0.5" transform="rotate(49 311.0 115.4)" fill="#4b90a6" opacity="0.72"/>
<ellipse cx="281.4" cy="83.1" rx="1.4" ry="0.5" transform="rotate(54 281.4 83.1)" fill="#4b90a6" opacity="0.72"/>
<ellipse cx="290.4" cy="66.8" rx="1.9" ry="0.5" transform="rotate(60 290.4 66.8)" fill="#4b90a6" opacity="0.72"/>
<ellipse cx="278.0" cy="132.7" rx="1.2" ry="0.5" transform="rotate(26 278.0 132.7)" fill="#4b90a6" opacity="0.72"/>
<ellipse cx="305.6" cy="112.9" rx="1.0" ry="0.5" transform="rotate(52 305.6 112.9)" fill="#4b90a6" opacity="0.72"/>
<ellipse cx="307.3" cy="95.3" rx="1.7" ry="0.5" transform="rotate(57 307.3 95.3)" fill="#4b90a6" opacity="0.72"/>
<ellipse cx="302.1" cy="68.2" rx="1.3" ry="0.5" transform="rotate(60 302.1 68.2)" fill="#4b90a6" opacity="0.72"/>
<ellipse cx="283.9" cy="85.9" rx="1.8" ry="0.5" transform="rotate(39 283.9 85.9)" fill="#4b90a6" opacity="0.72"/>
<ellipse cx="326.8" cy="53.2" rx="1.4" ry="0.5" transform="rotate(70 326.8 53.2)" fill="#4b90a6" opacity="0.72"/>
<ellipse cx="327.0" cy="127.3" rx="1.1" ry="0.5" transform="rotate(69 327.0 127.3)" fill="#4b90a6" opacity="0.72"/>
<ellipse cx="301.1" cy="56.6" rx="1.3" ry="0.5" transform="rotate(68 301.1 56.6)" fill="#4b90a6" opacity="0.72"/>
<ellipse cx="304.8" cy="104.5" rx="1.9" ry="0.5" transform="rotate(61 304.8 104.5)" fill="#4b90a6" opacity="0.72"/>
<ellipse cx="319.6" cy="109.0" rx="1.4" ry="0.5" transform="rotate(63 319.6 109.0)" fill="#4b90a6" opacity="0.72"/>
<ellipse cx="311.0" cy="75.0" rx="1.2" ry="0.5" transform="rotate(69 311.0 75.0)" fill="#4b90a6" opacity="0.72"/>
<ellipse cx="323.0" cy="123.1" rx="1.2" ry="0.5" transform="rotate(62 323.0 123.1)" fill="#4b90a6" opacity="0.72"/>
<ellipse cx="315.7" cy="47.5" rx="1.0" ry="0.5" transform="rotate(69 315.7 47.5)" fill="#4b90a6" opacity="0.72"/>
<ellipse cx="316.7" cy="124.5" rx="1.4" ry="0.5" transform="rotate(62 316.7 124.5)" fill="#4b90a6" opacity="0.72"/>
<ellipse cx="282.4" cy="69.4" rx="1.4" ry="0.5" transform="rotate(61 282.4 69.4)" fill="#4b90a6" opacity="0.72"/>
<ellipse cx="307.9" cy="118.3" rx="1.0" ry="0.5" transform="rotate(43 307.9 118.3)" fill="#4b90a6" opacity="0.72"/>
<ellipse cx="311.0" cy="59.1" rx="1.3" ry="0.5" transform="rotate(61 311.0 59.1)" fill="#4b90a6" opacity="0.72"/>
<ellipse cx="294.1" cy="61.7" rx="1.5" ry="0.5" transform="rotate(67 294.1 61.7)" fill="#4b90a6" opacity="0.72"/>
<ellipse cx="327.1" cy="110.4" rx="1.9" ry="0.5" transform="rotate(67 327.1 110.4)" fill="#4b90a6" opacity="0.72"/>
<ellipse cx="314.5" cy="129.4" rx="1.3" ry="0.5" transform="rotate(49 314.5 129.4)" fill="#4b90a6" opacity="0.72"/>
<ellipse cx="274.1" cy="47.0" rx="1.2" ry="0.5" transform="rotate(68 274.1 47.0)" fill="#4b90a6" opacity="0.72"/>
<ellipse cx="287.9" cy="91.1" rx="1.2" ry="0.5" transform="rotate(56 287.9 91.1)" fill="#4b90a6" opacity="0.72"/>
<ellipse cx="272.0" cy="109.4" rx="1.7" ry="0.5" transform="rotate(37 272.0 109.4)" fill="#4b90a6" opacity="0.72"/>
<ellipse cx="271.6" cy="108.5" rx="1.4" ry="0.5" transform="rotate(29 271.6 108.5)" fill="#4b90a6" opacity="0.72"/>
<ellipse cx="277.2" cy="127.2" rx="1.8" ry="0.5" transform="rotate(30 277.2 127.2)" fill="#4b90a6" opacity="0.72"/>
<ellipse cx="277.9" cy="124.4" rx="1.3" ry="0.5" transform="rotate(20 277.9 124.4)" fill="#4b90a6" opacity="0.72"/>
<ellipse cx="298.7" cy="67.4" rx="1.5" ry="0.5" transform="rotate(64 298.7 67.4)" fill="#4b90a6" opacity="0.72"/>
<ellipse cx="292.5" cy="72.6" rx="1.7" ry="0.5" transform="rotate(58 292.5 72.6)" fill="#4b90a6" opacity="0.72"/>
<ellipse cx="292.4" cy="66.1" rx="1.6" ry="0.5" transform="rotate(65 292.4 66.1)" fill="#4b90a6" opacity="0.72"/>
<ellipse cx="280.8" cy="92.8" rx="1.1" ry="0.5" transform="rotate(33 280.8 92.8)" fill="#4b90a6" opacity="0.72"/>
<ellipse cx="304.2" cy="87.5" rx="1.7" ry="0.5" transform="rotate(60 304.2 87.5)" fill="#4b90a6" opacity="0.72"/>
<ellipse cx="271.8" cy="122.2" rx="1.1" ry="0.5" transform="rotate(15 271.8 122.2)" fill="#4b90a6" opacity="0.72"/>
<ellipse cx="325.7" cy="131.4" rx="1.0" ry="0.5" transform="rotate(66 325.7 131.4)" fill="#4b90a6" opacity="0.72"/>
<ellipse cx="282.2" cy="84.2" rx="1.5" ry="0.5" transform="rotate(50 282.2 84.2)" fill="#4b90a6" opacity="0.72"/>
<ellipse cx="327.8" cy="83.2" rx="2.0" ry="0.5" transform="rotate(75 327.8 83.2)" fill="#4b90a6" opacity="0.72"/>
<ellipse cx="273.5" cy="131.4" rx="2.0" ry="0.5" transform="rotate(28 273.5 131.4)" fill="#4b90a6" opacity="0.72"/>
<ellipse cx="282.2" cy="49.2" rx="1.0" ry="0.5" transform="rotate(65 282.2 49.2)" fill="#4b90a6" opacity="0.72"/>
<ellipse cx="284.9" cy="130.9" rx="1.0" ry="0.5" transform="rotate(25 284.9 130.9)" fill="#4b90a6" opacity="0.72"/>
<ellipse cx="315.7" cy="129.1" rx="1.3" ry="0.5" transform="rotate(53 315.7 129.1)" fill="#4b90a6" opacity="0.72"/>
<ellipse cx="271.4" cy="76.1" rx="1.3" ry="0.5" transform="rotate(42 271.4 76.1)" fill="#4b90a6" opacity="0.72"/>
<ellipse cx="293.2" cy="134.2" rx="1.3" ry="0.5" transform="rotate(42 293.2 134.2)" fill="#4b90a6" opacity="0.72"/>
<ellipse cx="293.9" cy="84.1" rx="1.2" ry="0.5" transform="rotate(50 293.9 84.1)" fill="#4b90a6" opacity="0.72"/>
<ellipse cx="314.0" cy="120.8" rx="1.9" ry="0.5" transform="rotate(63 314.0 120.8)" fill="#4b90a6" opacity="0.72"/>
<ellipse cx="306.6" cy="58.9" rx="2.0" ry="0.5" transform="rotate(63 306.6 58.9)" fill="#4b90a6" opacity="0.72"/>
<ellipse cx="310.0" cy="103.6" rx="1.8" ry="0.5" transform="rotate(66 310.0 103.6)" fill="#4b90a6" opacity="0.72"/>
<ellipse cx="308.2" cy="49.9" rx="1.0" ry="0.5" transform="rotate(67 308.2 49.9)" fill="#4b90a6" opacity="0.72"/>
<ellipse cx="311.4" cy="71.9" rx="1.7" ry="0.5" transform="rotate(63 311.4 71.9)" fill="#4b90a6" opacity="0.72"/>
<ellipse cx="295.1" cy="97.0" rx="1.6" ry="0.5" transform="rotate(48 295.1 97.0)" fill="#4b90a6" opacity="0.72"/>
<ellipse cx="297.0" cy="94.9" rx="1.3" ry="0.5" transform="rotate(50 297.0 94.9)" fill="#4b90a6" opacity="0.72"/>
<ellipse cx="301.3" cy="69.7" rx="1.8" ry="0.5" transform="rotate(66 301.3 69.7)" fill="#4b90a6" opacity="0.72"/>
<ellipse cx="320.5" cy="67.7" rx="2.0" ry="0.5" transform="rotate(57 320.5 67.7)" fill="#4b90a6" opacity="0.72"/>
<ellipse cx="284.7" cy="96.1" rx="1.1" ry="0.5" transform="rotate(50 284.7 96.1)" fill="#4b90a6" opacity="0.72"/>
<ellipse cx="316.2" cy="96.6" rx="1.8" ry="0.5" transform="rotate(70 316.2 96.6)" fill="#4b90a6" opacity="0.72"/>
<ellipse cx="284.5" cy="116.1" rx="1.3" ry="0.5" transform="rotate(43 284.5 116.1)" fill="#4b90a6" opacity="0.72"/>
<ellipse cx="303.9" cy="87.1" rx="1.1" ry="0.5" transform="rotate(66 303.9 87.1)" fill="#4b90a6" opacity="0.72"/>
<ellipse cx="313.8" cy="68.4" rx="1.2" ry="0.5" transform="rotate(57 313.8 68.4)" fill="#4b90a6" opacity="0.72"/>
<ellipse cx="290.6" cy="97.6" rx="1.7" ry="0.5" transform="rotate(40 290.6 97.6)" fill="#4b90a6" opacity="0.72"/>
<ellipse cx="279.4" cy="128.6" rx="1.7" ry="0.5" transform="rotate(34 279.4 128.6)" fill="#4b90a6" opacity="0.72"/>
<ellipse cx="322.9" cy="65.0" rx="1.9" ry="0.5" transform="rotate(64 322.9 65.0)" fill="#4b90a6" opacity="0.72"/>
<ellipse cx="294.3" cy="72.3" rx="1.4" ry="0.5" transform="rotate(60 294.3 72.3)" fill="#4b90a6" opacity="0.72"/>
<ellipse cx="290.5" cy="96.5" rx="1.3" ry="0.5" transform="rotate(47 290.5 96.5)" fill="#4b90a6" opacity="0.72"/>
<ellipse cx="308.2" cy="61.4" rx="1.4" ry="0.5" transform="rotate(59 308.2 61.4)" fill="#4b90a6" opacity="0.72"/>
<ellipse cx="275.5" cy="93.6" rx="1.2" ry="0.5" transform="rotate(44 275.5 93.6)" fill="#4b90a6" opacity="0.72"/>
<ellipse cx="299.6" cy="47.1" rx="1.5" ry="0.5" transform="rotate(57 299.6 47.1)" fill="#4b90a6" opacity="0.72"/>
<ellipse cx="308.1" cy="92.3" rx="1.8" ry="0.5" transform="rotate(58 308.1 92.3)" fill="#4b90a6" opacity="0.72"/>
<ellipse cx="283.9" cy="85.7" rx="1.3" ry="0.5" transform="rotate(37 283.9 85.7)" fill="#4b90a6" opacity="0.72"/>
<ellipse cx="303.9" cy="63.8" rx="1.9" ry="0.5" transform="rotate(62 303.9 63.8)" fill="#4b90a6" opacity="0.72"/>
<ellipse cx="284.1" cy="60.7" rx="1.5" ry="0.5" transform="rotate(56 284.1 60.7)" fill="#4b90a6" opacity="0.72"/>
<ellipse cx="298.2" cy="50.0" rx="2.0" ry="0.5" transform="rotate(56 298.2 50.0)" fill="#4b90a6" opacity="0.72"/>
<ellipse cx="286.1" cy="109.3" rx="1.7" ry="0.5" transform="rotate(48 286.1 109.3)" fill="#4b90a6" opacity="0.72"/>
<ellipse cx="291.2" cy="48.0" rx="2.0" ry="0.5" transform="rotate(68 291.2 48.0)" fill="#4b90a6" opacity="0.72"/>
<ellipse cx="294.5" cy="90.8" rx="1.2" ry="0.5" transform="rotate(46 294.5 90.8)" fill="#4b90a6" opacity="0.72"/>
<ellipse cx="319.3" cy="52.0" rx="2.0" ry="0.5" transform="rotate(69 319.3 52.0)" fill="#4b90a6" opacity="0.72"/>
<ellipse cx="319.4" cy="88.1" rx="1.2" ry="0.5" transform="rotate(55 319.4 88.1)" fill="#4b90a6" opacity="0.72"/>
<ellipse cx="319.9" cy="49.6" rx="1.4" ry="0.5" transform="rotate(66 319.9 49.6)" fill="#4b90a6" opacity="0.72"/>
<ellipse cx="293.5" cy="127.2" rx="1.8" ry="0.5" transform="rotate(42 293.5 127.2)" fill="#4b90a6" opacity="0.72"/>
<ellipse cx="275.3" cy="86.4" rx="1.7" ry="0.5" transform="rotate(52 275.3 86.4)" fill="#4b90a6" opacity="0.72"/>
<ellipse cx="294.8" cy="134.4" rx="1.1" ry="0.5" transform="rotate(32 294.8 134.4)" fill="#4b90a6" opacity="0.72"/>
<ellipse cx="292.5" cy="52.3" rx="1.0" ry="0.5" transform="rotate(67 292.5 52.3)" fill="#4b90a6" opacity="0.72"/>
<ellipse cx="282.7" cy="56.3" rx="1.9" ry="0.5" transform="rotate(59 282.7 56.3)" fill="#4b90a6" opacity="0.72"/>
<ellipse cx="286.3" cy="65.7" rx="1.5" ry="0.5" transform="rotate(53 286.3 65.7)" fill="#4b90a6" opacity="0.72"/>
<ellipse cx="274.2" cy="116.8" rx="1.0" ry="0.5" transform="rotate(30 274.2 116.8)" fill="#4b90a6" opacity="0.72"/>
<ellipse cx="298.4" cy="116.9" rx="1.5" ry="0.5" transform="rotate(40 298.4 116.9)" fill="#4b90a6" opacity="0.72"/>
<ellipse cx="317.8" cy="56.2" rx="1.9" ry="0.5" transform="rotate(62 317.8 56.2)" fill="#4b90a6" opacity="0.72"/>
<ellipse cx="301.5" cy="105.6" rx="1.1" ry="0.5" transform="rotate(58 301.5 105.6)" fill="#4b90a6" opacity="0.72"/>
<ellipse cx="293.0" cy="48.3" rx="1.3" ry="0.5" transform="rotate(65 293.0 48.3)" fill="#4b90a6" opacity="0.72"/>
<ellipse cx="280.2" cy="132.8" rx="1.5" ry="0.5" transform="rotate(20 280.2 132.8)" fill="#4b90a6" opacity="0.72"/>
<ellipse cx="299.7" cy="49.9" rx="1.7" ry="0.5" transform="rotate(61 299.7 49.9)" fill="#4b90a6" opacity="0.72"/>
<ellipse cx="286.6" cy="71.0" rx="1.7" ry="0.5" transform="rotate(62 286.6 71.0)" fill="#4b90a6" opacity="0.72"/>
<ellipse cx="287.1" cy="59.5" rx="1.4" ry="0.5" transform="rotate(56 287.1 59.5)" fill="#4b90a6" opacity="0.72"/>
<ellipse cx="300.9" cy="63.7" rx="1.2" ry="0.5" transform="rotate(53 300.9 63.7)" fill="#4b90a6" opacity="0.72"/>
<ellipse cx="307.6" cy="126.8" rx="1.7" ry="0.5" transform="rotate(54 307.6 126.8)" fill="#4b90a6" opacity="0.72"/>
<ellipse cx="277.3" cy="126.6" rx="1.5" ry="0.5" transform="rotate(23 277.3 126.6)" fill="#4b90a6" opacity="0.72"/>
<ellipse cx="310.8" cy="96.6" rx="1.0" ry="0.5" transform="rotate(63 310.8 96.6)" fill="#4b90a6" opacity="0.72"/>
<ellipse cx="272.9" cy="129.1" rx="1.0" ry="0.5" transform="rotate(28 272.9 129.1)" fill="#4b90a6" opacity="0.72"/>
<ellipse cx="281.9" cy="74.8" rx="1.2" ry="0.5" transform="rotate(45 281.9 74.8)" fill="#4b90a6" opacity="0.72"/>
<ellipse cx="326.6" cy="91.1" rx="1.7" ry="0.5" transform="rotate(65 326.6 91.1)" fill="#4b90a6" opacity="0.72"/>
<ellipse cx="281.0" cy="56.5" rx="1.9" ry="0.5" transform="rotate(51 281.0 56.5)" fill="#4b90a6" opacity="0.72"/>
<ellipse cx="276.3" cy="52.4" rx="1.8" ry="0.5" transform="rotate(66 276.3 52.4)" fill="#4b90a6" opacity="0.72"/>
<ellipse cx="298.4" cy="47.2" rx="1.7" ry="0.5" transform="rotate(68 298.4 47.2)" fill="#4b90a6" opacity="0.72"/>
<ellipse cx="278.6" cy="57.6" rx="1.7" ry="0.5" transform="rotate(61 278.6 57.6)" fill="#4b90a6" opacity="0.72"/>
<ellipse cx="316.5" cy="83.6" rx="1.8" ry="0.5" transform="rotate(56 316.5 83.6)" fill="#4b90a6" opacity="0.72"/>
<ellipse cx="311.3" cy="81.9" rx="1.2" ry="0.5" transform="rotate(60 311.3 81.9)" fill="#4b90a6" opacity="0.72"/>
<ellipse cx="274.3" cy="48.3" rx="1.8" ry="0.5" transform="rotate(55 274.3 48.3)" fill="#4b90a6" opacity="0.72"/>
<ellipse cx="310.8" cy="75.1" rx="1.9" ry="0.5" transform="rotate(60 310.8 75.1)" fill="#4b90a6" opacity="0.72"/>
<ellipse cx="323.7" cy="52.2" rx="1.4" ry="0.5" transform="rotate(60 323.7 52.2)" fill="#4b90a6" opacity="0.72"/>
<ellipse cx="313.9" cy="120.0" rx="1.7" ry="0.5" transform="rotate(63 313.9 120.0)" fill="#4b90a6" opacity="0.72"/>
<ellipse cx="311.6" cy="64.0" rx="1.5" ry="0.5" transform="rotate(58 311.6 64.0)" fill="#4b90a6" opacity="0.72"/>
<ellipse cx="281.6" cy="128.4" rx="1.2" ry="0.5" transform="rotate(32 281.6 128.4)" fill="#4b90a6" opacity="0.72"/>
<ellipse cx="326.7" cy="65.4" rx="1.3" ry="0.5" transform="rotate(61 326.7 65.4)" fill="#4b90a6" opacity="0.72"/>
<ellipse cx="307.7" cy="99.8" rx="1.1" ry="0.5" transform="rotate(50 307.7 99.8)" fill="#4b90a6" opacity="0.72"/>
<ellipse cx="279.8" cy="65.9" rx="1.0" ry="0.5" transform="rotate(52 279.8 65.9)" fill="#4b90a6" opacity="0.72"/>
<ellipse cx="289.8" cy="95.9" rx="1.7" ry="0.5" transform="rotate(41 289.8 95.9)" fill="#4b90a6" opacity="0.72"/>
<ellipse cx="300.0" cy="49.3" rx="1.0" ry="0.5" transform="rotate(63 300.0 49.3)" fill="#4b90a6" opacity="0.72"/>
<ellipse cx="315.2" cy="121.7" rx="1.2" ry="0.5" transform="rotate(66 315.2 121.7)" fill="#4b90a6" opacity="0.72"/>
<ellipse cx="285.5" cy="63.5" rx="1.8" ry="0.5" transform="rotate(58 285.5 63.5)" fill="#4b90a6" opacity="0.72"/>
<ellipse cx="280.8" cy="77.6" rx="1.8" ry="0.5" transform="rotate(54 280.8 77.6)" fill="#4b90a6" opacity="0.72"/>
<ellipse cx="322.5" cy="87.9" rx="1.6" ry="0.5" transform="rotate(61 322.5 87.9)" fill="#4b90a6" opacity="0.72"/>
<ellipse cx="274.9" cy="47.0" rx="1.2" ry="0.5" transform="rotate(55 274.9 47.0)" fill="#4b90a6" opacity="0.72"/>
<ellipse cx="286.7" cy="54.5" rx="1.5" ry="0.5" transform="rotate(57 286.7 54.5)" fill="#4b90a6" opacity="0.72"/>
<ellipse cx="288.4" cy="68.4" rx="1.8" ry="0.5" transform="rotate(47 288.4 68.4)" fill="#4b90a6" opacity="0.72"/>
<ellipse cx="316.9" cy="103.0" rx="1.7" ry="0.5" transform="rotate(60 316.9 103.0)" fill="#4b90a6" opacity="0.72"/>
<ellipse cx="275.6" cy="53.8" rx="1.0" ry="0.5" transform="rotate(56 275.6 53.8)" fill="#4b90a6" opacity="0.72"/>
<ellipse cx="271.2" cy="88.0" rx="1.7" ry="0.5" transform="rotate(38 271.2 88.0)" fill="#4b90a6" opacity="0.72"/>
<ellipse cx="293.5" cy="115.6" rx="1.7" ry="0.5" transform="rotate(34 293.5 115.6)" fill="#4b90a6" opacity="0.72"/>
<ellipse cx="312.4" cy="68.0" rx="1.1" ry="0.5" transform="rotate(66 312.4 68.0)" fill="#4b90a6" opacity="0.72"/>
<ellipse cx="269.2" cy="94.6" rx="1.3" ry="0.5" transform="rotate(43 269.2 94.6)" fill="#4b90a6" opacity="0.72"/>
<ellipse cx="284.4" cy="50.8" rx="1.2" ry="0.5" transform="rotate(55 284.4 50.8)" fill="#4b90a6" opacity="0.72"/>
<ellipse cx="284.9" cy="84.2" rx="1.2" ry="0.5" transform="rotate(45 284.9 84.2)" fill="#4b90a6" opacity="0.72"/>
<ellipse cx="302.6" cy="48.0" rx="1.9" ry="0.5" transform="rotate(59 302.6 48.0)" fill="#4b90a6" opacity="0.72"/>
<ellipse cx="285.7" cy="85.6" rx="1.9" ry="0.5" transform="rotate(58 285.7 85.6)" fill="#4b90a6" opacity="0.72"/>
<ellipse cx="312.0" cy="83.6" rx="1.1" ry="0.5" transform="rotate(55 312.0 83.6)" fill="#4b90a6" opacity="0.72"/>
<ellipse cx="275.2" cy="48.5" rx="1.7" ry="0.5" transform="rotate(66 275.2 48.5)" fill="#4b90a6" opacity="0.72"/>
<ellipse cx="281.4" cy="105.1" rx="1.2" ry="0.5" transform="rotate(30 281.4 105.1)" fill="#4b90a6" opacity="0.72"/>
<ellipse cx="318.8" cy="134.8" rx="1.6" ry="0.5" transform="rotate(58 318.8 134.8)" fill="#4b90a6" opacity="0.72"/>
<ellipse cx="275.4" cy="87.0" rx="1.7" ry="0.5" transform="rotate(35 275.4 87.0)" fill="#4b90a6" opacity="0.72"/>
<ellipse cx="281.8" cy="59.2" rx="1.5" ry="0.5" transform="rotate(62 281.8 59.2)" fill="#4b90a6" opacity="0.72"/>
<ellipse cx="317.5" cy="113.8" rx="1.3" ry="0.5" transform="rotate(52 317.5 113.8)" fill="#4b90a6" opacity="0.72"/>
<ellipse cx="274.7" cy="57.2" rx="1.2" ry="0.5" transform="rotate(62 274.7 57.2)" fill="#4b90a6" opacity="0.72"/>
<ellipse cx="286.9" cy="49.7" rx="1.6" ry="0.5" transform="rotate(67 286.9 49.7)" fill="#4b90a6" opacity="0.72"/>
<ellipse cx="279.7" cy="64.7" rx="1.8" ry="0.5" transform="rotate(63 279.7 64.7)" fill="#4b90a6" opacity="0.72"/>
<ellipse cx="270.8" cy="110.1" rx="1.5" ry="0.5" transform="rotate(22 270.8 110.1)" fill="#4b90a6" opacity="0.72"/>
<ellipse cx="278.8" cy="111.1" rx="1.2" ry="0.5" transform="rotate(39 278.8 111.1)" fill="#4b90a6" opacity="0.72"/>
<ellipse cx="323.7" cy="98.9" rx="1.1" ry="0.5" transform="rotate(70 323.7 98.9)" fill="#4b90a6" opacity="0.72"/>
<ellipse cx="269.1" cy="120.7" rx="1.5" ry="0.5" transform="rotate(13 269.1 120.7)" fill="#4b90a6" opacity="0.72"/>
<ellipse cx="288.5" cy="49.1" rx="1.1" ry="0.5" transform="rotate(64 288.5 49.1)" fill="#4b90a6" opacity="0.72"/>
<ellipse cx="320.3" cy="48.3" rx="1.4" ry="0.5" transform="rotate(64 320.3 48.3)" fill="#4b90a6" opacity="0.72"/>
<ellipse cx="307.5" cy="131.5" rx="1.8" ry="0.5" transform="rotate(52 307.5 131.5)" fill="#4b90a6" opacity="0.72"/>
<ellipse cx="298.1" cy="108.3" rx="1.3" ry="0.5" transform="rotate(48 298.1 108.3)" fill="#4b90a6" opacity="0.72"/>
<ellipse cx="310.0" cy="63.5" rx="1.5" ry="0.5" transform="rotate(54 310.0 63.5)" fill="#4b90a6" opacity="0.72"/>
<ellipse cx="315.7" cy="98.3" rx="1.4" ry="0.5" transform="rotate(54 315.7 98.3)" fill="#4b90a6" opacity="0.72"/>
<ellipse cx="306.8" cy="127.4" rx="1.7" ry="0.5" transform="rotate(51 306.8 127.4)" fill="#4b90a6" opacity="0.72"/>
<ellipse cx="304.1" cy="95.7" rx="1.1" ry="0.5" transform="rotate(57 304.1 95.7)" fill="#4b90a6" opacity="0.72"/>
<ellipse cx="315.3" cy="111.6" rx="1.8" ry="0.5" transform="rotate(64 315.3 111.6)" fill="#4b90a6" opacity="0.72"/>
<ellipse cx="283.1" cy="88.8" rx="1.9" ry="0.5" transform="rotate(47 283.1 88.8)" fill="#4b90a6" opacity="0.72"/>
<ellipse cx="303.0" cy="126.9" rx="1.1" ry="0.5" transform="rotate(55 303.0 126.9)" fill="#4b90a6" opacity="0.72"/>
<ellipse cx="308.3" cy="71.0" rx="1.8" ry="0.5" transform="rotate(64 308.3 71.0)" fill="#4b90a6" opacity="0.72"/>
<ellipse cx="289.2" cy="69.6" rx="1.2" ry="0.5" transform="rotate(64 289.2 69.6)" fill="#4b90a6" opacity="0.72"/>
<ellipse cx="308.7" cy="110.5" rx="1.9" ry="0.5" transform="rotate(58 308.7 110.5)" fill="#4b90a6" opacity="0.72"/>
<ellipse cx="294.2" cy="63.7" rx="1.6" ry="0.5" transform="rotate(55 294.2 63.7)" fill="#4b90a6" opacity="0.72"/>
<ellipse cx="325.3" cy="120.4" rx="1.4" ry="0.5" transform="rotate(65 325.3 120.4)" fill="#4b90a6" opacity="0.72"/>
<ellipse cx="286.7" cy="52.9" rx="1.1" ry="0.5" transform="rotate(61 286.7 52.9)" fill="#4b90a6" opacity="0.72"/>
<ellipse cx="292.3" cy="77.2" rx="1.3" ry="0.5" transform="rotate(44 292.3 77.2)" fill="#4b90a6" opacity="0.72"/>
<ellipse cx="327.8" cy="55.4" rx="1.4" ry="0.5" transform="rotate(76 327.8 55.4)" fill="#4b90a6" opacity="0.72"/>
<ellipse cx="300.8" cy="59.1" rx="1.6" ry="0.5" transform="rotate(56 300.8 59.1)" fill="#4b90a6" opacity="0.72"/>
<ellipse cx="291.2" cy="122.5" rx="1.3" ry="0.5" transform="rotate(37 291.2 122.5)" fill="#4b90a6" opacity="0.72"/>
<ellipse cx="277.8" cy="54.2" rx="1.8" ry="0.5" transform="rotate(55 277.8 54.2)" fill="#4b90a6" opacity="0.72"/>
<ellipse cx="321.2" cy="130.2" rx="1.3" ry="0.5" transform="rotate(58 321.2 130.2)" fill="#4b90a6" opacity="0.72"/>
<ellipse cx="320.9" cy="110.3" rx="1.9" ry="0.5" transform="rotate(65 320.9 110.3)" fill="#4b90a6" opacity="0.72"/>
<ellipse cx="326.3" cy="70.6" rx="1.9" ry="0.5" transform="rotate(58 326.3 70.6)" fill="#4b90a6" opacity="0.72"/>
<ellipse cx="275.1" cy="59.3" rx="1.7" ry="0.5" transform="rotate(56 275.1 59.3)" fill="#4b90a6" opacity="0.72"/>
<ellipse cx="312.6" cy="97.9" rx="1.7" ry="0.5" transform="rotate(69 312.6 97.9)" fill="#4b90a6" opacity="0.72"/>
<ellipse cx="313.6" cy="96.8" rx="1.8" ry="0.5" transform="rotate(52 313.6 96.8)" fill="#4b90a6" opacity="0.72"/>
<ellipse cx="283.9" cy="72.8" rx="1.3" ry="0.5" transform="rotate(52 283.9 72.8)" fill="#4b90a6" opacity="0.72"/>
<ellipse cx="284.7" cy="63.0" rx="1.7" ry="0.5" transform="rotate(52 284.7 63.0)" fill="#4b90a6" opacity="0.72"/>
<ellipse cx="309.6" cy="127.4" rx="1.1" ry="0.5" transform="rotate(59 309.6 127.4)" fill="#4b90a6" opacity="0.72"/>
<ellipse cx="307.7" cy="79.7" rx="1.0" ry="0.5" transform="rotate(63 307.7 79.7)" fill="#4b90a6" opacity="0.72"/>
<ellipse cx="320.8" cy="121.5" rx="1.4" ry="0.5" transform="rotate(55 320.8 121.5)" fill="#4b90a6" opacity="0.72"/>
<ellipse cx="287.4" cy="81.5" rx="1.6" ry="0.5" transform="rotate(43 287.4 81.5)" fill="#4b90a6" opacity="0.72"/>
<ellipse cx="296.1" cy="128.7" rx="1.0" ry="0.5" transform="rotate(41 296.1 128.7)" fill="#4b90a6" opacity="0.72"/>
<ellipse cx="324.4" cy="61.2" rx="1.9" ry="0.5" transform="rotate(61 324.4 61.2)" fill="#4b90a6" opacity="0.72"/>
<ellipse cx="299.0" cy="134.7" rx="1.6" ry="0.5" transform="rotate(35 299.0 134.7)" fill="#4b90a6" opacity="0.72"/>
<ellipse cx="327.1" cy="92.8" rx="1.8" ry="0.5" transform="rotate(62 327.1 92.8)" fill="#4b90a6" opacity="0.72"/>
<ellipse cx="270.4" cy="84.9" rx="1.1" ry="0.5" transform="rotate(39 270.4 84.9)" fill="#4b90a6" opacity="0.72"/>
<ellipse cx="325.2" cy="94.1" rx="2.0" ry="0.5" transform="rotate(66 325.2 94.1)" fill="#4b90a6" opacity="0.72"/>
<ellipse cx="290.3" cy="123.3" rx="1.8" ry="0.5" transform="rotate(34 290.3 123.3)" fill="#4b90a6" opacity="0.72"/>
<ellipse cx="298.3" cy="48.3" rx="1.9" ry="0.5" transform="rotate(64 298.3 48.3)" fill="#4b90a6" opacity="0.72"/>
<ellipse cx="280.8" cy="112.2" rx="1.3" ry="0.5" transform="rotate(26 280.8 112.2)" fill="#4b90a6" opacity="0.72"/>
<ellipse cx="299.8" cy="98.4" rx="1.6" ry="0.5" transform="rotate(60 299.8 98.4)" fill="#4b90a6" opacity="0.72"/>
<ellipse cx="326.5" cy="108.8" rx="1.7" ry="0.5" transform="rotate(64 326.5 108.8)" fill="#4b90a6" opacity="0.72"/>
<ellipse cx="285.1" cy="121.9" rx="1.6" ry="0.5" transform="rotate(34 285.1 121.9)" fill="#4b90a6" opacity="0.72"/>
<ellipse cx="323.9" cy="71.7" rx="1.4" ry="0.5" transform="rotate(70 323.9 71.7)" fill="#4b90a6" opacity="0.72"/>
<ellipse cx="287.9" cy="110.6" rx="1.1" ry="0.5" transform="rotate(40 287.9 110.6)" fill="#4b90a6" opacity="0.72"/>
<ellipse cx="323.8" cy="92.3" rx="1.4" ry="0.5" transform="rotate(66 323.8 92.3)" fill="#4b90a6" opacity="0.72"/>
<ellipse cx="278.4" cy="122.0" rx="1.3" ry="0.5" transform="rotate(20 278.4 122.0)" fill="#4b90a6" opacity="0.72"/>
<ellipse cx="300.7" cy="96.3" rx="1.4" ry="0.5" transform="rotate(60 300.7 96.3)" fill="#4b90a6" opacity="0.72"/>
<ellipse cx="273.4" cy="70.7" rx="1.4" ry="0.5" transform="rotate(54 273.4 70.7)" fill="#4b90a6" opacity="0.72"/>
<ellipse cx="317.0" cy="117.3" rx="1.4" ry="0.5" transform="rotate(52 317.0 117.3)" fill="#4b90a6" opacity="0.72"/>
<ellipse cx="269.6" cy="83.4" rx="1.3" ry="0.5" transform="rotate(46 269.6 83.4)" fill="#4b90a6" opacity="0.72"/>
<ellipse cx="304.6" cy="68.0" rx="1.9" ry="0.5" transform="rotate(70 304.6 68.0)" fill="#4b90a6" opacity="0.72"/>
<ellipse cx="320.8" cy="50.3" rx="1.8" ry="0.5" transform="rotate(69 320.8 50.3)" fill="#4b90a6" opacity="0.72"/>
<ellipse cx="318.4" cy="101.7" rx="1.2" ry="0.5" transform="rotate(71 318.4 101.7)" fill="#4b90a6" opacity="0.72"/>
<ellipse cx="279.4" cy="102.9" rx="1.1" ry="0.5" transform="rotate(43 279.4 102.9)" fill="#4b90a6" opacity="0.72"/>
<ellipse cx="292.8" cy="116.1" rx="1.8" ry="0.5" transform="rotate(48 292.8 116.1)" fill="#4b90a6" opacity="0.72"/>
<ellipse cx="292.6" cy="80.3" rx="1.9" ry="0.5" transform="rotate(50 292.6 80.3)" fill="#4b90a6" opacity="0.72"/>
<ellipse cx="311.1" cy="52.8" rx="1.4" ry="0.5" transform="rotate(70 311.1 52.8)" fill="#4b90a6" opacity="0.72"/>
<ellipse cx="323.9" cy="62.5" rx="1.7" ry="0.5" transform="rotate(61 323.9 62.5)" fill="#4b90a6" opacity="0.72"/>
<ellipse cx="323.7" cy="49.0" rx="1.6" ry="0.5" transform="rotate(57 323.7 49.0)" fill="#4b90a6" opacity="0.72"/>
<ellipse cx="282.9" cy="74.2" rx="1.4" ry="0.4" transform="rotate(46 282.9 74.2)" fill="#6aa0b2" opacity="0.55"/>
<ellipse cx="315.5" cy="98.2" rx="0.9" ry="0.4" transform="rotate(68 315.5 98.2)" fill="#6aa0b2" opacity="0.55"/>
<ellipse cx="282.1" cy="117.1" rx="0.9" ry="0.4" transform="rotate(29 282.1 117.1)" fill="#6aa0b2" opacity="0.55"/>
<ellipse cx="285.7" cy="47.8" rx="1.5" ry="0.4" transform="rotate(71 285.7 47.8)" fill="#6aa0b2" opacity="0.55"/>
<ellipse cx="291.5" cy="62.4" rx="1.5" ry="0.4" transform="rotate(61 291.5 62.4)" fill="#6aa0b2" opacity="0.55"/>
<ellipse cx="291.7" cy="122.5" rx="1.4" ry="0.4" transform="rotate(44 291.7 122.5)" fill="#6aa0b2" opacity="0.55"/>
<ellipse cx="304.8" cy="81.2" rx="1.5" ry="0.4" transform="rotate(60 304.8 81.2)" fill="#6aa0b2" opacity="0.55"/>
<ellipse cx="287.2" cy="68.0" rx="1.5" ry="0.4" transform="rotate(56 287.2 68.0)" fill="#6aa0b2" opacity="0.55"/>
<ellipse cx="273.6" cy="47.5" rx="0.9" ry="0.4" transform="rotate(61 273.6 47.5)" fill="#6aa0b2" opacity="0.55"/>
<ellipse cx="325.5" cy="57.5" rx="1.4" ry="0.4" transform="rotate(67 325.5 57.5)" fill="#6aa0b2" opacity="0.55"/>
<ellipse cx="295.4" cy="80.7" rx="1.3" ry="0.4" transform="rotate(64 295.4 80.7)" fill="#6aa0b2" opacity="0.55"/>
<ellipse cx="304.2" cy="47.7" rx="1.2" ry="0.4" transform="rotate(65 304.2 47.7)" fill="#6aa0b2" opacity="0.55"/>
<ellipse cx="297.6" cy="62.9" rx="1.6" ry="0.4" transform="rotate(68 297.6 62.9)" fill="#6aa0b2" opacity="0.55"/>
<ellipse cx="300.4" cy="58.3" rx="1.5" ry="0.4" transform="rotate(63 300.4 58.3)" fill="#6aa0b2" opacity="0.55"/>
<ellipse cx="285.6" cy="131.8" rx="1.4" ry="0.4" transform="rotate(33 285.6 131.8)" fill="#6aa0b2" opacity="0.55"/>
<ellipse cx="282.1" cy="54.5" rx="1.0" ry="0.4" transform="rotate(65 282.1 54.5)" fill="#6aa0b2" opacity="0.55"/>
<ellipse cx="291.1" cy="129.4" rx="0.9" ry="0.4" transform="rotate(32 291.1 129.4)" fill="#6aa0b2" opacity="0.55"/>
<ellipse cx="275.6" cy="70.6" rx="1.1" ry="0.4" transform="rotate(59 275.6 70.6)" fill="#6aa0b2" opacity="0.55"/>
<ellipse cx="308.4" cy="120.8" rx="1.1" ry="0.4" transform="rotate(44 308.4 120.8)" fill="#6aa0b2" opacity="0.55"/>
<ellipse cx="300.4" cy="96.0" rx="1.3" ry="0.4" transform="rotate(48 300.4 96.0)" fill="#6aa0b2" opacity="0.55"/>
<ellipse cx="303.0" cy="74.1" rx="1.5" ry="0.4" transform="rotate(68 303.0 74.1)" fill="#6aa0b2" opacity="0.55"/>
<ellipse cx="305.5" cy="55.7" rx="0.9" ry="0.4" transform="rotate(66 305.5 55.7)" fill="#6aa0b2" opacity="0.55"/>
<ellipse cx="278.7" cy="106.9" rx="1.5" ry="0.4" transform="rotate(27 278.7 106.9)" fill="#6aa0b2" opacity="0.55"/>
<ellipse cx="269.9" cy="108.9" rx="1.4" ry="0.4" transform="rotate(35 269.9 108.9)" fill="#6aa0b2" opacity="0.55"/>
<ellipse cx="314.8" cy="56.3" rx="1.5" ry="0.4" transform="rotate(70 314.8 56.3)" fill="#6aa0b2" opacity="0.55"/>
<ellipse cx="286.5" cy="109.8" rx="1.4" ry="0.4" transform="rotate(30 286.5 109.8)" fill="#6aa0b2" opacity="0.55"/>
<ellipse cx="305.3" cy="47.3" rx="1.1" ry="0.4" transform="rotate(62 305.3 47.3)" fill="#6aa0b2" opacity="0.55"/>
<ellipse cx="318.4" cy="94.3" rx="1.2" ry="0.4" transform="rotate(68 318.4 94.3)" fill="#6aa0b2" opacity="0.55"/>
<ellipse cx="302.0" cy="92.8" rx="1.1" ry="0.4" transform="rotate(55 302.0 92.8)" fill="#6aa0b2" opacity="0.55"/>
<ellipse cx="289.9" cy="50.8" rx="1.4" ry="0.4" transform="rotate(66 289.9 50.8)" fill="#6aa0b2" opacity="0.55"/>
<ellipse cx="293.9" cy="47.6" rx="1.4" ry="0.4" transform="rotate(67 293.9 47.6)" fill="#6aa0b2" opacity="0.55"/>
<ellipse cx="289.2" cy="118.0" rx="1.5" ry="0.4" transform="rotate(36 289.2 118.0)" fill="#6aa0b2" opacity="0.55"/>
<ellipse cx="297.7" cy="49.7" rx="1.1" ry="0.4" transform="rotate(60 297.7 49.7)" fill="#6aa0b2" opacity="0.55"/>
<ellipse cx="322.1" cy="132.1" rx="1.2" ry="0.4" transform="rotate(70 322.1 132.1)" fill="#6aa0b2" opacity="0.55"/>
<ellipse cx="283.8" cy="70.5" rx="1.3" ry="0.4" transform="rotate(50 283.8 70.5)" fill="#6aa0b2" opacity="0.55"/>
<ellipse cx="324.5" cy="55.8" rx="1.5" ry="0.4" transform="rotate(63 324.5 55.8)" fill="#6aa0b2" opacity="0.55"/>
<ellipse cx="299.7" cy="108.5" rx="0.9" ry="0.4" transform="rotate(54 299.7 108.5)" fill="#6aa0b2" opacity="0.55"/>
<ellipse cx="322.1" cy="74.6" rx="0.9" ry="0.4" transform="rotate(58 322.1 74.6)" fill="#6aa0b2" opacity="0.55"/>
<ellipse cx="312.1" cy="83.3" rx="1.5" ry="0.4" transform="rotate(51 312.1 83.3)" fill="#6aa0b2" opacity="0.55"/>
<ellipse cx="326.6" cy="49.8" rx="1.0" ry="0.4" transform="rotate(73 326.6 49.8)" fill="#6aa0b2" opacity="0.55"/>
<ellipse cx="302.9" cy="124.6" rx="1.1" ry="0.4" transform="rotate(55 302.9 124.6)" fill="#6aa0b2" opacity="0.55"/>
<ellipse cx="302.1" cy="76.8" rx="1.5" ry="0.4" transform="rotate(63 302.1 76.8)" fill="#6aa0b2" opacity="0.55"/>
<ellipse cx="269.3" cy="56.5" rx="1.5" ry="0.4" transform="rotate(52 269.3 56.5)" fill="#6aa0b2" opacity="0.55"/>
<ellipse cx="274.7" cy="120.3" rx="1.2" ry="0.4" transform="rotate(36 274.7 120.3)" fill="#6aa0b2" opacity="0.55"/>
<ellipse cx="302.8" cy="125.4" rx="1.5" ry="0.4" transform="rotate(51 302.8 125.4)" fill="#6aa0b2" opacity="0.55"/>
<ellipse cx="314.1" cy="87.1" rx="1.5" ry="0.4" transform="rotate(66 314.1 87.1)" fill="#6aa0b2" opacity="0.55"/>
<ellipse cx="278.9" cy="95.3" rx="1.6" ry="0.4" transform="rotate(48 278.9 95.3)" fill="#6aa0b2" opacity="0.55"/>
<ellipse cx="311.4" cy="77.5" rx="1.3" ry="0.4" transform="rotate(69 311.4 77.5)" fill="#6aa0b2" opacity="0.55"/>
<ellipse cx="275.9" cy="80.2" rx="1.4" ry="0.4" transform="rotate(44 275.9 80.2)" fill="#6aa0b2" opacity="0.55"/>
<ellipse cx="316.3" cy="121.7" rx="1.3" ry="0.4" transform="rotate(49 316.3 121.7)" fill="#6aa0b2" opacity="0.55"/>
<ellipse cx="313.1" cy="57.8" rx="1.3" ry="0.4" transform="rotate(69 313.1 57.8)" fill="#6aa0b2" opacity="0.55"/>
<ellipse cx="283.3" cy="123.9" rx="0.8" ry="0.4" transform="rotate(26 283.3 123.9)" fill="#6aa0b2" opacity="0.55"/>
<ellipse cx="296.6" cy="71.6" rx="1.6" ry="0.4" transform="rotate(66 296.6 71.6)" fill="#6aa0b2" opacity="0.55"/>
<ellipse cx="314.9" cy="48.1" rx="1.3" ry="0.4" transform="rotate(67 314.9 48.1)" fill="#6aa0b2" opacity="0.55"/>
<ellipse cx="293.4" cy="48.0" rx="1.2" ry="0.4" transform="rotate(62 293.4 48.0)" fill="#6aa0b2" opacity="0.55"/>
<ellipse cx="325.6" cy="106.9" rx="0.9" ry="0.4" transform="rotate(74 325.6 106.9)" fill="#6aa0b2" opacity="0.55"/>
<ellipse cx="277.4" cy="83.1" rx="1.1" ry="0.4" transform="rotate(48 277.4 83.1)" fill="#6aa0b2" opacity="0.55"/>
<ellipse cx="299.1" cy="129.7" rx="1.5" ry="0.4" transform="rotate(41 299.1 129.7)" fill="#6aa0b2" opacity="0.55"/>
<ellipse cx="273.2" cy="47.6" rx="0.9" ry="0.4" transform="rotate(63 273.2 47.6)" fill="#6aa0b2" opacity="0.55"/>
<ellipse cx="302.2" cy="91.3" rx="1.2" ry="0.4" transform="rotate(60 302.2 91.3)" fill="#6aa0b2" opacity="0.55"/>
<ellipse cx="310.8" cy="96.3" rx="1.2" ry="0.4" transform="rotate(61 310.8 96.3)" fill="#6aa0b2" opacity="0.55"/>
<ellipse cx="308.7" cy="86.1" rx="0.9" ry="0.4" transform="rotate(53 308.7 86.1)" fill="#6aa0b2" opacity="0.55"/>
<ellipse cx="299.0" cy="115.6" rx="1.4" ry="0.4" transform="rotate(41 299.0 115.6)" fill="#6aa0b2" opacity="0.55"/>
<ellipse cx="312.5" cy="97.4" rx="1.3" ry="0.4" transform="rotate(69 312.5 97.4)" fill="#6aa0b2" opacity="0.55"/>
<ellipse cx="274.0" cy="82.2" rx="0.9" ry="0.4" transform="rotate(48 274.0 82.2)" fill="#6aa0b2" opacity="0.55"/>
<ellipse cx="283.1" cy="120.7" rx="0.9" ry="0.4" transform="rotate(43 283.1 120.7)" fill="#6aa0b2" opacity="0.55"/>
<ellipse cx="285.1" cy="64.0" rx="1.2" ry="0.4" transform="rotate(52 285.1 64.0)" fill="#6aa0b2" opacity="0.55"/>
<ellipse cx="303.1" cy="66.0" rx="0.9" ry="0.4" transform="rotate(54 303.1 66.0)" fill="#6aa0b2" opacity="0.55"/>
<ellipse cx="271.5" cy="98.6" rx="1.0" ry="0.4" transform="rotate(40 271.5 98.6)" fill="#6aa0b2" opacity="0.55"/>
<ellipse cx="291.8" cy="133.0" rx="1.3" ry="0.4" transform="rotate(45 291.8 133.0)" fill="#6aa0b2" opacity="0.55"/>
<ellipse cx="281.4" cy="106.8" rx="0.9" ry="0.4" transform="rotate(43 281.4 106.8)" fill="#6aa0b2" opacity="0.55"/>
<ellipse cx="270.2" cy="48.7" rx="1.3" ry="0.4" transform="rotate(64 270.2 48.7)" fill="#6aa0b2" opacity="0.55"/>
<ellipse cx="276.9" cy="124.3" rx="0.8" ry="0.4" transform="rotate(33 276.9 124.3)" fill="#6aa0b2" opacity="0.55"/>
<ellipse cx="305.6" cy="62.8" rx="0.9" ry="0.4" transform="rotate(57 305.6 62.8)" fill="#6aa0b2" opacity="0.55"/>
<ellipse cx="315.6" cy="116.7" rx="1.1" ry="0.4" transform="rotate(49 315.6 116.7)" fill="#6aa0b2" opacity="0.55"/>
<ellipse cx="278.5" cy="53.9" rx="1.3" ry="0.4" transform="rotate(67 278.5 53.9)" fill="#6aa0b2" opacity="0.55"/>
<ellipse cx="297.0" cy="92.4" rx="1.4" ry="0.4" transform="rotate(57 297.0 92.4)" fill="#6aa0b2" opacity="0.55"/>
<ellipse cx="288.2" cy="111.8" rx="1.2" ry="0.4" transform="rotate(31 288.2 111.8)" fill="#6aa0b2" opacity="0.55"/>
<ellipse cx="289.1" cy="84.5" rx="1.5" ry="0.4" transform="rotate(47 289.1 84.5)" fill="#6aa0b2" opacity="0.55"/>
<ellipse cx="269.0" cy="108.1" rx="1.1" ry="0.4" transform="rotate(24 269.0 108.1)" fill="#6aa0b2" opacity="0.55"/>
<ellipse cx="273.6" cy="53.8" rx="1.5" ry="0.4" transform="rotate(48 273.6 53.8)" fill="#6aa0b2" opacity="0.55"/>
<ellipse cx="294.1" cy="66.2" rx="0.9" ry="0.4" transform="rotate(49 294.1 66.2)" fill="#6aa0b2" opacity="0.55"/>
<ellipse cx="296.1" cy="57.0" rx="1.3" ry="0.4" transform="rotate(52 296.1 57.0)" fill="#6aa0b2" opacity="0.55"/>
<ellipse cx="283.4" cy="125.0" rx="1.2" ry="0.4" transform="rotate(40 283.4 125.0)" fill="#6aa0b2" opacity="0.55"/>
<ellipse cx="314.9" cy="93.2" rx="1.0" ry="0.4" transform="rotate(64 314.9 93.2)" fill="#6aa0b2" opacity="0.55"/>
<ellipse cx="313.7" cy="121.2" rx="1.1" ry="0.4" transform="rotate(61 313.7 121.2)" fill="#6aa0b2" opacity="0.55"/>
<ellipse cx="275.9" cy="128.6" rx="1.3" ry="0.4" transform="rotate(26 275.9 128.6)" fill="#6aa0b2" opacity="0.55"/>
<ellipse cx="278.8" cy="128.7" rx="1.1" ry="0.4" transform="rotate(22 278.8 128.7)" fill="#6aa0b2" opacity="0.55"/>
<ellipse cx="289.2" cy="130.2" rx="1.5" ry="0.4" transform="rotate(27 289.2 130.2)" fill="#6aa0b2" opacity="0.55"/>
<ellipse cx="306.9" cy="91.9" rx="1.4" ry="0.4" transform="rotate(60 306.9 91.9)" fill="#6aa0b2" opacity="0.55"/>
<rect x="268.9" y="47" width="59.3" height="88" filter="url(#nz)" opacity="0.12"/>
</g>
<text x="286.3" y="39" font-size="8.2" fill="#231f20">+</text>
<text x="292.6" y="39" font-size="8.2" fill="#231f20" textLength="6.3" lengthAdjust="spacingAndGlyphs">H</text>
<text x="299.0" y="41.2" font-size="5.6" fill="#231f20">2</text>
<text x="302.2" y="39" font-size="8.2" fill="#231f20" textLength="6.5" lengthAdjust="spacingAndGlyphs">O</text>
<text x="308.6" y="41.2" font-size="5.6" fill="#231f20">2</text>
<text x="346.26" y="17.60" font-size="12.3" textLength="7.64" lengthAdjust="spacingAndGlyphs" fill="#231f20">C</text>
<line x1="369.8" y1="49" x2="369.8" y2="134.8" stroke="#231f20" stroke-width="1.1"/>
<line x1="366.8" y1="51.9" x2="369.8" y2="51.9" stroke="#231f20" stroke-width="1.0"/>
<text x="359.64" y="54.30" font-size="8.2" textLength="4.29" lengthAdjust="spacingAndGlyphs" fill="#231f20">4</text>
<line x1="366.8" y1="72.6" x2="369.8" y2="72.6" stroke="#231f20" stroke-width="1.0"/>
<text x="359.75" y="75.00" font-size="8.2" textLength="4.29" lengthAdjust="spacingAndGlyphs" fill="#231f20">3</text>
<line x1="366.8" y1="93.2" x2="369.8" y2="93.2" stroke="#231f20" stroke-width="1.0"/>
<text x="359.80" y="95.60" font-size="8.2" textLength="4.29" lengthAdjust="spacingAndGlyphs" fill="#231f20">2</text>
<line x1="366.8" y1="113.7" x2="369.8" y2="113.7" stroke="#231f20" stroke-width="1.0"/>
<text x="359.79" y="116.10" font-size="8.2" textLength="4.29" lengthAdjust="spacingAndGlyphs" fill="#231f20">1</text>
<line x1="366.8" y1="134.3" x2="369.8" y2="134.3" stroke="#231f20" stroke-width="1.0"/>
<text x="359.71" y="136.70" font-size="8.2" textLength="4.29" lengthAdjust="spacingAndGlyphs" fill="#231f20">0</text>
<line x1="369.3" y1="134.1" x2="445.7" y2="134.1" stroke="#231f20" stroke-width="1.2"/>
<rect x="383.2" y="113.8" width="12.2" height="20.500000000000014" fill="#72a6d1"/>
<line x1="389.3" y1="107.3" x2="389.3" y2="119.3" stroke="#231f20" stroke-width="1.0"/>
<line x1="387.0" y1="107.3" x2="391.6" y2="107.3" stroke="#231f20" stroke-width="1.0"/>
<line x1="387.0" y1="119.3" x2="391.6" y2="119.3" stroke="#231f20" stroke-width="1.0"/>
<rect x="420.8" y="68.8" width="12.3" height="65.50000000000001" fill="#72a6d1"/>
<line x1="426.95" y1="56.4" x2="426.95" y2="80.4" stroke="#231f20" stroke-width="1.0"/>
<line x1="424.65" y1="56.4" x2="429.25" y2="56.4" stroke="#231f20" stroke-width="1.0"/>
<line x1="424.65" y1="80.4" x2="429.25" y2="80.4" stroke="#231f20" stroke-width="1.0"/>
<text x="373.81" y="55.10" font-size="8.2" textLength="12.51" lengthAdjust="spacingAndGlyphs" fill="#231f20">n=4</text>
<circle cx="426.7" cy="52.1" r="1.15" fill="#333"/>
<text x="378.19" y="145.20" font-size="8.2" textLength="21.39" lengthAdjust="spacingAndGlyphs" fill="#231f20">BMSC</text>
<text x="412.79" y="145.20" font-size="8.2" textLength="27.98" lengthAdjust="spacingAndGlyphs" fill="#231f20">BMSC +</text>
<text x="416.69" y="154.40" font-size="8.2" textLength="19.49" lengthAdjust="spacingAndGlyphs" fill="#231f20">H2O2</text>
<text transform="translate(353.00,138.00) rotate(-90)" font-size="10.5" textLength="93.61" lengthAdjust="spacingAndGlyphs" fill="#231f20">p16 mRNA expression</text>
<text x="7.66" y="198.50" font-size="11.8" textLength="9.14" lengthAdjust="spacingAndGlyphs" fill="#231f20">D</text>
<text x="71.98" y="210.80" font-size="10" textLength="50.62" lengthAdjust="spacingAndGlyphs" fill="#231f20">Amplex Red</text>
<line x1="52.6" y1="218" x2="52.6" y2="316.5" stroke="#231f20" stroke-width="1.1"/>
<line x1="49.6" y1="221.1" x2="52.6" y2="221.1" stroke="#231f20" stroke-width="1.0"/>
<text x="24.67" y="223.50" font-size="8.2" textLength="21.43" lengthAdjust="spacingAndGlyphs" fill="#231f20">15000</text>
<line x1="49.6" y1="252.7" x2="52.6" y2="252.7" stroke="#231f20" stroke-width="1.0"/>
<text x="24.67" y="255.10" font-size="8.2" textLength="21.43" lengthAdjust="spacingAndGlyphs" fill="#231f20">10000</text>
<line x1="49.6" y1="284.4" x2="52.6" y2="284.4" stroke="#231f20" stroke-width="1.0"/>
<text x="28.95" y="286.80" font-size="8.2" textLength="17.15" lengthAdjust="spacingAndGlyphs" fill="#231f20">5000</text>
<line x1="49.6" y1="316.0" x2="52.6" y2="316.0" stroke="#231f20" stroke-width="1.0"/>
<text x="41.81" y="318.40" font-size="8.2" textLength="4.29" lengthAdjust="spacingAndGlyphs" fill="#231f20">0</text>
<line x1="52.1" y1="316.0" x2="141.8" y2="316.0" stroke="#231f20" stroke-width="1.2"/>
<line x1="74.8" y1="316.0" x2="74.8" y2="318.7" stroke="#231f20" stroke-width="1"/>
<line x1="119.2" y1="316.0" x2="119.2" y2="318.7" stroke="#231f20" stroke-width="1"/>
<circle cx="67.3" cy="296.9" r="2.4" fill="none" stroke="#b5384a" stroke-width="1.1"/>
<circle cx="74.8" cy="297.3" r="2.4" fill="none" stroke="#b5384a" stroke-width="1.1"/>
<circle cx="67.3" cy="301.5" r="2.4" fill="none" stroke="#b5384a" stroke-width="1.1"/>
<circle cx="81.5" cy="301.9" r="2.4" fill="none" stroke="#b5384a" stroke-width="1.1"/>
<circle cx="74.8" cy="307.7" r="2.4" fill="none" stroke="#b5384a" stroke-width="1.1"/>
<line x1="60" y1="301.7" x2="89.2" y2="301.7" stroke="#231f20" stroke-width="1.3"/>
<circle cx="119.2" cy="255.5" r="2.4" fill="none" stroke="#4a6fa5" stroke-width="1.1"/>
<circle cx="119.2" cy="275.4" r="2.4" fill="none" stroke="#4a6fa5" stroke-width="1.1"/>
<circle cx="112.2" cy="278.6" r="2.4" fill="none" stroke="#4a6fa5" stroke-width="1.1"/>
<circle cx="119.2" cy="285.6" r="2.4" fill="none" stroke="#4a6fa5" stroke-width="1.1"/>
<circle cx="119.2" cy="297.9" r="2.4" fill="none" stroke="#4a6fa5" stroke-width="1.1"/>
<line x1="104" y1="278.6" x2="134.7" y2="278.6" stroke="#231f20" stroke-width="1.3"/>
<line x1="76.9" y1="247.4" x2="117.7" y2="247.4" stroke="#444" stroke-width="1.1"/>
<circle cx="97.3" cy="243.5" r="1.15" fill="#333"/>
<text x="61.47" y="330.30" font-size="8.2" textLength="26.99" lengthAdjust="spacingAndGlyphs" fill="#231f20">Control</text>
<text x="68.49" y="340.50" font-size="8.2" textLength="13.02" lengthAdjust="spacingAndGlyphs" fill="#231f20">BM</text>
<text x="110.55" y="330.30" font-size="8.2" textLength="16.74" lengthAdjust="spacingAndGlyphs" fill="#231f20">MN1</text>
<text x="101.55" y="340.50" font-size="8.2" textLength="34.99" lengthAdjust="spacingAndGlyphs" fill="#231f20">engrafted</text>
<text x="113.32" y="349.70" font-size="8.2" textLength="12.35" lengthAdjust="spacingAndGlyphs" fill="#231f20">BM</text>
<text transform="translate(16.90,315.11) rotate(-90)" font-size="10.5" textLength="97.31" lengthAdjust="spacingAndGlyphs" fill="#231f20">H2O2 production (µM)</text>
<text x="159.50" y="198.60" font-size="12" textLength="6.52" lengthAdjust="spacingAndGlyphs" fill="#231f20">E</text>
<text x="237.89" y="213.00" font-size="8.2" textLength="15.20" lengthAdjust="spacingAndGlyphs" fill="#231f20">DCF</text>
<line x1="201.8" y1="218.3" x2="201.8" y2="316.5" stroke="#231f20" stroke-width="1.1"/>
<line x1="198.8" y1="221.4" x2="201.8" y2="221.4" stroke="#231f20" stroke-width="1.0"/>
<text x="173.67" y="223.80" font-size="8.2" textLength="21.43" lengthAdjust="spacingAndGlyphs" fill="#231f20">25000</text>
<line x1="198.8" y1="240.3" x2="201.8" y2="240.3" stroke="#231f20" stroke-width="1.0"/>
<text x="173.67" y="242.70" font-size="8.2" textLength="21.43" lengthAdjust="spacingAndGlyphs" fill="#231f20">20000</text>
<line x1="198.8" y1="259.2" x2="201.8" y2="259.2" stroke="#231f20" stroke-width="1.0"/>
<text x="173.67" y="261.60" font-size="8.2" textLength="21.43" lengthAdjust="spacingAndGlyphs" fill="#231f20">15000</text>
<line x1="198.8" y1="278.1" x2="201.8" y2="278.1" stroke="#231f20" stroke-width="1.0"/>
<text x="173.67" y="280.50" font-size="8.2" textLength="21.43" lengthAdjust="spacingAndGlyphs" fill="#231f20">10000</text>
<line x1="198.8" y1="297.0" x2="201.8" y2="297.0" stroke="#231f20" stroke-width="1.0"/>
<text x="177.95" y="299.40" font-size="8.2" textLength="17.15" lengthAdjust="spacingAndGlyphs" fill="#231f20">5000</text>
<line x1="198.8" y1="315.95" x2="201.8" y2="315.95" stroke="#231f20" stroke-width="1.0"/>
<text x="190.81" y="318.35" font-size="8.2" textLength="4.29" lengthAdjust="spacingAndGlyphs" fill="#231f20">0</text>
<line x1="201.3" y1="316.0" x2="290.2" y2="316.0" stroke="#231f20" stroke-width="1.2"/>
<line x1="223.8" y1="316.0" x2="223.8" y2="318.7" stroke="#231f20" stroke-width="1"/>
<line x1="268.5" y1="316.0" x2="268.5" y2="318.7" stroke="#231f20" stroke-width="1"/>
<circle cx="224" cy="270.4" r="2.5" fill="none" stroke="#b5384a" stroke-width="1.1"/>
<circle cx="216.7" cy="280" r="2.5" fill="none" stroke="#b5384a" stroke-width="1.1"/>
<circle cx="224" cy="286.9" r="2.5" fill="none" stroke="#b5384a" stroke-width="1.1"/>
<circle cx="231" cy="290.4" r="2.5" fill="none" stroke="#b5384a" stroke-width="1.1"/>
<circle cx="224" cy="293.8" r="2.5" fill="none" stroke="#b5384a" stroke-width="1.1"/>
<line x1="209" y1="287.1" x2="238.6" y2="287.1" stroke="#231f20" stroke-width="1.4"/>
<circle cx="260.8" cy="233.3" r="2.5" fill="none" stroke="#4a6fa5" stroke-width="1.1"/>
<circle cx="268.5" cy="237.4" r="2.5" fill="none" stroke="#4a6fa5" stroke-width="1.1"/>
<circle cx="268.5" cy="248.8" r="2.5" fill="none" stroke="#4a6fa5" stroke-width="1.1"/>
<circle cx="268.5" cy="258.5" r="2.5" fill="none" stroke="#4a6fa5" stroke-width="1.1"/>
<circle cx="268.5" cy="279.4" r="2.5" fill="none" stroke="#4a6fa5" stroke-width="1.1"/>
<line x1="253.3" y1="249.2" x2="283.9" y2="249.2" stroke="#231f20" stroke-width="1.4"/>
<line x1="225" y1="224.9" x2="265.8" y2="224.9" stroke="#6a6a6a" stroke-width="2.0"/>
<circle cx="245.2" cy="220.4" r="1.15" fill="#333"/>
<text x="210.58" y="330.30" font-size="8.2" textLength="26.88" lengthAdjust="spacingAndGlyphs" fill="#231f20">Control</text>
<text x="218.01" y="340.50" font-size="8.2" textLength="12.69" lengthAdjust="spacingAndGlyphs" fill="#231f20">BM</text>
<text x="259.75" y="330.30" font-size="8.2" textLength="16.84" lengthAdjust="spacingAndGlyphs" fill="#231f20">MN1</text>
<text x="250.85" y="340.50" font-size="8.2" textLength="35.09" lengthAdjust="spacingAndGlyphs" fill="#231f20">engrafted</text>
<text x="257.89" y="349.70" font-size="8.2" textLength="21.39" lengthAdjust="spacingAndGlyphs" fill="#231f20">BMSC</text>
<text transform="translate(166.60,275.27) rotate(-90)" font-size="10.5" textLength="16.13" lengthAdjust="spacingAndGlyphs" fill="#231f20">MFI</text>
<text x="308.91" y="198.90" font-size="12" textLength="6.62" lengthAdjust="spacingAndGlyphs" fill="#231f20">F</text>
<line x1="352.6" y1="232.1" x2="352.6" y2="316.5" stroke="#231f20" stroke-width="1.1"/>
<line x1="348.6" y1="235.2" x2="352.6" y2="235.2" stroke="#231f20" stroke-width="1.0"/>
<text x="332.74" y="237.60" font-size="8.2" textLength="12.86" lengthAdjust="spacingAndGlyphs" fill="#231f20">120</text>
<line x1="348.6" y1="248.66" x2="352.6" y2="248.66" stroke="#231f20" stroke-width="1.0"/>
<text x="332.74" y="251.06" font-size="8.2" textLength="12.86" lengthAdjust="spacingAndGlyphs" fill="#231f20">100</text>
<line x1="348.6" y1="262.12" x2="352.6" y2="262.12" stroke="#231f20" stroke-width="1.0"/>
<text x="337.03" y="264.52" font-size="8.2" textLength="8.57" lengthAdjust="spacingAndGlyphs" fill="#231f20">80</text>
<line x1="348.6" y1="275.58" x2="352.6" y2="275.58" stroke="#231f20" stroke-width="1.0"/>
<text x="337.03" y="277.98" font-size="8.2" textLength="8.57" lengthAdjust="spacingAndGlyphs" fill="#231f20">60</text>
<line x1="348.6" y1="289.03999999999996" x2="352.6" y2="289.03999999999996" stroke="#231f20" stroke-width="1.0"/>
<text x="337.03" y="291.44" font-size="8.2" textLength="8.57" lengthAdjust="spacingAndGlyphs" fill="#231f20">40</text>
<line x1="348.6" y1="302.5" x2="352.6" y2="302.5" stroke="#231f20" stroke-width="1.0"/>
<text x="337.03" y="304.90" font-size="8.2" textLength="8.57" lengthAdjust="spacingAndGlyphs" fill="#231f20">20</text>
<line x1="348.6" y1="315.96" x2="352.6" y2="315.96" stroke="#231f20" stroke-width="1.0"/>
<text x="341.31" y="318.36" font-size="8.2" textLength="4.29" lengthAdjust="spacingAndGlyphs" fill="#231f20">0</text>
<line x1="352.1" y1="316" x2="429.6" y2="316" stroke="#231f20" stroke-width="1.2"/>
<rect x="365.8" y="249.2" width="12.3" height="66.80000000000001" fill="#72a6d1"/>
<line x1="371.95" y1="245.4" x2="371.95" y2="252.1" stroke="#231f20" stroke-width="1.0"/>
<line x1="369.65" y1="245.4" x2="374.25" y2="245.4" stroke="#231f20" stroke-width="1.0"/>
<line x1="369.65" y1="252.1" x2="374.25" y2="252.1" stroke="#231f20" stroke-width="1.0"/>
<rect x="405" y="294.8" width="12.1" height="21.19999999999999" fill="#72a6d1"/>
<line x1="411.05" y1="289.2" x2="411.05" y2="300.2" stroke="#231f20" stroke-width="1.0"/>
<line x1="408.75" y1="289.2" x2="413.35" y2="289.2" stroke="#231f20" stroke-width="1.0"/>
<line x1="408.75" y1="300.2" x2="413.35" y2="300.2" stroke="#231f20" stroke-width="1.0"/>
<circle cx="411.1" cy="284.9" r="1.15" fill="#333"/>
<text x="401.23" y="252.60" font-size="8.2" textLength="14.52" lengthAdjust="spacingAndGlyphs" fill="#231f20">n=4</text>
<text x="358.10" y="326.70" font-size="8.2" textLength="28.08" lengthAdjust="spacingAndGlyphs" fill="#231f20">Con-KD</text>
<text x="394.38" y="326.70" font-size="8.2" textLength="33.68" lengthAdjust="spacingAndGlyphs" fill="#231f20">NOX2-KD</text>
<text transform="translate(316.00,325.06) rotate(-90)" font-size="10.2" textLength="101.85" lengthAdjust="spacingAndGlyphs" fill="#231f20">NOX2 mRNA expression</text>
<text transform="translate(326.60,332.43) rotate(-90)" font-size="10.2" textLength="118.42" lengthAdjust="spacingAndGlyphs" fill="#231f20">fold change over control (%)</text>
<text x="8.12" y="378.40" font-size="11.3" textLength="8.94" lengthAdjust="spacingAndGlyphs" fill="#231f20">G</text>
<text x="77.37" y="390.90" font-size="8.2" textLength="51.08" lengthAdjust="spacingAndGlyphs" fill="#231f20">P16-3MR Mice</text>
<text x="85.85" y="400.80" font-size="8.2" textLength="33.98" lengthAdjust="spacingAndGlyphs" fill="#231f20">P=0.0015</text>
<line x1="52.2" y1="393.7" x2="52.2" y2="475.9" stroke="#231f20" stroke-width="1.1"/>
<line x1="49.2" y1="404.3" x2="52.2" y2="404.3" stroke="#231f20" stroke-width="1.0"/>
<text x="33.24" y="406.70" font-size="8.2" textLength="12.86" lengthAdjust="spacingAndGlyphs" fill="#231f20">100</text>
<line x1="49.2" y1="439.8" x2="52.2" y2="439.8" stroke="#231f20" stroke-width="1.0"/>
<text x="37.53" y="442.20" font-size="8.2" textLength="8.57" lengthAdjust="spacingAndGlyphs" fill="#231f20">50</text>
<line x1="49.2" y1="475.4" x2="52.2" y2="475.4" stroke="#231f20" stroke-width="1.0"/>
<text x="41.81" y="477.80" font-size="8.2" textLength="4.29" lengthAdjust="spacingAndGlyphs" fill="#231f20">0</text>
<line x1="51.7" y1="475.4" x2="170.4" y2="475.4" stroke="#231f20" stroke-width="1.2"/>
<line x1="52.3" y1="475.4" x2="52.3" y2="478.4" stroke="#231f20" stroke-width="1"/>
<line x1="80.97" y1="475.4" x2="80.97" y2="478.4" stroke="#231f20" stroke-width="1"/>
<line x1="109.64" y1="475.4" x2="109.64" y2="478.4" stroke="#231f20" stroke-width="1"/>
<line x1="138.31" y1="475.4" x2="138.31" y2="478.4" stroke="#231f20" stroke-width="1"/>
<line x1="166.98000000000002" y1="475.4" x2="166.98000000000002" y2="478.4" stroke="#231f20" stroke-width="1"/>
<text x="49.93" y="489.30" font-size="8.2" textLength="5.24" lengthAdjust="spacingAndGlyphs" fill="#231f20">0</text>
<text x="77.15" y="489.30" font-size="8.2" textLength="8.03" lengthAdjust="spacingAndGlyphs" fill="#231f20">10</text>
<text x="105.41" y="489.30" font-size="8.2" textLength="8.70" lengthAdjust="spacingAndGlyphs" fill="#231f20">20</text>
<text x="133.78" y="489.30" font-size="8.2" textLength="9.35" lengthAdjust="spacingAndGlyphs" fill="#231f20">30</text>
<text x="162.31" y="489.30" font-size="8.2" textLength="9.00" lengthAdjust="spacingAndGlyphs" fill="#231f20">40</text>
<text x="99.03" y="503.00" font-size="10.2" textLength="21.52" lengthAdjust="spacingAndGlyphs" fill="#231f20">Days</text>
<path d="M52.30,404.30 H121.11 V414.47 H123.97 V434.80 H129.71 V455.07 H141.18 V465.23 H146.91 V475.40" fill="none" stroke="#b5384a" stroke-width="1.45" stroke-linejoin="miter" stroke-linecap="butt"/>
<path d="M52.30,404.30 H115.37 V414.47 H118.24 V434.80 H121.11 V475.40" fill="none" stroke="#44669c" stroke-width="1.45" stroke-linejoin="miter" stroke-linecap="butt"/>
<text x="57.33" y="459.00" font-size="8.2" textLength="26.02" lengthAdjust="spacingAndGlyphs" fill="#231f20">Con-KD</text>
<text x="57.42" y="470.70" font-size="8.2" textLength="27.52" lengthAdjust="spacingAndGlyphs" fill="#231f20">NOX-KD</text>
<line x1="92.3" y1="455.7" x2="106.6" y2="455.7" stroke="#44669c" stroke-width="1.6"/>
<line x1="92.3" y1="467.7" x2="106.6" y2="467.7" stroke="#b5384a" stroke-width="1.6"/>
<text transform="translate(26.40,470.74) rotate(-90)" font-size="9.9" textLength="74.08" lengthAdjust="spacingAndGlyphs" fill="#231f20">% animal survival</text>
<text x="188.23" y="378.00" font-size="10.5" textLength="8.35" lengthAdjust="spacingAndGlyphs" fill="#231f20" font-weight="bold">H</text>
<line x1="237.6" y1="382.9" x2="237.6" y2="475.7" stroke="#231f20" stroke-width="1.1"/>
<line x1="234.6" y1="386.0" x2="237.6" y2="386.0" stroke="#231f20" stroke-width="1.0"/>
<text x="209.67" y="388.40" font-size="8.2" textLength="21.43" lengthAdjust="spacingAndGlyphs" fill="#231f20">15000</text>
<line x1="234.6" y1="415.6" x2="237.6" y2="415.6" stroke="#231f20" stroke-width="1.0"/>
<text x="209.67" y="418.00" font-size="8.2" textLength="21.43" lengthAdjust="spacingAndGlyphs" fill="#231f20">10000</text>
<line x1="234.6" y1="445.4" x2="237.6" y2="445.4" stroke="#231f20" stroke-width="1.0"/>
<text x="213.95" y="447.80" font-size="8.2" textLength="17.15" lengthAdjust="spacingAndGlyphs" fill="#231f20">5000</text>
<line x1="234.6" y1="475.2" x2="237.6" y2="475.2" stroke="#231f20" stroke-width="1.0"/>
<text x="226.81" y="477.60" font-size="8.2" textLength="4.29" lengthAdjust="spacingAndGlyphs" fill="#231f20">0</text>
<line x1="237.1" y1="475.2" x2="328.4" y2="475.2" stroke="#231f20" stroke-width="1.2"/>
<line x1="259" y1="475.2" x2="259" y2="478" stroke="#231f20" stroke-width="1"/>
<line x1="307.2" y1="475.2" x2="307.2" y2="478" stroke="#231f20" stroke-width="1"/>
<circle cx="259" cy="411.7" r="2.5" fill="none" stroke="#b5384a" stroke-width="1.1"/>
<circle cx="259" cy="419.1" r="2.5" fill="none" stroke="#b5384a" stroke-width="1.1"/>
<circle cx="251.8" cy="426.1" r="2.5" fill="none" stroke="#b5384a" stroke-width="1.1"/>
<circle cx="259" cy="432.9" r="2.5" fill="none" stroke="#b5384a" stroke-width="1.1"/>
<circle cx="259" cy="450.4" r="2.5" fill="none" stroke="#b5384a" stroke-width="1.1"/>
<line x1="244.4" y1="426.1" x2="273.4" y2="426.1" stroke="#231f20" stroke-width="1.4"/>
<circle cx="307.2" cy="441.8" r="2.5" fill="none" stroke="#4a6fa5" stroke-width="1.1"/>
<circle cx="307.2" cy="449.8" r="2.5" fill="none" stroke="#4a6fa5" stroke-width="1.1"/>
<circle cx="300.4" cy="457.4" r="2.5" fill="none" stroke="#4a6fa5" stroke-width="1.1"/>
<circle cx="314" cy="459.3" r="2.5" fill="none" stroke="#4a6fa5" stroke-width="1.1"/>
<circle cx="307.2" cy="464" r="2.5" fill="none" stroke="#4a6fa5" stroke-width="1.1"/>
<line x1="292.8" y1="457.4" x2="322" y2="457.4" stroke="#231f20" stroke-width="1.4"/>
<line x1="260" y1="391.1" x2="299.2" y2="391.1" stroke="#555" stroke-width="1.6"/>
<circle cx="279.4" cy="386.2" r="1.15" fill="#333"/>
<text transform="translate(202.00,437.80) rotate(-90)" font-size="9.6" textLength="16.80" lengthAdjust="spacingAndGlyphs" fill="#231f20">MFI</text>
<text x="248.72" y="489.90" font-size="8.2" textLength="20.35" lengthAdjust="spacingAndGlyphs" fill="#231f20">MN1-</text>
<text x="247.16" y="499.60" font-size="8.2" textLength="24.23" lengthAdjust="spacingAndGlyphs" fill="#231f20">conKD</text>
<text x="241.34" y="509.50" font-size="8.2" textLength="35.50" lengthAdjust="spacingAndGlyphs" fill="#231f20">engrafted</text>
<text x="248.20" y="519.30" font-size="8.2" textLength="21.28" lengthAdjust="spacingAndGlyphs" fill="#231f20">BMSC</text>
<text x="296.80" y="489.90" font-size="8.2" textLength="20.88" lengthAdjust="spacingAndGlyphs" fill="#231f20">MN1-</text>
<text x="289.75" y="499.60" font-size="8.2" textLength="35.02" lengthAdjust="spacingAndGlyphs" fill="#231f20">NOX2-KD</text>
<text x="289.44" y="509.50" font-size="8.2" textLength="35.50" lengthAdjust="spacingAndGlyphs" fill="#231f20">engrafted</text>
<text x="296.30" y="519.30" font-size="8.2" textLength="21.28" lengthAdjust="spacingAndGlyphs" fill="#231f20">BMSC</text>
<rect x="349.2" y="370.3" width="1.8" height="7.6" fill="#2a2a2a"/>
<text x="396.26" y="393.90" font-size="8.2" textLength="51.48" lengthAdjust="spacingAndGlyphs" fill="#231f20">P16-3MR Mice</text>
<line x1="379.7" y1="387.1" x2="379.7" y2="475.7" stroke="#231f20" stroke-width="1.1"/>
<line x1="376.7" y1="401.4" x2="379.7" y2="401.4" stroke="#231f20" stroke-width="1.0"/>
<text x="360.34" y="403.80" font-size="8.2" textLength="12.86" lengthAdjust="spacingAndGlyphs" fill="#231f20">100</text>
<line x1="376.7" y1="438.3" x2="379.7" y2="438.3" stroke="#231f20" stroke-width="1.0"/>
<text x="364.63" y="440.70" font-size="8.2" textLength="8.57" lengthAdjust="spacingAndGlyphs" fill="#231f20">50</text>
<line x1="376.7" y1="475.2" x2="379.7" y2="475.2" stroke="#231f20" stroke-width="1.0"/>
<text x="368.91" y="477.60" font-size="8.2" textLength="4.29" lengthAdjust="spacingAndGlyphs" fill="#231f20">0</text>
<line x1="379.2" y1="475.3" x2="501.4" y2="475.3" stroke="#231f20" stroke-width="1.2"/>
<line x1="379.6" y1="475.3" x2="379.6" y2="478.3" stroke="#231f20" stroke-width="1"/>
<line x1="409.53000000000003" y1="475.3" x2="409.53000000000003" y2="478.3" stroke="#231f20" stroke-width="1"/>
<line x1="439.46000000000004" y1="475.3" x2="439.46000000000004" y2="478.3" stroke="#231f20" stroke-width="1"/>
<line x1="469.39" y1="475.3" x2="469.39" y2="478.3" stroke="#231f20" stroke-width="1"/>
<line x1="499.32000000000005" y1="475.3" x2="499.32000000000005" y2="478.3" stroke="#231f20" stroke-width="1"/>
<text x="377.15" y="489.50" font-size="8.2" textLength="5.00" lengthAdjust="spacingAndGlyphs" fill="#231f20">0</text>
<text x="404.97" y="489.50" font-size="8.2" textLength="9.15" lengthAdjust="spacingAndGlyphs" fill="#231f20">10</text>
<text x="434.38" y="489.50" font-size="8.2" textLength="9.35" lengthAdjust="spacingAndGlyphs" fill="#231f20">20</text>
<text x="464.70" y="489.50" font-size="8.2" textLength="8.70" lengthAdjust="spacingAndGlyphs" fill="#231f20">30</text>
<text x="494.21" y="489.50" font-size="8.2" textLength="9.21" lengthAdjust="spacingAndGlyphs" fill="#231f20">40</text>
<path d="M379.60,401.40 H444.64 V419.85 H447.66 V456.75 H450.68 V475.20" fill="none" stroke="#633f74" stroke-width="1.3" stroke-linejoin="miter" stroke-linecap="butt"/>
<path d="M379.60,401.40 H453.70 V419.85 H459.74 V438.30 H471.82 V456.75 H477.86 V475.20" fill="none" stroke="#b3354a" stroke-width="1.3" stroke-linejoin="miter" stroke-linecap="butt"/>
<path d="M379.60,401.40 H462.76 V419.85 H465.78 V438.30 H474.84 V456.75 H477.86 V475.20" fill="none" stroke="#5c9e40" stroke-width="1.3" stroke-linejoin="miter" stroke-linecap="butt"/>
<path d="M379.60,401.40 H456.72 V419.85 H474.84 V438.30 H477.86 V456.75 H480.88 V475.20" fill="none" stroke="#62a8e0" stroke-width="1.3" stroke-linejoin="miter" stroke-linecap="butt"/>
<text transform="translate(353.70,472.05) rotate(-90)" font-size="9.9" textLength="75.70" lengthAdjust="spacingAndGlyphs" fill="#231f20">% animal survival</text>
<line x1="369.2" y1="498.8" x2="382.5" y2="498.8" stroke="#633f74" stroke-width="1.6"/>
<line x1="369.2" y1="511.8" x2="382.5" y2="511.8" stroke="#b3354a" stroke-width="1.6"/>
<line x1="441.8" y1="500.8" x2="455.8" y2="500.8" stroke="#62a8e0" stroke-width="1.6"/>
<line x1="441.8" y1="513.4" x2="455.8" y2="513.4" stroke="#5c9e40" stroke-width="1.6"/>
<text x="384.93" y="502.10" font-size="8.2" textLength="40.60" lengthAdjust="spacingAndGlyphs" fill="#231f20">PBS Con-KD</text>
<text x="384.94" y="514.90" font-size="8.2" textLength="42.39" lengthAdjust="spacingAndGlyphs" fill="#231f20">PBS NOX-KD</text>
<text x="458.85" y="504.00" font-size="8.2" textLength="42.29" lengthAdjust="spacingAndGlyphs" fill="#231f20">GCV Con-KD</text>
<text x="458.84" y="516.30" font-size="8.2" textLength="46.89" lengthAdjust="spacingAndGlyphs" fill="#231f20">GCV+NOX-KD</text>
<rect x="0" y="0" width="520" height="1" fill="#050505"/><rect x="0" y="1" width="520" height="1" fill="#c8c8c8"/>
<rect x="0" y="527.7" width="520" height="1.3" fill="#050505"/>
<rect x="0" y="0" width="1" height="529" fill="#454545"/><rect x="1" y="0" width="1" height="529" fill="#8a8a8a"/>
<rect x="519" y="0" width="1" height="529" fill="#4a4a4a"/><rect x="518" y="0" width="1" height="529" fill="#7a7a7a"/>
</svg>
</body></html>
